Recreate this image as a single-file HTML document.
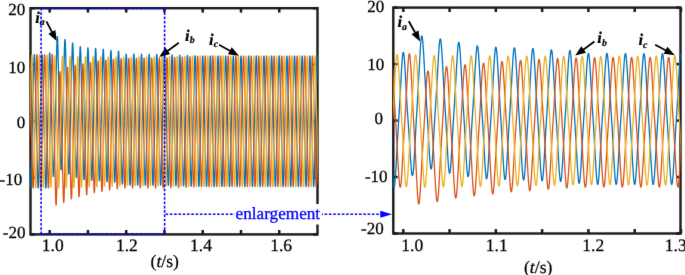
<!DOCTYPE html>
<html><head><meta charset="utf-8"><style>
html,body{margin:0;padding:0;background:#fff;}
svg{display:block;} text{text-rendering:geometricPrecision;}
</style></head><body>
<svg width="685" height="275" viewBox="0 0 685 275">
<defs><filter id="soft" x="0" y="0" width="1" height="1" color-interpolation-filters="sRGB"><feConvolveMatrix order="3" kernelMatrix="0.01 0.05 0.01 0.05 0.76 0.05 0.01 0.05 0.01" divisor="1" edgeMode="duplicate"/></filter></defs>
<g filter="url(#soft)">
<rect width="685" height="275" fill="#fff"/>
<g stroke="#1a1a1a" stroke-width="2.5"><line x1="49.69" y1="234.40" x2="49.69" y2="230.00"/><line x1="49.69" y1="8.20" x2="49.69" y2="12.60"/><line x1="87.95" y1="234.40" x2="87.95" y2="230.00"/><line x1="87.95" y1="8.20" x2="87.95" y2="12.60"/><line x1="126.21" y1="234.40" x2="126.21" y2="230.00"/><line x1="126.21" y1="8.20" x2="126.21" y2="12.60"/><line x1="164.47" y1="234.40" x2="164.47" y2="230.00"/><line x1="164.47" y1="8.20" x2="164.47" y2="12.60"/><line x1="202.73" y1="234.40" x2="202.73" y2="230.00"/><line x1="202.73" y1="8.20" x2="202.73" y2="12.60"/><line x1="240.99" y1="234.40" x2="240.99" y2="230.00"/><line x1="240.99" y1="8.20" x2="240.99" y2="12.60"/><line x1="279.25" y1="234.40" x2="279.25" y2="230.00"/><line x1="279.25" y1="8.20" x2="279.25" y2="12.60"/><line x1="30.50" y1="234.40" x2="34.90" y2="234.40"/><line x1="317.50" y1="234.40" x2="313.10" y2="234.40"/><line x1="30.50" y1="177.85" x2="34.90" y2="177.85"/><line x1="317.50" y1="177.85" x2="313.10" y2="177.85"/><line x1="30.50" y1="121.30" x2="34.90" y2="121.30"/><line x1="317.50" y1="121.30" x2="313.10" y2="121.30"/><line x1="30.50" y1="64.75" x2="34.90" y2="64.75"/><line x1="317.50" y1="64.75" x2="313.10" y2="64.75"/><line x1="30.50" y1="8.20" x2="34.90" y2="8.20"/><line x1="317.50" y1="8.20" x2="313.10" y2="8.20"/><rect x="30.50" y="8.20" width="287.00" height="226.20" fill="none" stroke-width="2.4"/></g>
<g stroke="#1a1a1a" stroke-width="2.5"><line x1="403.30" y1="233.50" x2="403.30" y2="229.10"/><line x1="403.30" y1="7.60" x2="403.30" y2="12.00"/><line x1="449.58" y1="233.50" x2="449.58" y2="229.10"/><line x1="449.58" y1="7.60" x2="449.58" y2="12.00"/><line x1="495.86" y1="233.50" x2="495.86" y2="229.10"/><line x1="495.86" y1="7.60" x2="495.86" y2="12.00"/><line x1="542.14" y1="233.50" x2="542.14" y2="229.10"/><line x1="542.14" y1="7.60" x2="542.14" y2="12.00"/><line x1="588.42" y1="233.50" x2="588.42" y2="229.10"/><line x1="588.42" y1="7.60" x2="588.42" y2="12.00"/><line x1="634.70" y1="233.50" x2="634.70" y2="229.10"/><line x1="634.70" y1="7.60" x2="634.70" y2="12.00"/><line x1="680.98" y1="233.50" x2="680.98" y2="229.10"/><line x1="680.98" y1="7.60" x2="680.98" y2="12.00"/><line x1="393.30" y1="233.50" x2="397.70" y2="233.50"/><line x1="680.50" y1="233.50" x2="676.10" y2="233.50"/><line x1="393.30" y1="177.03" x2="397.70" y2="177.03"/><line x1="680.50" y1="177.03" x2="676.10" y2="177.03"/><line x1="393.30" y1="120.55" x2="397.70" y2="120.55"/><line x1="680.50" y1="120.55" x2="676.10" y2="120.55"/><line x1="393.30" y1="64.08" x2="397.70" y2="64.08"/><line x1="680.50" y1="64.08" x2="676.10" y2="64.08"/><line x1="393.30" y1="7.60" x2="397.70" y2="7.60"/><line x1="680.50" y1="7.60" x2="676.10" y2="7.60"/><rect x="393.30" y="7.60" width="287.20" height="225.90" fill="none" stroke-width="2.4"/></g>
<clipPath id="cl"><rect x="30.30" y="8.90" width="287.40" height="224.80"/></clipPath><g clip-path="url(#cl)">
<polyline fill="none" stroke="#0072BD" stroke-width="1.3" stroke-linejoin="round" points="29.50,156.86 29.61,162.00 29.73,167.01 29.84,171.78 29.96,176.16 30.07,180.03 30.19,183.25 30.30,185.71 30.42,187.31 30.53,188.00 30.65,187.75 30.76,186.57 30.88,184.51 30.99,181.63 31.11,178.06 31.22,173.90 31.34,169.29 31.45,164.38 31.57,159.28 31.68,154.13 31.80,149.00 31.91,143.98 32.03,139.10 32.14,134.37 32.25,129.78 32.37,125.30 32.48,120.87 32.60,116.43 32.71,111.92 32.83,107.31 32.94,102.55 33.06,97.64 33.17,92.60 33.29,87.46 33.40,82.31 33.52,77.24 33.63,72.38 33.75,67.85 33.86,63.79 33.98,60.34 34.09,57.62 34.21,55.72 34.32,54.72 34.44,54.66 34.55,55.53 34.67,57.31 34.78,59.92 34.89,63.28 35.01,67.26 35.12,71.73 35.24,76.56 35.35,81.61 35.47,86.75 35.58,91.90 35.70,96.96 35.81,101.89 35.93,106.67 36.04,111.30 36.16,115.82 36.27,120.26 36.39,124.69 36.50,129.16 36.62,133.74 36.73,138.44 36.85,143.30 36.96,148.31 37.08,153.42 37.19,158.58 37.31,163.69 37.42,168.63 37.53,173.29 37.65,177.52 37.76,181.18 37.88,184.16 37.99,186.34 38.11,187.65 38.22,188.02 38.34,187.46 38.45,185.98 38.57,183.64 38.68,180.51 38.80,176.73 38.91,172.40 39.03,167.68 39.14,162.69 39.26,157.57 39.37,152.41 39.49,147.31 39.60,142.34 39.72,137.51 39.83,132.83 39.94,128.28 40.06,123.82 40.17,119.39 40.29,114.94 40.40,110.40 40.52,105.74 40.63,100.93 40.75,95.97 40.86,90.89 40.98,85.74 41.09,80.60 41.21,75.59 41.32,70.82 41.44,66.44 41.55,62.57 41.67,59.35 41.78,56.89 41.90,55.29 42.01,54.60 42.13,54.85 42.24,56.03 42.36,58.09 42.47,60.97 42.58,64.54 42.70,68.70 42.81,73.31 42.93,78.22 43.04,83.32 43.16,88.47 43.27,93.60 43.39,98.62 43.50,103.50 43.62,108.23 43.73,112.82 43.85,117.30 43.96,121.73 44.08,126.17 44.19,130.68 44.31,135.29 44.42,140.05 44.54,144.96 44.65,150.00 44.77,155.14 44.88,160.29 45.00,165.36 45.11,170.22 45.22,174.75 45.34,178.81 45.45,182.26 45.57,184.98 45.68,186.88 45.80,187.88 45.91,187.94 46.03,187.07 46.14,185.29 46.26,182.68 46.37,179.32 46.49,175.34 46.60,170.87 46.72,166.04 46.83,160.99 46.95,155.85 47.06,150.70 47.18,145.64 47.29,140.71 47.41,135.93 47.52,131.30 47.64,126.78 47.75,122.34 47.86,117.91 47.98,113.41 48.09,108.81 48.21,104.06 48.32,99.14 48.44,94.05 48.55,88.85 48.67,83.58 48.78,78.35 48.90,73.26 49.01,68.46 49.13,64.07 49.24,60.25 49.36,57.12 49.47,54.79 49.59,53.36 49.70,52.88 49.82,53.51 49.93,55.08 50.05,57.53 50.16,60.77 50.28,64.68 50.39,69.14 50.50,73.99 50.62,79.11 50.73,84.36 50.85,89.64 50.96,94.84 51.08,99.92 51.19,104.84 51.31,109.15 51.42,113.18 51.54,117.11 51.65,121.00 51.77,124.91 51.88,128.89 52.00,133.00 52.11,137.25 52.23,141.64 52.34,146.15 52.46,150.72 52.57,155.27 52.69,159.68 52.80,163.84 52.92,167.62 53.03,170.86 53.14,173.45 53.26,175.27 53.37,176.23 53.49,176.28 53.60,175.73 53.72,174.37 53.83,172.11 53.95,169.05 54.06,165.28 54.18,160.94 54.29,156.14 54.41,151.04 54.52,145.76 54.64,140.42 54.75,135.11 54.87,129.90 54.98,124.84 55.10,119.92 55.21,115.15 55.33,110.48 55.44,105.86 55.56,101.24 55.67,96.55 55.78,91.75 55.90,86.81 56.01,81.72 56.13,76.49 56.24,71.17 56.36,65.84 56.47,60.59 56.59,55.54 56.70,50.83 56.82,46.59 56.93,42.96 57.05,40.06 57.16,37.98 57.28,36.79 57.39,36.62 57.51,37.50 57.62,39.27 57.74,41.89 57.85,45.24 57.97,49.22 58.08,53.69 58.19,58.51 58.31,63.56 58.42,68.70 58.54,73.84 58.65,78.89 58.77,83.82 58.88,88.59 59.00,93.22 59.11,97.73 59.23,102.16 59.34,106.59 59.46,111.06 59.57,115.62 59.69,120.32 59.80,125.18 59.92,130.17 60.03,135.28 60.15,140.42 60.26,145.52 60.38,150.46 60.49,155.11 60.61,159.33 60.72,162.99 60.83,165.96 60.95,168.13 61.06,169.43 61.18,169.82 61.29,169.34 61.41,167.94 61.52,165.69 61.64,162.65 61.75,158.96 61.87,154.73 61.98,150.09 62.10,145.20 62.21,140.17 62.33,135.11 62.44,130.11 62.56,125.22 62.67,120.49 62.79,115.90 62.90,111.45 63.02,107.08 63.13,102.75 63.25,98.39 63.36,93.95 63.47,89.39 63.59,84.67 63.70,79.81 63.82,74.83 63.93,69.77 64.05,64.74 64.16,59.82 64.28,55.15 64.39,50.86 64.51,47.09 64.62,43.97 64.74,41.60 64.85,40.09 64.97,39.49 65.08,39.80 65.20,41.03 65.31,43.14 65.43,46.06 65.54,49.68 65.66,53.88 65.77,58.52 65.89,63.48 66.00,68.61 66.11,73.80 66.23,78.96 66.34,84.02 66.46,88.94 66.57,93.70 66.69,98.33 66.80,102.85 66.92,107.32 67.03,111.79 67.15,116.33 67.26,120.98 67.38,125.77 67.49,130.72 67.61,135.80 67.72,140.97 67.84,146.15 67.95,151.25 68.07,156.15 68.18,160.71 68.30,164.81 68.41,168.29 68.53,171.05 68.64,172.99 68.75,174.04 68.87,174.15 68.98,173.33 69.10,171.61 69.21,169.05 69.33,165.76 69.44,161.84 69.56,157.44 69.67,152.68 69.79,147.70 69.90,142.62 70.02,137.55 70.13,132.56 70.25,127.69 70.36,122.99 70.48,118.42 70.59,113.98 70.71,109.60 70.82,105.24 70.94,100.83 71.05,96.33 71.17,91.69 71.28,86.91 71.39,81.97 71.51,76.93 71.62,71.85 71.74,66.82 71.85,61.94 71.97,57.36 72.08,53.20 72.20,49.60 72.31,46.69 72.43,44.57 72.54,43.33 72.66,43.00 72.77,43.62 72.89,45.14 73.00,47.53 73.12,50.69 73.23,54.51 73.35,58.87 73.46,63.62 73.58,68.64 73.69,73.79 73.81,78.97 73.92,84.10 74.03,89.10 74.15,93.96 74.26,98.67 74.38,103.25 74.49,107.74 74.61,112.20 74.72,116.68 74.84,121.24 74.95,125.93 75.07,130.76 75.18,135.75 75.30,140.85 75.41,146.03 75.53,151.19 75.64,156.23 75.76,161.02 75.87,165.43 75.99,169.33 76.10,172.58 76.22,175.08 76.33,176.72 76.45,177.46 76.56,177.26 76.67,176.13 76.79,174.13 76.90,171.32 77.02,167.81 77.13,163.72 77.25,159.19 77.36,154.35 77.48,149.34 77.59,144.26 77.71,139.22 77.82,134.27 77.94,129.47 78.05,124.82 78.17,120.31 78.28,115.90 78.40,111.54 78.51,107.18 78.63,102.76 78.74,98.22 78.86,93.54 78.97,88.71 79.08,83.75 79.20,78.69 79.31,73.62 79.43,68.64 79.54,63.86 79.66,59.41 79.77,55.43 79.89,52.05 80.00,49.40 80.12,47.57 80.23,46.63 80.35,46.60 80.46,47.49 80.58,49.27 80.69,51.89 80.81,55.24 80.92,59.22 81.04,63.68 81.15,68.49 81.27,73.53 81.38,78.66 81.50,83.78 81.61,88.83 81.72,93.75 81.84,98.51 81.95,103.13 82.07,107.63 82.18,112.06 82.30,116.48 82.41,120.94 82.53,125.50 82.64,130.19 82.76,135.04 82.87,140.02 82.99,145.12 83.10,150.25 83.22,155.34 83.33,160.27 83.45,164.91 83.56,169.12 83.68,172.78 83.79,175.75 83.91,177.93 84.02,179.24 84.14,179.63 84.25,179.09 84.36,177.63 84.48,175.32 84.59,172.24 84.71,168.49 84.82,164.22 84.94,159.54 85.05,154.61 85.17,149.53 85.28,144.43 85.40,139.39 85.51,134.47 85.63,129.69 85.74,125.06 85.86,120.57 85.97,116.15 86.09,111.78 86.20,107.37 86.32,102.89 86.43,98.29 86.55,93.53 86.66,88.63 86.78,83.60 86.89,78.51 87.00,73.43 87.12,68.47 87.23,63.76 87.35,59.43 87.46,55.61 87.58,52.43 87.69,50.02 87.81,48.44 87.92,47.78 88.04,48.04 88.15,49.22 88.27,51.28 88.38,54.14 88.50,57.70 88.61,61.83 88.73,66.41 88.84,71.29 88.96,76.35 89.07,81.48 89.19,86.57 89.30,91.56 89.42,96.41 89.53,101.10 89.64,105.66 89.76,110.12 89.87,114.52 89.99,118.93 90.10,123.40 90.22,127.99 90.33,132.71 90.45,137.59 90.56,142.60 90.68,147.70 90.79,152.81 90.91,157.84 91.02,162.67 91.14,167.17 91.25,171.20 91.37,174.62 91.48,177.33 91.60,179.21 91.71,180.21 91.83,180.28 91.94,179.42 92.06,177.67 92.17,175.08 92.28,171.76 92.40,167.83 92.51,163.40 92.63,158.63 92.74,153.63 92.86,148.54 92.97,143.45 93.09,138.44 93.20,133.57 93.32,128.84 93.43,124.26 93.55,119.80 93.66,115.40 93.78,111.02 93.89,106.60 94.01,102.08 94.12,97.42 94.24,92.62 94.35,87.67 94.47,82.62 94.58,77.52 94.70,72.47 94.81,67.58 94.92,62.98 95.04,58.80 95.15,55.18 95.27,52.24 95.38,50.09 95.50,48.81 95.61,48.45 95.73,49.01 95.84,50.49 95.96,52.82 96.07,55.92 96.19,59.68 96.30,63.97 96.42,68.66 96.53,73.61 96.65,78.69 96.76,83.80 96.88,88.86 96.99,93.79 97.11,98.58 97.22,103.22 97.33,107.73 97.45,112.16 97.56,116.55 97.68,120.97 97.79,125.46 97.91,130.08 98.02,134.85 98.14,139.76 98.25,144.80 98.37,149.91 98.48,155.00 98.60,159.96 98.71,164.69 98.83,169.04 98.94,172.87 99.06,176.06 99.17,178.50 99.29,180.09 99.40,180.78 99.52,180.54 99.63,179.38 99.75,177.35 99.86,174.51 99.97,170.98 100.09,166.87 100.20,162.32 100.32,157.47 100.43,152.44 100.55,147.35 100.66,142.29 100.78,137.33 100.89,132.51 101.01,127.84 101.12,123.31 101.24,118.88 101.35,114.51 101.47,110.13 101.58,105.69 101.70,101.13 101.81,96.44 101.93,91.59 102.04,86.61 102.16,81.54 102.27,76.46 102.39,71.46 102.50,66.66 102.61,62.19 102.73,58.19 102.84,54.79 102.96,52.11 103.07,50.25 103.19,49.27 103.30,49.22 103.42,50.10 103.53,51.88 103.65,54.48 103.76,57.82 103.88,61.77 103.99,66.21 104.11,70.99 104.22,76.00 104.34,81.10 104.45,86.20 104.57,91.22 104.68,96.11 104.80,100.85 104.91,105.44 105.03,109.92 105.14,114.33 105.25,118.72 105.37,123.16 105.48,127.70 105.60,132.36 105.71,137.18 105.83,142.14 105.94,147.21 106.06,152.32 106.17,157.38 106.29,162.28 106.40,166.89 106.52,171.08 106.63,174.72 106.75,177.68 106.86,179.85 106.98,181.15 107.09,181.54 107.21,181.00 107.32,179.55 107.44,177.25 107.55,174.18 107.67,170.46 107.78,166.21 107.89,161.56 108.01,156.65 108.12,151.60 108.24,146.53 108.35,141.52 108.47,136.62 108.58,131.87 108.70,127.26 108.81,122.79 108.93,118.40 109.04,114.05 109.16,109.67 109.27,105.21 109.39,100.63 109.50,95.90 109.62,91.03 109.73,86.03 109.85,80.96 109.96,75.91 110.08,70.98 110.19,66.29 110.31,61.98 110.42,58.19 110.53,55.03 110.65,52.62 110.76,51.06 110.88,50.40 110.99,50.65 111.11,51.83 111.22,53.88 111.34,56.72 111.45,60.26 111.57,64.38 111.68,68.93 111.80,73.79 111.91,78.82 112.03,83.91 112.14,88.98 112.26,93.94 112.37,98.76 112.49,103.43 112.60,107.97 112.72,112.40 112.83,116.78 112.95,121.17 113.06,125.62 113.17,130.17 113.29,134.87 113.40,139.72 113.52,144.71 113.63,149.78 113.75,154.86 113.86,159.87 113.98,164.67 114.09,169.14 114.21,173.15 114.32,176.56 114.44,179.25 114.55,181.12 114.67,182.12 114.78,182.19 114.90,181.33 115.01,179.59 115.13,177.02 115.24,173.72 115.36,169.80 115.47,165.40 115.58,160.65 115.70,155.68 115.81,150.62 115.93,145.56 116.04,140.58 116.16,135.72 116.27,131.02 116.39,126.47 116.50,122.03 116.62,117.66 116.73,113.30 116.85,108.90 116.96,104.41 117.08,99.78 117.19,95.00 117.31,90.08 117.42,85.05 117.54,79.98 117.65,74.96 117.77,70.09 117.88,65.52 118.00,61.36 118.11,57.76 118.22,54.84 118.34,52.70 118.45,51.43 118.57,51.07 118.68,51.68 118.80,53.19 118.91,55.55 119.03,58.68 119.14,62.46 119.26,66.77 119.37,71.47 119.49,76.43 119.60,81.53 119.72,86.66 119.83,91.73 119.95,96.68 120.06,101.49 120.18,106.14 120.29,110.67 120.41,115.12 120.52,119.53 120.64,123.96 120.75,128.48 120.86,133.11 120.98,137.90 121.09,142.83 121.21,147.88 121.32,153.00 121.44,158.10 121.55,163.09 121.67,167.83 121.78,172.20 121.90,176.05 122.01,179.27 122.13,181.74 122.24,183.36 122.36,184.09 122.47,183.88 122.59,182.75 122.70,180.75 122.82,177.96 122.93,174.47 123.05,170.41 123.16,165.91 123.28,161.11 123.39,156.13 123.50,151.09 123.62,146.09 123.73,141.18 123.85,136.41 123.96,131.80 124.08,127.32 124.19,122.94 124.31,118.61 124.42,114.28 124.54,109.89 124.65,105.39 124.77,100.74 124.88,95.95 125.00,91.02 125.11,86.00 125.23,80.97 125.34,76.03 125.46,71.28 125.57,66.86 125.69,62.91 125.80,59.55 125.92,56.91 126.03,55.08 126.14,54.13 126.26,54.09 126.37,54.95 126.49,56.70 126.60,59.27 126.72,62.57 126.83,66.49 126.95,70.88 127.06,75.63 127.18,80.59 127.29,85.65 127.41,90.71 127.52,95.69 127.64,100.53 127.75,105.23 127.87,109.79 127.98,114.23 128.10,118.59 128.21,122.95 128.33,127.35 128.44,131.84 128.56,136.47 128.67,141.25 128.78,146.17 128.90,151.20 129.01,156.26 129.13,161.29 129.24,166.15 129.36,170.73 129.47,174.88 129.59,178.49 129.70,181.41 129.82,183.56 129.93,184.84 130.05,185.21 130.16,184.66 130.28,183.20 130.39,180.90 130.51,177.83 130.62,174.11 130.74,169.86 130.85,165.22 130.97,160.32 131.08,155.28 131.20,150.22 131.31,145.21 131.42,140.32 131.54,135.57 131.65,130.97 131.77,126.50 131.88,122.12 132.00,117.77 132.11,113.39 132.23,108.94 132.34,104.36 132.46,99.63 132.57,94.76 132.69,89.77 132.80,84.71 132.92,79.66 133.03,74.74 133.15,70.05 133.26,65.74 133.38,61.94 133.49,58.78 133.61,56.37 133.72,54.79 133.84,54.12 133.95,54.36 134.06,55.52 134.18,57.55 134.29,60.38 134.41,63.90 134.52,67.98 134.64,72.51 134.75,77.34 134.87,82.35 134.98,87.41 135.10,92.45 135.21,97.39 135.33,102.18 135.44,106.83 135.56,111.34 135.67,115.75 135.79,120.10 135.90,124.46 136.02,128.89 136.13,133.42 136.25,138.10 136.36,142.92 136.47,147.88 136.59,152.93 136.70,157.99 136.82,162.97 136.93,167.75 137.05,172.20 137.16,176.18 137.28,179.57 137.39,182.25 137.51,184.11 137.62,185.09 137.74,185.16 137.85,184.30 137.97,182.55 138.08,179.99 138.20,176.69 138.31,172.78 138.43,168.39 138.54,163.65 138.66,158.69 138.77,153.63 138.89,148.58 139.00,143.61 139.11,138.77 139.23,134.07 139.34,129.52 139.46,125.09 139.57,120.72 139.69,116.37 139.80,111.98 139.92,107.49 140.03,102.87 140.15,98.09 140.26,93.18 140.38,88.16 140.49,83.09 140.61,78.08 140.72,73.22 140.84,68.65 140.95,64.49 141.07,60.89 141.18,57.97 141.30,55.83 141.41,54.55 141.53,54.18 141.64,54.73 141.75,56.19 141.87,58.49 141.98,61.56 142.10,65.28 142.21,69.53 142.33,74.17 142.44,79.07 142.56,84.11 142.67,89.17 142.79,94.18 142.90,99.07 143.02,103.81 143.13,108.41 143.25,112.88 143.36,117.26 143.48,121.61 143.59,125.98 143.71,130.44 143.82,135.01 143.94,139.74 144.05,144.61 144.17,149.60 144.28,154.66 144.39,159.70 144.51,164.63 144.62,169.31 144.74,173.62 144.85,177.42 144.97,180.58 145.08,182.99 145.20,184.57 145.31,185.25 145.43,185.00 145.54,183.84 145.66,181.82 145.77,178.99 145.89,175.48 146.00,171.40 146.12,166.87 146.23,162.05 146.35,157.05 146.46,151.99 146.58,146.96 146.69,142.03 146.81,137.23 146.92,132.59 147.03,128.09 147.15,123.68 147.26,119.33 147.38,114.97 147.49,110.56 147.61,106.03 147.72,101.36 147.84,96.54 147.95,91.58 148.07,86.54 148.18,81.48 148.30,76.51 148.41,71.73 148.53,67.29 148.64,63.31 148.76,59.92 148.87,57.25 148.99,55.39 149.10,54.41 149.22,54.35 149.33,55.21 149.45,56.95 149.56,59.52 149.67,62.82 149.79,66.73 149.90,71.12 150.02,75.86 150.13,80.81 150.25,85.87 150.36,90.92 150.48,95.89 150.59,100.73 150.71,105.42 150.82,109.97 150.94,114.40 151.05,118.77 151.17,123.12 151.28,127.51 151.40,132.00 151.51,136.62 151.63,141.39 151.74,146.30 151.86,151.32 151.97,156.39 152.09,161.40 152.20,166.26 152.31,170.83 152.43,174.98 152.54,178.58 152.66,181.50 152.77,183.64 152.89,184.92 153.00,185.30 153.12,184.74 153.23,183.29 153.35,180.99 153.46,177.93 153.58,174.21 153.69,169.97 153.81,165.33 153.92,160.43 154.04,155.40 154.15,150.35 154.27,145.34 154.38,140.46 154.50,135.72 154.61,131.13 154.72,126.66 154.84,122.29 154.95,117.94 155.07,113.57 155.18,109.12 155.30,104.55 155.41,99.83 155.53,94.96 155.64,89.98 155.76,84.92 155.87,79.88 155.99,74.96 156.10,70.29 156.22,65.98 156.33,62.19 156.45,59.03 156.56,56.62 156.68,55.05 156.79,54.37 156.91,54.62 157.02,55.78 157.14,57.80 157.25,60.63 157.36,64.14 157.48,68.22 157.59,72.74 157.71,77.57 157.82,82.57 157.94,87.63 158.05,92.65 158.17,97.58 158.28,102.37 158.40,107.01 158.51,111.52 158.63,115.92 158.74,120.27 158.86,124.63 158.97,129.05 159.09,133.57 159.20,138.24 159.32,143.06 159.43,148.01 159.55,153.05 159.66,158.11 159.78,163.08 159.89,167.86 160.00,172.30 160.12,176.28 160.23,179.66 160.35,182.34 160.46,184.20 160.58,185.18 160.69,185.24 160.81,184.39 160.92,182.64 161.04,180.08 161.15,176.79 161.27,172.88 161.38,168.49 161.50,163.76 161.61,158.81 161.73,153.76 161.84,148.71 161.96,143.75 162.07,138.91 162.19,134.22 162.30,129.68 162.42,125.25 162.53,120.89 162.64,116.55 162.76,112.16 162.87,107.67 162.99,103.06 163.10,98.29 163.22,93.38 163.33,88.37 163.45,83.31 163.56,78.30 163.68,73.45 163.79,68.88 163.91,64.73 164.02,61.14 164.14,58.22 164.25,56.08 164.37,54.80 164.48,54.43 164.60,54.99 164.71,56.45 164.83,58.75 164.94,61.82 165.06,65.54 165.17,69.79 165.28,74.42 165.40,79.32 165.51,84.35 165.63,89.41 165.74,94.42 165.86,99.30 165.97,104.05 166.09,108.64 166.20,113.10 166.32,117.49 166.43,121.83 166.55,126.21 166.66,130.66 166.78,135.23 166.89,139.95 167.01,144.82 167.12,149.81 167.24,154.86 167.35,159.91 167.47,164.83 167.58,169.51 167.70,173.81 167.81,177.61 167.92,180.77 168.04,183.19 168.15,184.76 168.27,185.44 168.38,185.20 168.50,184.05 168.61,182.03 168.73,179.21 168.84,175.71 168.96,171.63 169.07,167.12 169.19,162.30 169.30,157.31 169.42,152.26 169.53,147.24 169.65,142.32 169.76,137.54 169.88,132.90 169.99,128.41 170.11,124.02 170.22,119.67 170.34,115.32 170.45,110.91 170.56,106.39 170.68,101.73 170.79,96.92 170.91,91.98 171.02,86.95 171.14,81.90 171.25,76.93 171.37,72.17 171.48,67.73 171.60,63.76 171.71,60.38 171.83,57.72 171.94,55.86 172.06,54.89 172.17,54.83 172.29,55.69 172.40,57.44 172.52,60.01 172.63,63.30 172.75,67.21 172.86,71.60 172.97,76.34 173.09,81.29 173.20,86.34 173.32,91.39 173.43,96.35 173.55,101.19 173.66,105.88 173.78,110.43 173.89,114.86 174.01,119.22 174.12,123.57 174.24,127.96 174.35,132.44 174.47,137.06 174.58,141.83 174.70,146.74 174.81,151.76 174.93,156.82 175.04,161.83 175.16,166.68 175.27,171.25 175.39,175.40 175.50,179.00 175.61,181.92 175.73,184.06 175.84,185.35 175.96,185.72 176.07,185.17 176.19,183.72 176.30,181.43 176.42,178.37 176.53,174.67 176.65,170.43 176.76,165.80 176.88,160.92 176.99,155.90 177.11,150.85 177.22,145.86 177.34,140.98 177.45,136.25 177.57,131.67 177.68,127.22 177.80,122.85 177.91,118.51 178.03,114.15 178.14,109.71 178.25,105.15 178.37,100.44 178.48,95.58 178.60,90.60 178.71,85.56 178.83,80.53 178.94,75.62 179.06,70.95 179.17,66.66 179.29,62.87 179.40,59.72 179.52,57.32 179.63,55.75 179.75,55.08 179.86,55.33 179.98,56.49 180.09,58.52 180.21,61.34 180.32,64.85 180.44,68.93 180.55,73.45 180.67,78.27 180.78,83.27 180.89,88.32 181.01,93.35 181.12,98.27 181.24,103.06 181.35,107.70 181.47,112.20 181.58,116.60 181.70,120.95 181.81,125.30 181.93,129.72 182.04,134.24 182.16,138.91 182.27,143.73 182.39,148.68 182.50,153.71 182.62,158.77 182.73,163.74 182.85,168.51 182.96,172.95 183.08,176.93 183.19,180.31 183.31,182.98 183.42,184.84 183.53,185.83 183.65,185.89 183.76,185.04 183.88,183.31 183.99,180.75 184.11,177.46 184.22,173.57 184.34,169.19 184.45,164.46 184.57,159.52 184.68,154.48 184.80,149.45 184.91,144.49 185.03,139.66 185.14,134.99 185.26,130.45 185.37,126.03 185.49,121.68 185.60,117.35 185.72,112.97 185.83,108.49 185.95,103.88 186.06,99.13 186.17,94.23 186.29,89.22 186.40,84.17 186.52,79.17 186.63,74.33 186.75,69.78 186.86,65.64 186.98,62.05 187.09,59.14 187.21,57.01 187.32,55.73 187.44,55.37 187.55,55.92 187.67,57.38 187.78,59.68 187.90,62.74 188.01,66.46 188.13,70.70 188.24,75.33 188.36,80.22 188.47,85.25 188.59,90.30 188.70,95.30 188.81,100.18 188.93,104.91 189.04,109.50 189.16,113.96 189.27,118.34 189.39,122.68 189.50,127.05 189.62,131.49 189.73,136.06 189.85,140.77 189.96,145.64 190.08,150.62 190.19,155.67 190.31,160.70 190.42,165.62 190.54,170.29 190.65,174.59 190.77,178.38 190.88,181.54 191.00,183.95 191.11,185.53 191.23,186.21 191.34,185.97 191.45,184.81 191.57,182.80 191.68,179.98 191.80,176.48 191.91,172.41 192.03,167.91 192.14,163.10 192.26,158.11 192.37,153.07 192.49,148.05 192.60,143.14 192.72,138.36 192.83,133.74 192.95,129.25 193.06,124.86 193.18,120.52 193.29,116.18 193.41,111.77 193.52,107.26 193.64,102.60 193.75,97.80 193.86,92.86 193.98,87.84 194.09,82.80 194.21,77.84 194.32,73.08 194.44,68.65 194.55,64.68 194.67,61.31 194.78,58.65 194.90,56.79 195.01,55.82 195.13,55.76 195.24,56.62 195.36,58.37 195.47,60.93 195.59,64.22 195.70,68.13 195.82,72.51 195.93,77.24 196.05,82.19 196.16,87.23 196.28,92.27 196.39,97.23 196.50,102.06 196.62,106.75 196.73,111.29 196.85,115.71 196.96,120.07 197.08,124.41 197.19,128.80 197.31,133.28 197.42,137.89 197.54,142.65 197.65,147.56 197.77,152.57 197.88,157.62 198.00,162.62 198.11,167.47 198.23,172.03 198.34,176.18 198.46,179.77 198.57,182.69 198.69,184.83 198.80,186.11 198.92,186.48 199.03,185.94 199.14,184.49 199.26,182.20 199.37,179.15 199.49,175.44 199.60,171.21 199.72,166.59 199.83,161.71 199.95,156.70 200.06,151.66 200.18,146.67 200.29,141.80 200.41,137.08 200.52,132.50 200.64,128.05 200.75,123.69 200.87,119.36 200.98,115.00 201.10,110.57 201.21,106.01 201.33,101.31 201.44,96.46 201.56,91.49 201.67,86.45 201.78,81.43 201.90,76.53 202.01,71.86 202.13,67.57 202.24,63.79 202.36,60.65 202.47,58.25 202.59,56.68 202.70,56.01 202.82,56.25 202.93,57.41 203.05,59.43 203.16,62.24 203.28,65.75 203.39,69.82 203.51,74.33 203.62,79.14 203.74,84.12 203.85,89.17 203.97,94.18 204.08,99.10 204.20,103.88 204.31,108.50 204.42,113.00 204.54,117.39 204.65,121.73 204.77,126.07 204.88,130.48 205.00,134.99 205.11,139.65 205.23,144.46 205.34,149.40 205.46,154.42 205.57,159.47 205.69,164.43 205.80,169.19 205.92,173.62 206.03,177.59 206.15,180.97 206.26,183.63 206.38,185.49 206.49,186.47 206.61,186.53 206.72,185.67 206.84,183.93 206.95,181.38 207.06,178.09 207.18,174.19 207.29,169.82 207.41,165.09 207.52,160.15 207.64,155.11 207.75,150.08 207.87,145.12 207.98,140.30 208.10,135.62 208.21,131.09 208.33,126.67 208.44,122.32 208.56,117.98 208.67,113.60 208.79,109.13 208.90,104.52 209.02,99.76 209.13,94.86 209.25,89.86 209.36,84.81 209.48,79.81 209.59,74.97 209.70,70.41 209.82,66.27 209.93,62.69 210.05,59.77 210.16,57.64 210.28,56.36 210.39,55.99 210.51,56.54 210.62,57.99 210.74,60.29 210.85,63.34 210.97,67.05 211.08,71.28 211.20,75.90 211.31,80.79 211.43,85.80 211.54,90.85 211.66,95.84 211.77,100.71 211.89,105.44 212.00,110.02 212.11,114.47 212.23,118.84 212.34,123.17 212.46,127.53 212.57,131.97 212.69,136.53 212.80,141.24 212.92,146.09 213.03,151.06 213.15,156.11 213.26,161.13 213.38,166.04 213.49,170.71 213.61,175.00 213.72,178.79 213.84,181.94 213.95,184.34 214.07,185.91 214.18,186.59 214.30,186.35 214.41,185.19 214.53,183.17 214.64,180.36 214.75,176.85 214.87,172.78 214.98,168.27 215.10,163.46 215.21,158.48 215.33,153.43 215.44,148.42 215.56,143.50 215.67,138.72 215.79,134.10 215.90,129.60 216.02,125.21 216.13,120.87 216.25,116.53 216.36,112.12 216.48,107.61 216.59,102.95 216.71,98.14 216.82,93.20 216.94,88.18 217.05,83.13 217.17,78.17 217.28,73.41 217.39,68.98 217.51,65.01 217.62,61.63 217.74,58.97 217.85,57.11 217.97,56.13 218.08,56.07 218.20,56.93 218.31,58.67 218.43,61.22 218.54,64.51 218.66,68.41 218.77,72.78 218.89,77.51 219.00,82.45 219.12,87.49 219.23,92.52 219.35,97.48 219.46,102.30 219.58,106.98 219.69,111.51 219.81,115.93 219.92,120.28 220.03,124.62 220.15,129.00 220.26,133.47 220.38,138.08 220.49,142.84 220.61,147.74 220.72,152.74 220.84,157.79 220.95,162.79 221.07,167.63 221.18,172.19 221.30,176.33 221.41,179.91 221.53,182.83 221.64,184.96 221.76,186.24 221.87,186.61 221.99,186.06 222.10,184.61 222.22,182.31 222.33,179.26 222.45,175.55 222.56,171.32 222.67,166.70 222.79,161.81 222.90,156.80 223.02,151.75 223.13,146.76 223.25,141.89 223.36,137.16 223.48,132.58 223.59,128.13 223.71,123.76 223.82,119.43 223.94,115.07 224.05,110.63 224.17,106.07 224.28,101.36 224.40,96.51 224.51,91.54 224.63,86.49 224.74,81.47 224.86,76.56 224.97,71.89 225.09,67.60 225.20,63.81 225.31,60.66 225.43,58.26 225.54,56.69 225.66,56.01 225.77,56.25 225.89,57.41 226.00,59.43 226.12,62.24 226.23,65.75 226.35,69.82 226.46,74.33 226.58,79.14 226.69,84.12 226.81,89.17 226.92,94.18 227.04,99.10 227.15,103.88 227.27,108.50 227.38,113.00 227.50,117.39 227.61,121.73 227.73,126.07 227.84,130.48 227.95,134.99 228.07,139.65 228.18,144.46 228.30,149.40 228.41,154.42 228.53,159.47 228.64,164.43 228.76,169.19 228.87,173.62 228.99,177.59 229.10,180.97 229.22,183.63 229.33,185.49 229.45,186.47 229.56,186.53 229.68,185.67 229.79,183.93 229.91,181.38 230.02,178.09 230.14,174.19 230.25,169.82 230.36,165.09 230.48,160.15 230.59,155.11 230.71,150.08 230.82,145.12 230.94,140.30 231.05,135.62 231.17,131.09 231.28,126.67 231.40,122.32 231.51,117.98 231.63,113.60 231.74,109.13 231.86,104.52 231.97,99.76 232.09,94.86 232.20,89.86 232.32,84.81 232.43,79.81 232.55,74.97 232.66,70.41 232.78,66.27 232.89,62.69 233.00,59.77 233.12,57.64 233.23,56.36 233.35,55.99 233.46,56.54 233.58,57.99 233.69,60.29 233.81,63.34 233.92,67.05 234.04,71.28 234.15,75.90 234.27,80.79 234.38,85.80 234.50,90.85 234.61,95.84 234.73,100.71 234.84,105.44 234.96,110.02 235.07,114.47 235.19,118.84 235.30,123.17 235.42,127.53 235.53,131.97 235.64,136.53 235.76,141.24 235.87,146.09 235.99,151.06 236.10,156.11 236.22,161.13 236.33,166.04 236.45,170.71 236.56,175.00 236.68,178.79 236.79,181.94 236.91,184.34 237.02,185.91 237.14,186.59 237.25,186.35 237.37,185.19 237.48,183.17 237.60,180.36 237.71,176.85 237.83,172.78 237.94,168.27 238.06,163.46 238.17,158.48 238.28,153.43 238.40,148.42 238.51,143.50 238.63,138.72 238.74,134.10 238.86,129.60 238.97,125.21 239.09,120.87 239.20,116.53 239.32,112.12 239.43,107.61 239.55,102.95 239.66,98.14 239.78,93.20 239.89,88.18 240.01,83.13 240.12,78.17 240.24,73.41 240.35,68.98 240.47,65.01 240.58,61.63 240.70,58.97 240.81,57.11 240.92,56.13 241.04,56.07 241.15,56.93 241.27,58.67 241.38,61.22 241.50,64.51 241.61,68.41 241.73,72.78 241.84,77.51 241.96,82.45 242.07,87.49 242.19,92.52 242.30,97.48 242.42,102.30 242.53,106.98 242.65,111.51 242.76,115.93 242.88,120.28 242.99,124.62 243.11,129.00 243.22,133.47 243.34,138.08 243.45,142.84 243.56,147.74 243.68,152.74 243.79,157.79 243.91,162.79 244.02,167.63 244.14,172.19 244.25,176.33 244.37,179.91 244.48,182.83 244.60,184.96 244.71,186.24 244.83,186.61 244.94,186.06 245.06,184.61 245.17,182.31 245.29,179.26 245.40,175.55 245.52,171.32 245.63,166.70 245.75,161.81 245.86,156.80 245.98,151.75 246.09,146.76 246.20,141.89 246.32,137.16 246.43,132.58 246.55,128.13 246.66,123.76 246.78,119.43 246.89,115.07 247.01,110.63 247.12,106.07 247.24,101.36 247.35,96.51 247.47,91.54 247.58,86.49 247.70,81.47 247.81,76.56 247.93,71.89 248.04,67.60 248.16,63.81 248.27,60.66 248.39,58.26 248.50,56.69 248.62,56.01 248.73,56.25 248.84,57.41 248.96,59.43 249.07,62.24 249.19,65.75 249.30,69.82 249.42,74.33 249.53,79.14 249.65,84.12 249.76,89.17 249.88,94.18 249.99,99.10 250.11,103.88 250.22,108.50 250.34,113.00 250.45,117.39 250.57,121.73 250.68,126.07 250.80,130.48 250.91,134.99 251.03,139.65 251.14,144.46 251.25,149.40 251.37,154.42 251.48,159.47 251.60,164.43 251.71,169.19 251.83,173.62 251.94,177.59 252.06,180.97 252.17,183.63 252.29,185.49 252.40,186.47 252.52,186.53 252.63,185.67 252.75,183.93 252.86,181.38 252.98,178.09 253.09,174.19 253.21,169.82 253.32,165.09 253.44,160.15 253.55,155.11 253.67,150.08 253.78,145.12 253.89,140.30 254.01,135.62 254.12,131.09 254.24,126.67 254.35,122.32 254.47,117.98 254.58,113.60 254.70,109.13 254.81,104.52 254.93,99.76 255.04,94.86 255.16,89.86 255.27,84.81 255.39,79.81 255.50,74.97 255.62,70.41 255.73,66.27 255.85,62.69 255.96,59.77 256.08,57.64 256.19,56.36 256.31,55.99 256.42,56.54 256.53,57.99 256.65,60.29 256.76,63.34 256.88,67.05 256.99,71.28 257.11,75.90 257.22,80.79 257.34,85.80 257.45,90.85 257.57,95.84 257.68,100.71 257.80,105.44 257.91,110.02 258.03,114.47 258.14,118.84 258.26,123.17 258.37,127.53 258.49,131.97 258.60,136.53 258.72,141.24 258.83,146.09 258.95,151.06 259.06,156.11 259.17,161.13 259.29,166.04 259.40,170.71 259.52,175.00 259.63,178.79 259.75,181.94 259.86,184.34 259.98,185.91 260.09,186.59 260.21,186.35 260.32,185.19 260.44,183.17 260.55,180.36 260.67,176.85 260.78,172.78 260.90,168.27 261.01,163.46 261.13,158.48 261.24,153.43 261.36,148.42 261.47,143.50 261.59,138.72 261.70,134.10 261.81,129.60 261.93,125.21 262.04,120.87 262.16,116.53 262.27,112.12 262.39,107.61 262.50,102.95 262.62,98.14 262.73,93.20 262.85,88.18 262.96,83.13 263.08,78.17 263.19,73.41 263.31,68.98 263.42,65.01 263.54,61.63 263.65,58.97 263.77,57.11 263.88,56.13 264.00,56.07 264.11,56.93 264.23,58.67 264.34,61.22 264.45,64.51 264.57,68.41 264.68,72.78 264.80,77.51 264.91,82.45 265.03,87.49 265.14,92.52 265.26,97.48 265.37,102.30 265.49,106.98 265.60,111.51 265.72,115.93 265.83,120.28 265.95,124.62 266.06,129.00 266.18,133.47 266.29,138.08 266.41,142.84 266.52,147.74 266.64,152.74 266.75,157.79 266.87,162.79 266.98,167.63 267.09,172.19 267.21,176.33 267.32,179.91 267.44,182.83 267.55,184.96 267.67,186.24 267.78,186.61 267.90,186.06 268.01,184.61 268.13,182.31 268.24,179.26 268.36,175.55 268.47,171.32 268.59,166.70 268.70,161.81 268.82,156.80 268.93,151.75 269.05,146.76 269.16,141.89 269.28,137.16 269.39,132.58 269.50,128.13 269.62,123.76 269.73,119.43 269.85,115.07 269.96,110.63 270.08,106.07 270.19,101.36 270.31,96.51 270.42,91.54 270.54,86.49 270.65,81.47 270.77,76.56 270.88,71.89 271.00,67.60 271.11,63.81 271.23,60.66 271.34,58.26 271.46,56.69 271.57,56.01 271.69,56.25 271.80,57.41 271.92,59.43 272.03,62.24 272.14,65.75 272.26,69.82 272.37,74.33 272.49,79.14 272.60,84.12 272.72,89.17 272.83,94.18 272.95,99.10 273.06,103.88 273.18,108.50 273.29,113.00 273.41,117.39 273.52,121.73 273.64,126.07 273.75,130.48 273.87,134.99 273.98,139.65 274.10,144.46 274.21,149.40 274.33,154.42 274.44,159.47 274.56,164.43 274.67,169.19 274.78,173.62 274.90,177.59 275.01,180.97 275.13,183.63 275.24,185.49 275.36,186.47 275.47,186.53 275.59,185.67 275.70,183.93 275.82,181.38 275.93,178.09 276.05,174.19 276.16,169.82 276.28,165.09 276.39,160.15 276.51,155.11 276.62,150.08 276.74,145.12 276.85,140.30 276.97,135.62 277.08,131.09 277.20,126.67 277.31,122.32 277.42,117.98 277.54,113.60 277.65,109.13 277.77,104.52 277.88,99.76 278.00,94.86 278.11,89.86 278.23,84.81 278.34,79.81 278.46,74.97 278.57,70.41 278.69,66.27 278.80,62.69 278.92,59.77 279.03,57.64 279.15,56.36 279.26,55.99 279.38,56.54 279.49,57.99 279.61,60.29 279.72,63.34 279.84,67.05 279.95,71.28 280.06,75.90 280.18,80.79 280.29,85.80 280.41,90.85 280.52,95.84 280.64,100.71 280.75,105.44 280.87,110.02 280.98,114.47 281.10,118.84 281.21,123.17 281.33,127.53 281.44,131.97 281.56,136.53 281.67,141.24 281.79,146.09 281.90,151.06 282.02,156.11 282.13,161.13 282.25,166.04 282.36,170.71 282.48,175.00 282.59,178.79 282.70,181.94 282.82,184.34 282.93,185.91 283.05,186.59 283.16,186.35 283.28,185.19 283.39,183.17 283.51,180.36 283.62,176.85 283.74,172.78 283.85,168.27 283.97,163.46 284.08,158.48 284.20,153.43 284.31,148.42 284.43,143.50 284.54,138.72 284.66,134.10 284.77,129.60 284.89,125.21 285.00,120.87 285.12,116.53 285.23,112.12 285.34,107.61 285.46,102.95 285.57,98.14 285.69,93.20 285.80,88.18 285.92,83.13 286.03,78.17 286.15,73.41 286.26,68.98 286.38,65.01 286.49,61.63 286.61,58.97 286.72,57.11 286.84,56.13 286.95,56.07 287.07,56.93 287.18,58.67 287.30,61.22 287.41,64.51 287.53,68.41 287.64,72.78 287.75,77.51 287.87,82.45 287.98,87.49 288.10,92.52 288.21,97.48 288.33,102.30 288.44,106.98 288.56,111.51 288.67,115.93 288.79,120.28 288.90,124.62 289.02,129.00 289.13,133.47 289.25,138.08 289.36,142.84 289.48,147.74 289.59,152.74 289.71,157.79 289.82,162.79 289.94,167.63 290.05,172.19 290.17,176.33 290.28,179.91 290.39,182.83 290.51,184.96 290.62,186.24 290.74,186.61 290.85,186.06 290.97,184.61 291.08,182.31 291.20,179.26 291.31,175.55 291.43,171.32 291.54,166.70 291.66,161.81 291.77,156.80 291.89,151.75 292.00,146.76 292.12,141.89 292.23,137.16 292.35,132.58 292.46,128.13 292.58,123.76 292.69,119.43 292.81,115.07 292.92,110.63 293.03,106.07 293.15,101.36 293.26,96.51 293.38,91.54 293.49,86.49 293.61,81.47 293.72,76.56 293.84,71.89 293.95,67.60 294.07,63.81 294.18,60.66 294.30,58.26 294.41,56.69 294.53,56.01 294.64,56.25 294.76,57.41 294.87,59.43 294.99,62.24 295.10,65.75 295.22,69.82 295.33,74.33 295.45,79.14 295.56,84.12 295.67,89.17 295.79,94.18 295.90,99.10 296.02,103.88 296.13,108.50 296.25,113.00 296.36,117.39 296.48,121.73 296.59,126.07 296.71,130.48 296.82,134.99 296.94,139.65 297.05,144.46 297.17,149.40 297.28,154.42 297.40,159.47 297.51,164.43 297.63,169.19 297.74,173.62 297.86,177.59 297.97,180.97 298.09,183.63 298.20,185.49 298.31,186.47 298.43,186.53 298.54,185.67 298.66,183.93 298.77,181.38 298.89,178.09 299.00,174.19 299.12,169.82 299.23,165.09 299.35,160.15 299.46,155.11 299.58,150.08 299.69,145.12 299.81,140.30 299.92,135.62 300.04,131.09 300.15,126.67 300.27,122.32 300.38,117.98 300.50,113.60 300.61,109.13 300.73,104.52 300.84,99.76 300.95,94.86 301.07,89.86 301.18,84.81 301.30,79.81 301.41,74.97 301.53,70.41 301.64,66.27 301.76,62.69 301.87,59.77 301.99,57.64 302.10,56.36 302.22,55.99 302.33,56.54 302.45,57.99 302.56,60.29 302.68,63.34 302.79,67.05 302.91,71.28 303.02,75.90 303.14,80.79 303.25,85.80 303.37,90.85 303.48,95.84 303.59,100.71 303.71,105.44 303.82,110.02 303.94,114.47 304.05,118.84 304.17,123.17 304.28,127.53 304.40,131.97 304.51,136.53 304.63,141.24 304.74,146.09 304.86,151.06 304.97,156.11 305.09,161.13 305.20,166.04 305.32,170.71 305.43,175.00 305.55,178.79 305.66,181.94 305.78,184.34 305.89,185.91 306.01,186.59 306.12,186.35 306.23,185.19 306.35,183.17 306.46,180.36 306.58,176.85 306.69,172.78 306.81,168.27 306.92,163.46 307.04,158.48 307.15,153.43 307.27,148.42 307.38,143.50 307.50,138.72 307.61,134.10 307.73,129.60 307.84,125.21 307.96,120.87 308.07,116.53 308.19,112.12 308.30,107.61 308.42,102.95 308.53,98.14 308.64,93.20 308.76,88.18 308.87,83.13 308.99,78.17 309.10,73.41 309.22,68.98 309.33,65.01 309.45,61.63 309.56,58.97 309.68,57.11 309.79,56.13 309.91,56.07 310.02,56.93 310.14,58.67 310.25,61.22 310.37,64.51 310.48,68.41 310.60,72.78 310.71,77.51 310.83,82.45 310.94,87.49 311.06,92.52 311.17,97.48 311.28,102.30 311.40,106.98 311.51,111.51 311.63,115.93 311.74,120.28 311.86,124.62 311.97,129.00 312.09,133.47 312.20,138.08 312.32,142.84 312.43,147.74 312.55,152.74 312.66,157.79 312.78,162.79 312.89,167.63 313.01,172.19 313.12,176.33 313.24,179.91 313.35,182.83 313.47,184.96 313.58,186.24 313.70,186.61 313.81,186.06 313.92,184.61 314.04,182.31 314.15,179.26 314.27,175.55 314.38,171.32 314.50,166.70 314.61,161.81 314.73,156.80 314.84,151.75 314.96,146.76 315.07,141.89 315.19,137.16 315.30,132.58 315.42,128.13 315.53,123.76 315.65,119.43 315.76,115.07 315.88,110.63 315.99,106.07 316.11,101.36 316.22,96.51 316.34,91.54 316.45,86.49 316.56,81.47 316.68,76.56 316.79,71.89 316.91,67.60 317.02,63.81 317.14,60.66 317.25,58.26 317.37,56.69 317.48,56.01 317.60,56.25 317.71,57.41 317.83,59.43 317.94,62.24 318.06,65.75 318.17,69.82 318.29,74.33 318.40,79.14 318.52,84.12"/>
<polyline fill="none" stroke="#D95319" stroke-width="1.3" stroke-linejoin="round" points="29.50,56.21 29.61,58.37 29.73,61.33 29.84,64.98 29.96,69.20 30.07,73.84 30.19,78.78 30.30,83.89 30.42,89.05 30.53,94.16 30.65,99.17 30.76,104.03 30.88,108.74 30.99,113.32 31.11,117.80 31.22,122.23 31.34,126.67 31.45,131.18 31.57,135.81 31.68,140.59 31.80,145.51 31.91,150.57 32.03,155.71 32.14,160.86 32.25,165.91 32.37,170.75 32.48,175.23 32.60,179.22 32.71,182.60 32.83,185.23 32.94,187.03 33.06,187.93 33.17,187.89 33.29,186.91 33.40,185.04 33.52,182.34 33.63,178.91 33.75,174.86 33.86,170.35 33.98,165.49 34.09,160.42 34.21,155.27 34.32,150.13 34.44,145.09 34.55,140.17 34.67,135.41 34.78,130.79 34.89,126.29 35.01,121.85 35.12,117.42 35.24,112.93 35.35,108.35 35.47,103.62 35.58,98.75 35.70,93.73 35.81,88.61 35.93,83.45 36.04,78.35 36.16,73.43 36.27,68.82 36.39,64.64 36.50,61.05 36.62,58.16 36.73,56.07 36.85,54.87 36.96,54.59 37.08,55.26 37.19,56.84 37.31,59.28 37.42,62.48 37.53,66.33 37.65,70.70 37.76,75.46 37.88,80.47 37.99,85.61 38.11,90.76 38.22,95.84 38.34,100.81 38.45,105.62 38.57,110.28 38.68,114.82 38.80,119.28 38.91,123.70 39.03,128.16 39.14,132.71 39.26,137.39 39.37,142.21 39.49,147.19 39.60,152.28 39.72,157.43 39.83,162.56 39.94,167.55 40.06,172.29 40.17,176.62 40.29,180.42 40.40,183.56 40.52,185.93 40.63,187.44 40.75,188.02 40.86,187.67 40.98,186.39 41.09,184.23 41.21,181.27 41.32,177.62 41.44,173.40 41.55,168.76 41.67,163.82 41.78,158.71 41.90,153.55 42.01,148.44 42.13,143.43 42.24,138.57 42.36,133.86 42.47,129.28 42.58,124.80 42.70,120.37 42.81,115.93 42.93,111.42 43.04,106.79 43.16,102.01 43.27,97.09 43.39,92.03 43.50,86.89 43.62,81.74 43.73,76.69 43.85,71.85 43.96,67.37 44.08,63.38 44.19,60.00 44.31,57.37 44.42,55.57 44.54,54.67 44.65,54.71 44.77,55.69 44.88,57.56 45.00,60.26 45.11,63.69 45.22,67.74 45.34,72.25 45.45,77.11 45.57,82.18 45.68,87.33 45.80,92.47 45.91,97.51 46.03,102.43 46.14,107.19 46.26,111.81 46.37,116.31 46.49,120.75 46.60,125.18 46.72,129.67 46.83,134.25 46.95,138.98 47.06,143.85 47.18,148.87 47.29,153.99 47.41,159.15 47.52,164.25 47.64,169.17 47.75,173.78 47.86,177.96 47.98,181.55 48.09,184.44 48.21,186.53 48.32,187.73 48.44,188.01 48.55,187.34 48.67,185.76 48.78,183.32 48.90,180.12 49.01,176.27 49.13,171.90 49.24,167.14 49.36,162.13 49.47,156.99 49.59,151.84 49.70,146.76 49.82,141.81 49.93,137.01 50.05,132.34 50.16,127.80 50.28,123.33 50.39,118.88 50.50,114.40 50.62,109.82 50.73,105.10 50.85,100.22 50.96,95.19 51.08,90.02 51.19,84.79 51.31,79.58 51.42,74.49 51.54,69.66 51.65,65.23 51.77,61.33 51.88,58.09 52.00,55.68 52.11,54.58 52.23,54.48 52.34,55.35 52.46,57.17 52.57,59.87 52.69,63.38 52.80,67.59 52.92,72.37 53.03,77.58 53.14,83.09 53.26,88.75 53.37,94.46 53.49,100.12 53.60,105.67 53.72,111.06 53.83,116.30 53.95,121.39 54.06,126.38 54.18,131.32 54.29,136.26 54.41,141.27 54.52,146.39 54.64,151.65 54.75,157.06 54.87,162.59 54.98,168.21 55.10,173.82 55.21,179.33 55.33,184.61 55.44,189.55 55.56,194.01 55.67,197.86 55.78,200.97 55.90,203.24 56.01,204.61 56.13,204.84 56.24,203.86 56.36,201.98 56.47,199.28 56.59,195.84 56.70,191.80 56.82,187.28 56.93,182.42 57.05,177.36 57.16,172.21 57.28,167.08 57.39,162.03 57.51,157.12 57.62,152.36 57.74,147.75 57.85,143.25 57.97,138.81 58.08,134.39 58.19,129.91 58.31,125.33 58.42,120.61 58.54,115.74 58.65,110.73 58.77,105.62 58.88,100.47 59.00,95.38 59.11,90.47 59.23,85.87 59.34,81.70 59.46,78.12 59.57,75.23 59.69,73.15 59.80,71.95 59.92,71.68 60.03,72.28 60.15,73.79 60.26,76.16 60.38,79.29 60.49,83.07 60.61,87.37 60.72,92.05 60.83,96.98 60.95,102.04 61.06,107.11 61.18,112.12 61.29,117.00 61.41,121.74 61.52,126.32 61.64,130.78 61.75,135.15 61.87,139.50 61.98,143.88 62.10,148.35 62.21,152.94 62.33,157.68 62.44,162.57 62.56,167.58 62.67,172.65 62.79,177.70 62.90,182.60 63.02,187.25 63.13,191.50 63.25,195.22 63.36,198.28 63.47,200.57 63.59,202.00 63.70,202.51 63.82,202.09 63.93,200.74 64.05,198.51 64.16,195.50 64.28,191.79 64.39,187.52 64.51,182.82 64.62,177.83 64.74,172.67 64.85,167.47 64.97,162.30 65.08,157.25 65.20,152.33 65.31,147.57 65.43,142.95 65.54,138.42 65.66,133.94 65.77,129.45 65.89,124.89 66.00,120.22 66.11,115.40 66.23,110.42 66.34,105.32 66.46,100.14 66.57,94.95 66.69,89.85 66.80,84.98 66.92,80.45 67.03,76.41 67.15,72.99 67.26,70.30 67.38,68.44 67.49,67.49 67.61,67.48 67.72,68.42 67.84,70.25 67.95,72.91 68.07,76.29 68.18,80.28 68.30,84.74 68.41,89.54 68.53,94.55 68.64,99.64 68.75,104.71 68.87,109.70 68.98,114.56 69.10,119.26 69.21,123.81 69.33,128.26 69.44,132.64 69.56,137.01 69.67,141.43 69.79,145.96 69.90,150.62 70.02,155.43 70.13,160.38 70.25,165.44 70.36,170.53 70.48,175.55 70.59,180.41 70.71,184.96 70.82,189.07 70.94,192.60 71.05,195.44 71.17,197.48 71.28,198.63 71.39,198.87 71.51,198.17 71.62,196.57 71.74,194.12 71.85,190.91 71.97,187.05 72.08,182.67 72.20,177.91 72.31,172.91 72.43,167.78 72.54,162.63 72.66,157.55 72.77,152.59 72.89,147.79 73.00,143.13 73.12,138.59 73.23,134.14 73.35,129.72 73.46,125.26 73.58,120.72 73.69,116.05 73.81,111.23 73.92,106.27 74.03,101.19 74.15,96.05 74.26,90.93 74.38,85.95 74.49,81.23 74.61,76.90 74.72,73.10 74.84,69.96 74.95,67.59 75.07,66.07 75.18,65.46 75.30,65.78 75.41,67.03 75.53,69.14 75.64,72.05 75.76,75.64 75.87,79.79 75.99,84.37 76.10,89.24 76.22,94.28 76.33,99.36 76.45,104.40 76.56,109.34 76.67,114.13 76.79,118.77 76.90,123.27 77.02,127.68 77.13,132.04 77.25,136.41 77.36,140.85 77.48,145.41 77.59,150.11 77.71,154.96 77.82,159.94 77.94,165.00 78.05,170.07 78.17,175.04 78.28,179.80 78.40,184.21 78.51,188.13 78.63,191.44 78.74,194.02 78.86,195.77 78.97,196.62 79.08,196.55 79.20,195.55 79.31,193.67 79.43,190.97 79.54,187.54 79.66,183.51 79.77,179.01 79.89,174.18 80.00,169.14 80.12,164.01 80.23,158.90 80.35,153.88 80.46,148.99 80.58,144.25 80.69,139.66 80.81,135.17 80.92,130.76 81.04,126.35 81.15,121.88 81.27,117.32 81.38,112.63 81.50,107.78 81.61,102.79 81.72,97.70 81.84,92.58 81.95,87.51 82.07,82.63 82.18,78.04 82.30,73.89 82.41,70.31 82.53,67.43 82.64,65.34 82.76,64.13 82.87,63.84 82.99,64.48 83.10,66.02 83.22,68.40 83.33,71.54 83.45,75.33 83.56,79.63 83.68,84.31 83.79,89.24 83.91,94.28 84.02,99.35 84.14,104.35 84.25,109.23 84.36,113.96 84.48,118.54 84.59,123.00 84.71,127.37 84.82,131.72 84.94,136.10 85.05,140.56 85.17,145.16 85.28,149.89 85.40,154.78 85.51,159.78 85.63,164.84 85.74,169.88 85.86,174.78 85.97,179.43 86.09,183.68 86.20,187.40 86.32,190.47 86.43,192.78 86.55,194.24 86.66,194.79 86.78,194.41 86.89,193.11 87.00,190.95 87.12,188.00 87.23,184.36 87.35,180.17 87.46,175.55 87.58,170.65 87.69,165.58 87.81,160.46 87.92,155.38 88.04,150.41 88.15,145.59 88.27,140.91 88.38,136.37 88.50,131.92 88.61,127.52 88.73,123.11 88.84,118.63 88.96,114.04 89.07,109.30 89.19,104.42 89.30,99.40 89.42,94.31 89.53,89.20 89.64,84.20 89.76,79.40 89.87,74.96 89.99,70.99 90.10,67.64 90.22,65.02 90.33,63.22 90.45,62.31 90.56,62.32 90.68,63.26 90.79,65.08 90.91,67.71 91.02,71.07 91.14,75.02 91.25,79.44 91.37,84.20 91.48,89.16 91.60,94.21 91.71,99.24 91.83,104.18 91.94,108.99 92.06,113.65 92.17,118.17 92.28,122.58 92.40,126.92 92.51,131.25 92.63,135.63 92.74,140.12 92.86,144.74 92.97,149.51 93.09,154.42 93.20,159.43 93.32,164.47 93.43,169.45 93.55,174.26 93.66,178.77 93.78,182.85 93.89,186.35 94.01,189.16 94.12,191.18 94.24,192.34 94.35,192.57 94.47,191.90 94.58,190.33 94.70,187.92 94.81,184.76 94.92,180.95 95.04,176.63 95.15,171.94 95.27,167.00 95.38,161.93 95.50,156.85 95.61,151.84 95.73,146.95 95.84,142.20 95.96,137.61 96.07,133.13 96.19,128.74 96.30,124.38 96.42,119.98 96.53,115.50 96.65,110.89 96.76,106.14 96.88,101.24 96.99,96.22 97.11,91.15 97.22,86.10 97.33,81.18 97.45,76.52 97.56,72.25 97.68,68.51 97.79,65.41 97.91,63.08 98.02,61.59 98.14,61.01 98.25,61.34 98.37,62.59 98.48,64.70 98.60,67.60 98.71,71.17 98.83,75.30 98.94,79.85 99.06,84.69 99.17,89.69 99.29,94.75 99.40,99.76 99.52,104.66 99.63,109.42 99.75,114.03 99.86,118.51 99.97,122.89 100.09,127.23 100.20,131.57 100.32,135.99 100.43,140.52 100.55,145.19 100.66,150.01 100.78,154.96 100.89,159.99 101.01,165.02 101.12,169.96 101.24,174.69 101.35,179.07 101.47,182.97 101.58,186.27 101.70,188.83 101.81,190.58 101.93,191.45 102.04,191.39 102.16,190.41 102.27,188.54 102.39,185.87 102.50,182.48 102.61,178.50 102.73,174.04 102.84,169.26 102.96,164.27 103.07,159.20 103.19,154.14 103.30,149.17 103.42,144.33 103.53,139.65 103.65,135.10 103.76,130.67 103.88,126.30 103.99,121.93 104.11,117.52 104.22,113.01 104.34,108.36 104.45,103.56 104.57,98.63 104.68,93.59 104.80,88.52 104.91,83.51 105.03,78.67 105.14,74.14 105.25,70.03 105.37,66.49 105.48,63.64 105.60,61.58 105.71,60.38 105.83,60.10 105.94,60.73 106.06,62.26 106.17,64.63 106.29,67.74 106.40,71.50 106.52,75.76 106.63,80.40 106.75,85.28 106.86,90.28 106.98,95.31 107.09,100.26 107.21,105.10 107.32,109.78 107.44,114.32 107.55,118.74 107.67,123.08 107.78,127.39 107.89,131.73 108.01,136.15 108.12,140.70 108.24,145.40 108.35,150.24 108.47,155.20 108.58,160.22 108.70,165.21 108.81,170.07 108.93,174.67 109.04,178.88 109.16,182.58 109.27,185.62 109.39,187.91 109.50,189.36 109.62,189.90 109.73,189.54 109.85,188.27 109.96,186.15 110.08,183.24 110.19,179.66 110.31,175.53 110.42,170.97 110.53,166.13 110.65,161.13 110.76,156.07 110.88,151.06 110.99,146.16 111.11,141.39 111.22,136.78 111.34,132.30 111.45,127.91 111.57,123.57 111.68,119.22 111.80,114.81 111.91,110.27 112.03,105.60 112.14,100.78 112.26,95.83 112.37,90.80 112.49,85.76 112.60,80.82 112.72,76.09 112.83,71.71 112.95,67.80 113.06,64.50 113.17,61.92 113.29,60.15 113.40,59.26 113.52,59.29 113.63,60.24 113.75,62.06 113.86,64.68 113.98,68.02 114.09,71.95 114.21,76.35 114.32,81.08 114.44,86.01 114.55,91.02 114.67,96.02 114.78,100.93 114.90,105.71 115.01,110.34 115.13,114.83 115.24,119.21 115.36,123.53 115.47,127.83 115.58,132.19 115.70,136.65 115.81,141.24 115.93,145.98 116.04,150.86 116.16,155.83 116.27,160.84 116.39,165.79 116.50,170.57 116.62,175.06 116.73,179.11 116.85,182.59 116.96,185.40 117.08,187.41 117.19,188.57 117.31,188.82 117.42,188.16 117.54,186.61 117.65,184.23 117.77,181.10 117.88,177.33 118.00,173.06 118.11,168.42 118.22,163.53 118.34,158.52 118.45,153.49 118.57,148.53 118.68,143.69 118.80,139.00 118.91,134.45 119.03,130.02 119.14,125.68 119.26,121.36 119.37,117.01 119.49,112.58 119.60,108.02 119.72,103.32 119.83,98.47 119.95,93.51 120.06,88.49 120.18,83.49 120.29,78.63 120.41,74.02 120.52,69.79 120.64,66.09 120.75,63.03 120.86,60.72 120.98,59.25 121.09,58.68 121.21,59.02 121.32,60.26 121.44,62.35 121.55,65.22 121.67,68.77 121.78,72.86 121.90,77.37 122.01,82.17 122.13,87.12 122.24,92.13 122.36,97.09 122.47,101.95 122.59,106.67 122.70,111.24 122.82,115.68 122.93,120.02 123.05,124.32 123.16,128.63 123.28,133.00 123.39,137.49 123.50,142.12 123.62,146.90 123.73,151.80 123.85,156.79 123.96,161.78 124.08,166.67 124.19,171.36 124.31,175.70 124.42,179.57 124.54,182.83 124.65,185.38 124.77,187.12 124.88,187.98 125.00,187.93 125.11,186.97 125.23,185.15 125.34,182.52 125.46,179.18 125.57,175.25 125.69,170.86 125.80,166.14 125.92,161.22 126.03,156.21 126.14,151.22 126.26,146.32 126.37,141.55 126.49,136.92 126.60,132.44 126.72,128.06 126.83,123.75 126.95,119.45 127.06,115.09 127.18,110.64 127.29,106.05 127.41,101.31 127.52,96.44 127.64,91.46 127.75,86.46 127.87,81.51 127.98,76.73 128.10,72.24 128.21,68.19 128.33,64.69 128.44,61.88 128.56,59.85 128.67,58.68 128.78,58.41 128.90,59.05 129.01,60.58 129.13,62.94 129.24,66.04 129.36,69.78 129.47,74.02 129.59,78.64 129.70,83.50 129.82,88.48 129.93,93.47 130.05,98.41 130.16,103.22 130.28,107.89 130.39,112.41 130.51,116.81 130.62,121.13 130.74,125.43 130.85,129.76 130.97,134.17 131.08,138.70 131.20,143.38 131.31,148.21 131.42,153.15 131.54,158.15 131.65,163.13 131.77,167.97 131.88,172.57 132.00,176.77 132.11,180.46 132.23,183.51 132.34,185.80 132.46,187.26 132.57,187.83 132.69,187.48 132.80,186.23 132.92,184.13 133.03,181.26 133.15,177.71 133.26,173.61 133.38,169.10 133.49,164.30 133.61,159.34 133.72,154.32 133.84,149.35 133.95,144.49 134.06,139.77 134.18,135.19 134.29,130.75 134.41,126.40 134.52,122.10 134.64,117.78 134.75,113.40 134.87,108.90 134.98,104.26 135.10,99.48 135.21,94.56 135.33,89.57 135.44,84.57 135.56,79.66 135.67,74.97 135.79,70.61 135.90,66.73 136.02,63.45 136.13,60.89 136.25,59.14 136.36,58.27 136.47,58.31 136.59,59.25 136.70,61.07 136.82,63.70 136.93,67.03 137.05,70.96 137.16,75.35 137.28,80.07 137.39,84.99 137.51,89.99 137.62,94.98 137.74,99.89 137.85,104.66 137.97,109.29 138.08,113.77 138.20,118.15 138.31,122.46 138.43,126.77 138.54,131.13 138.66,135.58 138.77,140.17 138.89,144.91 139.00,149.79 139.11,154.77 139.23,159.78 139.34,164.73 139.46,169.51 139.57,174.00 139.69,178.06 139.80,181.55 139.92,184.36 140.03,186.39 140.15,187.56 140.26,187.83 140.38,187.18 140.49,185.65 140.61,183.28 140.72,180.17 140.84,176.43 140.95,172.17 141.07,167.55 141.18,162.68 141.30,157.69 141.41,152.68 141.53,147.74 141.64,142.92 141.75,138.24 141.87,133.71 141.98,129.30 142.10,124.96 142.21,120.66 142.33,116.32 142.44,111.90 142.56,107.36 142.67,102.67 142.79,97.83 142.90,92.88 143.02,87.87 143.13,82.88 143.25,78.03 143.36,73.43 143.48,69.21 143.59,65.51 143.71,62.46 143.82,60.16 143.94,58.69 144.05,58.12 144.17,58.47 144.28,59.71 144.39,61.81 144.51,64.68 144.62,68.23 144.74,72.33 144.85,76.85 144.97,81.65 145.08,86.62 145.20,91.63 145.31,96.61 145.43,101.48 145.54,106.20 145.66,110.79 145.77,115.24 145.89,119.59 146.00,123.90 146.12,128.22 146.23,132.61 146.35,137.11 146.46,141.75 146.58,146.54 146.69,151.47 146.81,156.47 146.92,161.47 147.03,166.39 147.15,171.09 147.26,175.45 147.38,179.34 147.49,182.62 147.61,185.19 147.72,186.94 147.84,187.81 147.95,187.77 148.07,186.82 148.18,185.00 148.30,182.37 148.41,179.03 148.53,175.10 148.64,170.71 148.76,165.98 148.87,161.06 148.99,156.05 149.10,151.05 149.22,146.14 149.33,141.36 149.45,136.72 149.56,132.23 149.67,127.85 149.79,123.53 149.90,119.22 150.02,114.86 150.13,110.39 150.25,105.80 150.36,101.05 150.48,96.17 150.59,91.18 150.71,86.17 150.82,81.21 150.94,76.42 151.05,71.93 151.17,67.86 151.28,64.37 151.40,61.55 151.51,59.52 151.63,58.35 151.74,58.08 151.86,58.73 151.97,60.26 152.09,62.63 152.20,65.75 152.31,69.50 152.43,73.75 152.54,78.39 152.66,83.26 152.77,88.26 152.89,93.27 153.00,98.22 153.12,103.05 153.23,107.73 153.35,112.27 153.46,116.69 153.58,121.03 153.69,125.34 153.81,129.68 153.92,134.10 154.04,138.65 154.15,143.35 154.27,148.19 154.38,153.15 154.50,158.17 154.61,163.16 154.72,168.02 154.84,172.63 154.95,176.85 155.07,180.56 155.18,183.61 155.30,185.92 155.41,187.38 155.53,187.96 155.64,187.61 155.76,186.37 155.87,184.26 155.99,181.38 156.10,177.83 156.22,173.73 156.33,169.20 156.45,164.39 156.56,159.42 156.68,154.40 156.79,149.42 156.91,144.55 157.02,139.81 157.14,135.22 157.25,130.77 157.36,126.41 157.48,122.09 157.59,117.77 157.71,113.37 157.82,108.87 157.94,104.22 158.05,99.42 158.17,94.49 158.28,89.48 158.40,84.47 158.51,79.55 158.63,74.84 158.74,70.47 158.86,66.58 158.97,63.29 159.09,60.73 159.20,58.97 159.32,58.10 159.43,58.14 159.55,59.09 159.66,60.91 159.78,63.54 159.89,66.88 160.00,70.82 160.12,75.22 160.23,79.95 160.35,84.89 160.46,89.90 160.58,94.91 160.69,99.83 160.81,104.61 160.92,109.25 161.04,113.75 161.15,118.14 161.27,122.46 161.38,126.78 161.50,131.15 161.61,135.62 161.73,140.22 161.84,144.97 161.96,149.86 162.07,154.85 162.19,159.87 162.30,164.84 162.42,169.64 162.53,174.13 162.64,178.20 162.76,181.70 162.87,184.52 162.99,186.56 163.10,187.73 163.22,188.00 163.33,187.35 163.45,185.81 163.56,183.44 163.68,180.32 163.79,176.57 163.91,172.30 164.02,167.66 164.14,162.78 164.25,157.78 164.37,152.76 164.48,147.80 164.60,142.96 164.71,138.27 164.83,133.72 164.94,129.29 165.06,124.94 165.17,120.62 165.28,116.27 165.40,111.83 165.51,107.27 165.63,102.56 165.74,97.71 165.86,92.74 165.97,87.71 166.09,82.71 166.20,77.83 166.32,73.21 166.43,68.98 166.55,65.27 166.66,62.20 166.78,59.89 166.89,58.42 167.01,57.84 167.12,58.18 167.24,59.42 167.35,61.52 167.47,64.40 167.58,67.95 167.70,72.06 167.81,76.58 167.92,81.39 168.04,86.36 168.15,91.39 168.27,96.37 168.38,101.25 168.50,105.98 168.61,110.57 168.73,115.03 168.84,119.39 168.96,123.70 169.07,128.03 169.19,132.42 169.30,136.93 169.42,141.58 169.53,146.38 169.65,151.31 169.76,156.32 169.88,161.34 169.99,166.26 170.11,170.97 170.22,175.33 170.34,179.23 170.45,182.51 170.56,185.08 170.68,186.83 170.79,187.70 170.91,187.66 171.02,186.70 171.14,184.87 171.25,182.23 171.37,178.88 171.48,174.93 171.60,170.52 171.71,165.77 171.83,160.83 171.94,155.80 172.06,150.79 172.17,145.86 172.29,141.06 172.40,136.41 172.52,131.90 172.63,127.50 172.75,123.16 172.86,118.84 172.97,114.46 173.09,109.98 173.20,105.37 173.32,100.60 173.43,95.70 173.55,90.70 173.66,85.66 173.78,80.69 173.89,75.88 174.01,71.37 174.12,67.29 174.24,63.78 174.35,60.95 174.47,58.91 174.58,57.73 174.70,57.46 174.81,58.10 174.93,59.64 175.04,62.01 175.16,65.13 175.27,68.88 175.39,73.14 175.50,77.78 175.61,82.66 175.73,87.67 175.84,92.69 175.96,97.65 176.07,102.48 176.19,107.18 176.30,111.72 176.42,116.14 176.53,120.49 176.65,124.80 176.76,129.15 176.88,133.58 176.99,138.14 177.11,142.84 177.22,147.69 177.34,152.66 177.45,157.69 177.57,162.69 177.68,167.56 177.80,172.17 177.91,176.40 178.03,180.11 178.14,183.17 178.25,185.47 178.37,186.94 178.48,187.50 178.60,187.15 178.71,185.90 178.83,183.79 178.94,180.90 179.06,177.33 179.17,173.21 179.29,168.67 179.40,163.84 179.52,158.85 179.63,153.81 179.75,148.81 179.86,143.92 179.98,139.17 180.09,134.56 180.21,130.09 180.32,125.71 180.44,121.38 180.55,117.04 180.67,112.63 180.78,108.11 180.89,103.44 181.01,98.62 181.12,93.68 181.24,88.65 181.35,83.62 181.47,78.68 181.58,73.95 181.70,69.57 181.81,65.66 181.93,62.36 182.04,59.78 182.16,58.02 182.27,57.14 182.39,57.17 182.50,58.12 182.62,59.94 182.73,62.58 182.85,65.92 182.96,69.87 183.08,74.27 183.19,79.01 183.31,83.95 183.42,88.98 183.53,93.99 183.65,98.91 183.76,103.71 183.88,108.35 183.99,112.86 184.11,117.25 184.22,121.58 184.34,125.91 184.45,130.28 184.57,134.76 184.68,139.37 184.80,144.13 184.91,149.02 185.03,154.02 185.14,159.05 185.26,164.03 185.37,168.83 185.49,173.34 185.60,177.41 185.72,180.91 185.83,183.74 185.95,185.77 186.06,186.94 186.17,187.21 186.29,186.55 186.40,185.00 186.52,182.62 186.63,179.49 186.75,175.72 186.86,171.44 186.98,166.78 187.09,161.88 187.21,156.86 187.32,151.82 187.44,146.85 187.55,142.00 187.67,137.29 187.78,132.73 187.90,128.29 188.01,123.93 188.13,119.60 188.24,115.24 188.36,110.79 188.47,106.21 188.59,101.49 188.70,96.63 188.81,91.64 188.93,86.60 189.04,81.58 189.16,76.70 189.27,72.07 189.39,67.82 189.50,64.10 189.62,61.03 189.73,58.71 189.85,57.23 189.96,56.65 190.08,56.99 190.19,58.24 190.31,60.34 190.42,63.23 190.54,66.79 190.65,70.91 190.77,75.44 190.88,80.27 191.00,85.25 191.11,90.29 191.23,95.28 191.34,100.17 191.45,104.92 191.57,109.52 191.68,113.99 191.80,118.36 191.91,122.69 192.03,127.02 192.14,131.43 192.26,135.95 192.37,140.61 192.49,145.43 192.60,150.37 192.72,155.39 192.83,160.42 192.95,165.35 193.06,170.07 193.18,174.45 193.29,178.36 193.41,181.65 193.52,184.22 193.64,185.98 193.75,186.85 193.86,186.81 193.98,185.85 194.09,184.01 194.21,181.36 194.32,178.00 194.44,174.05 194.55,169.62 194.67,164.87 194.78,159.91 194.90,154.87 195.01,149.84 195.13,144.90 195.24,140.09 195.36,135.43 195.47,130.91 195.59,126.50 195.70,122.15 195.82,117.81 195.93,113.42 196.05,108.93 196.16,104.30 196.28,99.53 196.39,94.61 196.50,89.60 196.62,84.55 196.73,79.56 196.85,74.74 196.96,70.22 197.08,66.13 197.19,62.61 197.31,59.77 197.42,57.72 197.54,56.54 197.65,56.27 197.77,56.91 197.88,58.45 198.00,60.83 198.11,63.96 198.23,67.72 198.34,72.00 198.46,76.65 198.57,81.54 198.69,86.56 198.80,91.59 198.92,96.56 199.03,101.41 199.14,106.12 199.26,110.67 199.37,115.11 199.49,119.46 199.60,123.79 199.72,128.15 199.83,132.59 199.95,137.16 200.06,141.88 200.18,146.74 200.29,151.72 200.41,156.76 200.52,161.77 200.64,166.66 200.75,171.28 200.87,175.52 200.98,179.24 201.10,182.31 201.21,184.62 201.33,186.09 201.44,186.66 201.56,186.31 201.67,185.05 201.78,182.93 201.90,180.03 202.01,176.45 202.13,172.32 202.24,167.77 202.36,162.93 202.47,157.93 202.59,152.88 202.70,147.86 202.82,142.96 202.93,138.20 203.05,133.59 203.16,129.11 203.28,124.73 203.39,120.39 203.51,116.04 203.62,111.63 203.74,107.10 203.85,102.42 203.97,97.60 204.08,92.65 204.20,87.62 204.31,82.58 204.42,77.63 204.54,72.90 204.65,68.51 204.77,64.60 204.88,61.30 205.00,58.72 205.11,56.96 205.23,56.08 205.34,56.12 205.46,57.08 205.57,58.91 205.69,61.56 205.80,64.91 205.92,68.87 206.03,73.29 206.15,78.05 206.26,83.01 206.38,88.05 206.49,93.08 206.61,98.02 206.72,102.83 206.84,107.49 206.95,112.01 207.06,116.42 207.18,120.76 207.29,125.10 207.41,129.49 207.52,133.98 207.64,138.60 207.75,143.38 207.87,148.29 207.98,153.30 208.10,158.35 208.21,163.34 208.33,168.15 208.44,172.67 208.56,176.76 208.67,180.27 208.79,183.11 208.90,185.15 209.02,186.33 209.13,186.59 209.25,185.94 209.36,184.40 209.48,182.01 209.59,178.88 209.70,175.11 209.82,170.82 209.93,166.16 210.05,161.26 210.16,156.24 210.28,151.19 210.39,146.22 210.51,141.36 210.62,136.65 210.74,132.08 210.85,127.64 210.97,123.28 211.08,118.95 211.20,114.58 211.31,110.13 211.43,105.56 211.54,100.83 211.66,95.96 211.77,90.98 211.89,85.93 212.00,80.91 212.11,76.03 212.23,71.39 212.34,67.15 212.46,63.43 212.57,60.35 212.69,58.04 212.80,56.57 212.92,55.99 213.03,56.34 213.15,57.59 213.26,59.71 213.38,62.60 213.49,66.17 213.61,70.30 213.72,74.85 213.84,79.68 213.95,84.68 214.07,89.73 214.18,94.74 214.30,99.64 214.41,104.40 214.53,109.01 214.64,113.49 214.75,117.87 214.87,122.21 214.98,126.56 215.10,130.97 215.21,135.50 215.33,140.18 215.44,145.00 215.56,149.95 215.67,154.98 215.79,160.02 215.90,164.97 216.02,169.70 216.13,174.09 216.25,178.00 216.36,181.30 216.48,183.88 216.59,185.64 216.71,186.52 216.82,186.48 216.94,185.52 217.05,183.69 217.17,181.04 217.28,177.69 217.39,173.73 217.51,169.31 217.62,164.55 217.74,159.59 217.85,154.55 217.97,149.52 218.08,144.58 218.20,139.77 218.31,135.11 218.43,130.59 218.54,126.18 218.66,121.84 218.77,117.50 218.89,113.11 219.00,108.62 219.12,104.00 219.23,99.22 219.35,94.31 219.46,89.30 219.58,84.25 219.69,79.26 219.81,74.45 219.92,69.93 220.03,65.84 220.15,62.33 220.26,59.49 220.38,57.45 220.49,56.27 220.61,56.01 220.72,56.66 220.84,58.20 220.95,60.59 221.07,63.72 221.18,67.49 221.30,71.78 221.41,76.44 221.53,81.34 221.64,86.36 221.76,91.41 221.87,96.38 221.99,101.24 222.10,105.95 222.22,110.52 222.33,114.96 222.45,119.32 222.56,123.65 222.67,128.02 222.79,132.47 222.90,137.04 223.02,141.77 223.13,146.64 223.25,151.62 223.36,156.67 223.48,161.69 223.59,166.57 223.71,171.21 223.82,175.45 223.94,179.17 224.05,182.25 224.17,184.56 224.28,186.03 224.40,186.61 224.51,186.26 224.63,185.01 224.74,182.89 224.86,180.00 224.97,176.43 225.09,172.30 225.20,167.75 225.31,162.92 225.43,157.92 225.54,152.87 225.66,147.86 225.77,142.96 225.89,138.20 226.00,133.59 226.12,129.11 226.23,124.73 226.35,120.39 226.46,116.04 226.58,111.63 226.69,107.10 226.81,102.42 226.92,97.60 227.04,92.65 227.15,87.62 227.27,82.58 227.38,77.63 227.50,72.90 227.61,68.51 227.73,64.60 227.84,61.30 227.95,58.72 228.07,56.96 228.18,56.08 228.30,56.12 228.41,57.08 228.53,58.91 228.64,61.56 228.76,64.91 228.87,68.87 228.99,73.29 229.10,78.05 229.22,83.01 229.33,88.05 229.45,93.08 229.56,98.02 229.68,102.83 229.79,107.49 229.91,112.01 230.02,116.42 230.14,120.76 230.25,125.10 230.36,129.49 230.48,133.98 230.59,138.60 230.71,143.38 230.82,148.29 230.94,153.30 231.05,158.35 231.17,163.34 231.28,168.15 231.40,172.67 231.51,176.76 231.63,180.27 231.74,183.11 231.86,185.15 231.97,186.33 232.09,186.59 232.20,185.94 232.32,184.40 232.43,182.01 232.55,178.88 232.66,175.11 232.78,170.82 232.89,166.16 233.00,161.26 233.12,156.24 233.23,151.19 233.35,146.22 233.46,141.36 233.58,136.65 233.69,132.08 233.81,127.64 233.92,123.28 234.04,118.95 234.15,114.58 234.27,110.13 234.38,105.56 234.50,100.83 234.61,95.96 234.73,90.98 234.84,85.93 234.96,80.91 235.07,76.03 235.19,71.39 235.30,67.15 235.42,63.43 235.53,60.35 235.64,58.04 235.76,56.57 235.87,55.99 235.99,56.34 236.10,57.59 236.22,59.71 236.33,62.60 236.45,66.17 236.56,70.30 236.68,74.85 236.79,79.68 236.91,84.68 237.02,89.73 237.14,94.74 237.25,99.64 237.37,104.40 237.48,109.01 237.60,113.49 237.71,117.87 237.83,122.21 237.94,126.56 238.06,130.97 238.17,135.50 238.28,140.18 238.40,145.00 238.51,149.95 238.63,154.98 238.74,160.02 238.86,164.97 238.97,169.70 239.09,174.09 239.20,178.00 239.32,181.30 239.43,183.88 239.55,185.64 239.66,186.52 239.78,186.48 239.89,185.52 240.01,183.69 240.12,181.04 240.24,177.69 240.35,173.73 240.47,169.31 240.58,164.55 240.70,159.59 240.81,154.55 240.92,149.52 241.04,144.58 241.15,139.77 241.27,135.11 241.38,130.59 241.50,126.18 241.61,121.84 241.73,117.50 241.84,113.11 241.96,108.62 242.07,104.00 242.19,99.22 242.30,94.31 242.42,89.30 242.53,84.25 242.65,79.26 242.76,74.45 242.88,69.93 242.99,65.84 243.11,62.33 243.22,59.49 243.34,57.45 243.45,56.27 243.56,56.01 243.68,56.66 243.79,58.20 243.91,60.59 244.02,63.72 244.14,67.49 244.25,71.78 244.37,76.44 244.48,81.34 244.60,86.36 244.71,91.41 244.83,96.38 244.94,101.24 245.06,105.95 245.17,110.52 245.29,114.96 245.40,119.32 245.52,123.65 245.63,128.02 245.75,132.47 245.86,137.04 245.98,141.77 246.09,146.64 246.20,151.62 246.32,156.67 246.43,161.69 246.55,166.57 246.66,171.21 246.78,175.45 246.89,179.17 247.01,182.25 247.12,184.56 247.24,186.03 247.35,186.61 247.47,186.26 247.58,185.01 247.70,182.89 247.81,180.00 247.93,176.43 248.04,172.30 248.16,167.75 248.27,162.92 248.39,157.92 248.50,152.87 248.62,147.86 248.73,142.96 248.84,138.20 248.96,133.59 249.07,129.11 249.19,124.73 249.30,120.39 249.42,116.04 249.53,111.63 249.65,107.10 249.76,102.42 249.88,97.60 249.99,92.65 250.11,87.62 250.22,82.58 250.34,77.63 250.45,72.90 250.57,68.51 250.68,64.60 250.80,61.30 250.91,58.72 251.03,56.96 251.14,56.08 251.25,56.12 251.37,57.08 251.48,58.91 251.60,61.56 251.71,64.91 251.83,68.87 251.94,73.29 252.06,78.05 252.17,83.01 252.29,88.05 252.40,93.08 252.52,98.02 252.63,102.83 252.75,107.49 252.86,112.01 252.98,116.42 253.09,120.76 253.21,125.10 253.32,129.49 253.44,133.98 253.55,138.60 253.67,143.38 253.78,148.29 253.89,153.30 254.01,158.35 254.12,163.34 254.24,168.15 254.35,172.67 254.47,176.76 254.58,180.27 254.70,183.11 254.81,185.15 254.93,186.33 255.04,186.59 255.16,185.94 255.27,184.40 255.39,182.01 255.50,178.88 255.62,175.11 255.73,170.82 255.85,166.16 255.96,161.26 256.08,156.24 256.19,151.19 256.31,146.22 256.42,141.36 256.53,136.65 256.65,132.08 256.76,127.64 256.88,123.28 256.99,118.95 257.11,114.58 257.22,110.13 257.34,105.56 257.45,100.83 257.57,95.96 257.68,90.98 257.80,85.93 257.91,80.91 258.03,76.03 258.14,71.39 258.26,67.15 258.37,63.43 258.49,60.35 258.60,58.04 258.72,56.57 258.83,55.99 258.95,56.34 259.06,57.59 259.17,59.71 259.29,62.60 259.40,66.17 259.52,70.30 259.63,74.85 259.75,79.68 259.86,84.68 259.98,89.73 260.09,94.74 260.21,99.64 260.32,104.40 260.44,109.01 260.55,113.49 260.67,117.87 260.78,122.21 260.90,126.56 261.01,130.97 261.13,135.50 261.24,140.18 261.36,145.00 261.47,149.95 261.59,154.98 261.70,160.02 261.81,164.97 261.93,169.70 262.04,174.09 262.16,178.00 262.27,181.30 262.39,183.88 262.50,185.64 262.62,186.52 262.73,186.48 262.85,185.52 262.96,183.69 263.08,181.04 263.19,177.69 263.31,173.73 263.42,169.31 263.54,164.55 263.65,159.59 263.77,154.55 263.88,149.52 264.00,144.58 264.11,139.77 264.23,135.11 264.34,130.59 264.45,126.18 264.57,121.84 264.68,117.50 264.80,113.11 264.91,108.62 265.03,104.00 265.14,99.22 265.26,94.31 265.37,89.30 265.49,84.25 265.60,79.26 265.72,74.45 265.83,69.93 265.95,65.84 266.06,62.33 266.18,59.49 266.29,57.45 266.41,56.27 266.52,56.01 266.64,56.66 266.75,58.20 266.87,60.59 266.98,63.72 267.09,67.49 267.21,71.78 267.32,76.44 267.44,81.34 267.55,86.36 267.67,91.41 267.78,96.38 267.90,101.24 268.01,105.95 268.13,110.52 268.24,114.96 268.36,119.32 268.47,123.65 268.59,128.02 268.70,132.47 268.82,137.04 268.93,141.77 269.05,146.64 269.16,151.62 269.28,156.67 269.39,161.69 269.50,166.57 269.62,171.21 269.73,175.45 269.85,179.17 269.96,182.25 270.08,184.56 270.19,186.03 270.31,186.61 270.42,186.26 270.54,185.01 270.65,182.89 270.77,180.00 270.88,176.43 271.00,172.30 271.11,167.75 271.23,162.92 271.34,157.92 271.46,152.87 271.57,147.86 271.69,142.96 271.80,138.20 271.92,133.59 272.03,129.11 272.14,124.73 272.26,120.39 272.37,116.04 272.49,111.63 272.60,107.10 272.72,102.42 272.83,97.60 272.95,92.65 273.06,87.62 273.18,82.58 273.29,77.63 273.41,72.90 273.52,68.51 273.64,64.60 273.75,61.30 273.87,58.72 273.98,56.96 274.10,56.08 274.21,56.12 274.33,57.08 274.44,58.91 274.56,61.56 274.67,64.91 274.78,68.87 274.90,73.29 275.01,78.05 275.13,83.01 275.24,88.05 275.36,93.08 275.47,98.02 275.59,102.83 275.70,107.49 275.82,112.01 275.93,116.42 276.05,120.76 276.16,125.10 276.28,129.49 276.39,133.98 276.51,138.60 276.62,143.38 276.74,148.29 276.85,153.30 276.97,158.35 277.08,163.34 277.20,168.15 277.31,172.67 277.42,176.76 277.54,180.27 277.65,183.11 277.77,185.15 277.88,186.33 278.00,186.59 278.11,185.94 278.23,184.40 278.34,182.01 278.46,178.88 278.57,175.11 278.69,170.82 278.80,166.16 278.92,161.26 279.03,156.24 279.15,151.19 279.26,146.22 279.38,141.36 279.49,136.65 279.61,132.08 279.72,127.64 279.84,123.28 279.95,118.95 280.06,114.58 280.18,110.13 280.29,105.56 280.41,100.83 280.52,95.96 280.64,90.98 280.75,85.93 280.87,80.91 280.98,76.03 281.10,71.39 281.21,67.15 281.33,63.43 281.44,60.35 281.56,58.04 281.67,56.57 281.79,55.99 281.90,56.34 282.02,57.59 282.13,59.71 282.25,62.60 282.36,66.17 282.48,70.30 282.59,74.85 282.70,79.68 282.82,84.68 282.93,89.73 283.05,94.74 283.16,99.64 283.28,104.40 283.39,109.01 283.51,113.49 283.62,117.87 283.74,122.21 283.85,126.56 283.97,130.97 284.08,135.50 284.20,140.18 284.31,145.00 284.43,149.95 284.54,154.98 284.66,160.02 284.77,164.97 284.89,169.70 285.00,174.09 285.12,178.00 285.23,181.30 285.34,183.88 285.46,185.64 285.57,186.52 285.69,186.48 285.80,185.52 285.92,183.69 286.03,181.04 286.15,177.69 286.26,173.73 286.38,169.31 286.49,164.55 286.61,159.59 286.72,154.55 286.84,149.52 286.95,144.58 287.07,139.77 287.18,135.11 287.30,130.59 287.41,126.18 287.53,121.84 287.64,117.50 287.75,113.11 287.87,108.62 287.98,104.00 288.10,99.22 288.21,94.31 288.33,89.30 288.44,84.25 288.56,79.26 288.67,74.45 288.79,69.93 288.90,65.84 289.02,62.33 289.13,59.49 289.25,57.45 289.36,56.27 289.48,56.01 289.59,56.66 289.71,58.20 289.82,60.59 289.94,63.72 290.05,67.49 290.17,71.78 290.28,76.44 290.39,81.34 290.51,86.36 290.62,91.41 290.74,96.38 290.85,101.24 290.97,105.95 291.08,110.52 291.20,114.96 291.31,119.32 291.43,123.65 291.54,128.02 291.66,132.47 291.77,137.04 291.89,141.77 292.00,146.64 292.12,151.62 292.23,156.67 292.35,161.69 292.46,166.57 292.58,171.21 292.69,175.45 292.81,179.17 292.92,182.25 293.03,184.56 293.15,186.03 293.26,186.61 293.38,186.26 293.49,185.01 293.61,182.89 293.72,180.00 293.84,176.43 293.95,172.30 294.07,167.75 294.18,162.92 294.30,157.92 294.41,152.87 294.53,147.86 294.64,142.96 294.76,138.20 294.87,133.59 294.99,129.11 295.10,124.73 295.22,120.39 295.33,116.04 295.45,111.63 295.56,107.10 295.67,102.42 295.79,97.60 295.90,92.65 296.02,87.62 296.13,82.58 296.25,77.63 296.36,72.90 296.48,68.51 296.59,64.60 296.71,61.30 296.82,58.72 296.94,56.96 297.05,56.08 297.17,56.12 297.28,57.08 297.40,58.91 297.51,61.56 297.63,64.91 297.74,68.87 297.86,73.29 297.97,78.05 298.09,83.01 298.20,88.05 298.31,93.08 298.43,98.02 298.54,102.83 298.66,107.49 298.77,112.01 298.89,116.42 299.00,120.76 299.12,125.10 299.23,129.49 299.35,133.98 299.46,138.60 299.58,143.38 299.69,148.29 299.81,153.30 299.92,158.35 300.04,163.34 300.15,168.15 300.27,172.67 300.38,176.76 300.50,180.27 300.61,183.11 300.73,185.15 300.84,186.33 300.95,186.59 301.07,185.94 301.18,184.40 301.30,182.01 301.41,178.88 301.53,175.11 301.64,170.82 301.76,166.16 301.87,161.26 301.99,156.24 302.10,151.19 302.22,146.22 302.33,141.36 302.45,136.65 302.56,132.08 302.68,127.64 302.79,123.28 302.91,118.95 303.02,114.58 303.14,110.13 303.25,105.56 303.37,100.83 303.48,95.96 303.59,90.98 303.71,85.93 303.82,80.91 303.94,76.03 304.05,71.39 304.17,67.15 304.28,63.43 304.40,60.35 304.51,58.04 304.63,56.57 304.74,55.99 304.86,56.34 304.97,57.59 305.09,59.71 305.20,62.60 305.32,66.17 305.43,70.30 305.55,74.85 305.66,79.68 305.78,84.68 305.89,89.73 306.01,94.74 306.12,99.64 306.23,104.40 306.35,109.01 306.46,113.49 306.58,117.87 306.69,122.21 306.81,126.56 306.92,130.97 307.04,135.50 307.15,140.18 307.27,145.00 307.38,149.95 307.50,154.98 307.61,160.02 307.73,164.97 307.84,169.70 307.96,174.09 308.07,178.00 308.19,181.30 308.30,183.88 308.42,185.64 308.53,186.52 308.64,186.48 308.76,185.52 308.87,183.69 308.99,181.04 309.10,177.69 309.22,173.73 309.33,169.31 309.45,164.55 309.56,159.59 309.68,154.55 309.79,149.52 309.91,144.58 310.02,139.77 310.14,135.11 310.25,130.59 310.37,126.18 310.48,121.84 310.60,117.50 310.71,113.11 310.83,108.62 310.94,104.00 311.06,99.22 311.17,94.31 311.28,89.30 311.40,84.25 311.51,79.26 311.63,74.45 311.74,69.93 311.86,65.84 311.97,62.33 312.09,59.49 312.20,57.45 312.32,56.27 312.43,56.01 312.55,56.66 312.66,58.20 312.78,60.59 312.89,63.72 313.01,67.49 313.12,71.78 313.24,76.44 313.35,81.34 313.47,86.36 313.58,91.41 313.70,96.38 313.81,101.24 313.92,105.95 314.04,110.52 314.15,114.96 314.27,119.32 314.38,123.65 314.50,128.02 314.61,132.47 314.73,137.04 314.84,141.77 314.96,146.64 315.07,151.62 315.19,156.67 315.30,161.69 315.42,166.57 315.53,171.21 315.65,175.45 315.76,179.17 315.88,182.25 315.99,184.56 316.11,186.03 316.22,186.61 316.34,186.26 316.45,185.01 316.56,182.89 316.68,180.00 316.79,176.43 316.91,172.30 317.02,167.75 317.14,162.92 317.25,157.92 317.37,152.87 317.48,147.86 317.60,142.96 317.71,138.20 317.83,133.59 317.94,129.11 318.06,124.73 318.17,120.39 318.29,116.04 318.40,111.63 318.52,107.10"/>
<polyline fill="none" stroke="#EDB120" stroke-width="1.3" stroke-linejoin="round" points="29.50,137.97 29.61,133.29 29.73,128.75 29.84,124.30 29.96,119.89 30.07,115.46 30.19,110.95 30.30,106.33 30.42,101.56 30.53,96.64 30.65,91.59 30.76,86.46 30.88,81.34 30.99,76.33 31.11,71.55 31.22,67.14 31.34,63.22 31.45,59.94 31.57,57.41 31.68,55.72 31.80,54.93 31.91,55.07 32.03,56.15 32.14,58.11 32.25,60.89 32.37,64.38 32.48,68.46 32.60,73.01 32.71,77.87 32.83,82.93 32.94,88.06 33.06,93.17 33.17,98.18 33.29,103.05 33.40,107.78 33.52,112.36 33.63,116.83 33.75,121.24 33.86,125.66 33.98,130.13 34.09,134.70 34.21,139.42 34.32,144.29 34.44,149.29 34.55,154.40 34.67,159.52 34.78,164.58 34.89,169.45 35.01,173.99 35.12,178.09 35.24,181.59 35.35,184.38 35.47,186.36 35.58,187.46 35.70,187.62 35.81,186.85 35.93,185.18 36.04,182.67 36.16,179.41 36.27,175.51 36.39,171.11 36.50,166.34 36.62,161.34 36.73,156.22 36.85,151.10 36.96,146.06 37.08,141.14 37.19,136.37 37.31,131.75 37.42,127.25 37.53,122.82 37.65,118.42 37.76,113.98 37.88,109.45 37.99,104.78 38.11,99.97 38.22,95.01 38.34,89.94 38.45,84.81 38.57,79.73 38.68,74.79 38.80,70.12 38.91,65.87 39.03,62.16 39.14,59.12 39.26,56.86 39.37,55.46 39.49,54.99 39.60,55.44 39.72,56.82 39.83,59.06 39.94,62.08 40.06,65.78 40.17,70.02 40.29,74.68 40.40,79.61 40.52,84.70 40.63,89.82 40.75,94.90 40.86,99.86 40.98,104.67 41.09,109.34 41.21,113.87 41.32,118.31 41.44,122.71 41.55,127.13 41.67,131.62 41.78,136.23 41.90,140.99 42.01,145.90 42.13,150.94 42.24,156.05 42.36,161.15 42.47,166.15 42.58,170.92 42.70,175.32 42.81,179.23 42.93,182.50 43.04,185.03 43.16,186.72 43.27,187.50 43.39,187.36 43.50,186.28 43.62,184.33 43.73,181.56 43.85,178.07 43.96,174.00 44.08,169.47 44.19,164.62 44.31,159.57 44.42,154.45 44.54,149.36 44.65,144.36 44.77,139.50 44.88,134.79 45.00,130.22 45.11,125.76 45.22,121.36 45.34,116.95 45.45,112.50 45.57,107.93 45.68,103.23 45.80,98.37 45.91,93.38 46.03,88.29 46.14,83.17 46.26,78.13 46.37,73.28 46.49,68.74 46.60,64.66 46.72,61.17 46.83,58.38 46.95,56.40 47.06,55.31 47.18,55.15 47.29,55.91 47.41,57.58 47.52,60.09 47.64,63.34 47.75,67.23 47.86,71.62 47.98,76.38 48.09,81.37 48.21,86.47 48.32,91.57 48.44,96.61 48.55,101.51 48.67,106.27 48.78,110.88 48.90,115.37 49.01,119.78 49.13,124.17 49.24,128.60 49.36,133.12 49.47,137.77 49.59,142.58 49.70,147.52 49.82,152.58 49.93,157.69 50.05,162.76 50.16,167.69 50.28,172.34 50.39,176.59 50.50,180.28 50.62,183.31 50.73,185.57 50.85,186.96 50.96,187.43 51.08,186.97 51.19,185.60 51.31,183.37 51.42,180.35 51.54,176.66 51.65,172.43 51.77,167.78 51.88,162.86 52.00,157.79 52.11,152.70 52.23,147.66 52.34,142.73 52.46,137.95 52.57,133.32 52.69,128.82 52.80,124.41 52.92,120.04 53.03,115.66 53.14,111.20 53.26,106.62 53.37,101.89 53.49,97.02 53.60,92.02 53.72,86.94 53.83,81.87 53.95,76.91 54.06,72.17 54.18,67.80 54.29,63.93 54.41,60.69 54.52,58.19 54.64,56.53 54.75,55.76 54.87,55.93 54.98,57.01 55.10,58.98 55.21,61.76 55.33,65.25 55.44,69.33 55.56,73.87 55.67,78.72 55.78,83.77 55.90,88.88 56.01,93.98 56.13,98.98 56.24,103.84 56.36,108.55 56.47,113.12 56.59,117.59 56.70,121.99 56.82,126.39 56.93,130.85 57.05,135.42 57.16,140.12 57.28,144.98 57.39,149.96 57.51,155.03 57.62,160.12 57.74,165.14 57.85,169.98 57.97,174.49 58.08,178.56 58.19,182.04 58.31,184.81 58.42,186.77 58.54,187.86 58.65,188.02 58.77,187.26 58.88,185.59 59.00,183.09 59.11,179.85 59.23,175.98 59.34,171.60 59.46,166.86 59.57,161.89 59.69,156.81 59.80,151.72 59.92,146.71 60.03,141.82 60.15,137.09 60.26,132.50 60.38,128.03 60.49,123.63 60.61,119.26 60.72,114.85 60.83,110.35 60.95,105.71 61.06,100.93 61.18,96.01 61.29,90.97 61.41,85.88 61.52,80.83 61.64,75.93 61.75,71.29 61.87,67.07 61.98,63.39 62.10,60.37 62.21,58.13 62.33,56.74 62.44,56.27 62.56,56.72 62.67,58.09 62.79,60.31 62.90,63.31 63.02,66.98 63.13,71.19 63.25,75.82 63.36,80.72 63.47,85.76 63.59,90.85 63.70,95.88 63.82,100.81 63.93,105.59 64.05,110.21 64.16,114.71 64.28,119.12 64.39,123.48 64.51,127.87 64.62,132.32 64.74,136.90 64.85,141.62 64.97,146.49 65.08,151.49 65.20,156.56 65.31,161.62 65.43,166.58 65.54,171.31 65.66,175.67 65.77,179.54 65.89,182.79 66.00,185.30 66.11,186.97 66.23,187.75 66.34,187.60 66.46,186.53 66.57,184.59 66.69,181.84 66.80,178.38 66.92,174.34 67.03,169.84 67.15,165.03 67.26,160.02 67.38,154.94 67.49,149.89 67.61,144.93 67.72,140.10 67.84,135.43 67.95,130.90 68.07,126.47 68.18,122.10 68.30,117.74 68.41,113.31 68.53,108.79 68.64,104.12 68.75,99.30 68.87,94.35 68.98,89.30 69.10,84.23 69.21,79.23 69.33,74.42 69.44,69.92 69.56,65.87 69.67,62.41 69.79,59.65 69.90,57.69 70.02,56.61 70.13,56.44 70.25,57.20 70.36,58.86 70.48,61.34 70.59,64.57 70.71,68.42 70.82,72.78 70.94,77.49 71.05,82.44 71.17,87.49 71.28,92.55 71.39,97.54 71.51,102.41 71.62,107.12 71.74,111.69 71.85,116.13 71.97,120.51 72.08,124.86 72.20,129.25 72.31,133.73 72.43,138.34 72.54,143.09 72.66,147.99 72.77,153.01 72.89,158.07 73.00,163.10 73.12,167.98 73.23,172.59 73.35,176.79 73.46,180.45 73.58,183.46 73.69,185.69 73.81,187.06 73.92,187.53 74.03,187.08 74.15,185.72 74.26,183.50 74.38,180.51 74.49,176.86 74.61,172.66 74.72,168.05 74.84,163.18 74.95,158.15 75.07,153.09 75.18,148.07 75.30,143.17 75.41,138.41 75.53,133.80 75.64,129.32 75.76,124.93 75.87,120.58 75.99,116.22 76.10,111.78 76.22,107.22 76.33,102.52 76.45,97.67 76.56,92.70 76.67,87.65 76.79,82.60 76.90,77.66 77.02,72.95 77.13,68.61 77.25,64.75 77.36,61.52 77.48,59.02 77.59,57.35 77.71,56.58 77.82,56.72 77.94,57.78 78.05,59.71 78.17,62.45 78.28,65.89 78.40,69.91 78.51,74.39 78.63,79.18 78.74,84.16 78.86,89.21 78.97,94.24 79.08,99.18 79.20,103.98 79.31,108.63 79.43,113.14 79.54,117.54 79.66,121.89 79.77,126.23 79.89,130.63 80.00,135.14 80.12,139.78 80.23,144.57 80.35,149.50 80.46,154.52 80.58,159.57 80.69,164.54 80.81,169.34 80.92,173.81 81.04,177.84 81.15,181.28 81.27,184.03 81.38,185.98 81.50,187.05 81.61,187.21 81.72,186.46 81.84,184.81 81.95,182.33 82.07,179.12 82.18,175.28 82.30,170.94 82.41,166.25 82.53,161.32 82.64,156.29 82.76,151.25 82.87,146.28 82.99,141.43 83.10,136.74 83.22,132.19 83.33,127.76 83.45,123.41 83.56,119.07 83.68,114.70 83.79,110.24 83.91,105.65 84.02,100.91 84.14,96.03 84.25,91.04 84.36,86.00 84.48,80.99 84.59,76.13 84.71,71.54 84.82,67.35 84.94,63.70 85.05,60.71 85.17,58.49 85.28,57.12 85.40,56.65 85.51,57.10 85.63,58.45 85.74,60.66 85.86,63.63 85.97,67.27 86.09,71.44 86.20,76.02 86.32,80.88 86.43,85.88 86.55,90.92 86.66,95.91 86.78,100.79 86.89,105.52 87.00,110.11 87.12,114.57 87.23,118.93 87.35,123.26 87.46,127.60 87.58,132.02 87.69,136.55 87.81,141.23 87.92,146.06 88.04,151.01 88.15,156.03 88.27,161.05 88.38,165.96 88.50,170.65 88.61,174.97 88.73,178.81 88.84,182.02 88.96,184.51 89.07,186.16 89.19,186.93 89.30,186.79 89.42,185.73 89.53,183.80 89.64,181.08 89.76,177.65 89.87,173.64 89.99,169.19 90.10,164.41 90.22,159.45 90.33,154.42 90.45,149.41 90.56,144.49 90.68,139.71 90.79,135.08 90.91,130.59 91.02,126.20 91.14,121.87 91.25,117.55 91.37,113.16 91.48,108.68 91.60,104.05 91.71,99.28 91.83,94.37 91.94,89.37 92.06,84.34 92.17,79.38 92.28,74.61 92.40,70.15 92.51,66.14 92.63,62.71 92.74,59.97 92.86,58.03 92.97,56.96 93.09,56.80 93.20,57.55 93.32,59.19 93.43,61.65 93.55,64.85 93.66,68.66 93.78,72.98 93.89,77.65 94.01,82.55 94.12,87.56 94.24,92.57 94.35,97.52 94.47,102.33 94.58,107.00 94.70,111.53 94.81,115.94 94.92,120.27 95.04,124.58 95.15,128.93 95.27,133.37 95.38,137.93 95.50,142.65 95.61,147.50 95.73,152.47 95.84,157.49 95.96,162.47 96.07,167.30 96.19,171.87 96.30,176.04 96.42,179.67 96.53,182.64 96.65,184.85 96.76,186.21 96.88,186.68 96.99,186.23 97.11,184.88 97.22,182.68 97.33,179.72 97.45,176.09 97.56,171.93 97.68,167.37 97.79,162.54 97.91,157.56 98.02,152.54 98.14,147.57 98.25,142.71 98.37,137.99 98.48,133.42 98.60,128.98 98.71,124.63 98.83,120.33 98.94,116.00 99.06,111.60 99.17,107.08 99.29,102.42 99.40,97.62 99.52,92.68 99.63,87.68 99.75,82.68 99.86,77.79 99.97,73.12 100.09,68.81 100.20,64.99 100.32,61.78 100.43,59.31 100.55,57.66 100.66,56.89 100.78,57.03 100.89,58.08 101.01,59.99 101.12,62.70 101.24,66.11 101.35,70.10 101.47,74.53 101.58,79.28 101.70,84.21 101.81,89.22 101.93,94.20 102.04,99.09 102.16,103.85 102.27,108.46 102.39,112.92 102.50,117.29 102.61,121.59 102.73,125.90 102.84,130.26 102.96,134.72 103.07,139.32 103.19,144.07 103.30,148.95 103.42,153.93 103.53,158.93 103.65,163.86 103.76,168.60 103.88,173.04 103.99,177.03 104.11,180.44 104.22,183.16 104.34,185.09 104.45,186.16 104.57,186.32 104.68,185.57 104.80,183.93 104.91,181.48 105.03,178.29 105.14,174.49 105.25,170.19 105.37,165.54 105.48,160.65 105.60,155.66 105.71,150.67 105.83,145.75 105.94,140.95 106.06,136.29 106.17,131.78 106.29,127.39 106.40,123.08 106.52,118.78 106.63,114.45 106.75,110.03 106.86,105.48 106.98,100.79 107.09,95.95 107.21,91.00 107.32,86.00 107.44,81.04 107.55,76.23 107.67,71.68 107.78,67.53 107.89,63.91 108.01,60.95 108.12,58.74 108.24,57.38 108.35,56.92 108.47,57.36 108.58,58.70 108.70,60.89 108.81,63.83 108.93,67.44 109.04,71.57 109.16,76.11 109.27,80.92 109.39,85.88 109.50,90.87 109.62,95.81 109.73,100.65 109.85,105.34 109.96,109.88 110.08,114.30 110.19,118.62 110.31,122.91 110.42,127.21 110.53,131.59 110.65,136.08 110.76,140.72 110.88,145.50 110.99,150.40 111.11,155.38 111.22,160.35 111.34,165.22 111.45,169.86 111.57,174.15 111.68,177.95 111.80,181.14 111.91,183.60 112.03,185.24 112.14,186.00 112.26,185.86 112.37,184.81 112.49,182.90 112.60,180.20 112.72,176.80 112.83,172.83 112.95,168.41 113.06,163.69 113.17,158.77 113.29,153.78 113.40,148.82 113.52,143.95 113.63,139.21 113.75,134.62 113.86,130.17 113.98,125.82 114.09,121.53 114.21,117.25 114.32,112.90 114.44,108.46 114.55,103.87 114.67,99.14 114.78,94.28 114.90,89.32 115.01,84.34 115.13,79.43 115.24,74.70 115.36,70.29 115.47,66.31 115.58,62.91 115.70,60.20 115.81,58.27 115.93,57.21 116.04,57.05 116.16,57.79 116.27,59.42 116.39,61.86 116.50,65.03 116.62,68.81 116.73,73.08 116.85,77.71 116.96,82.57 117.08,87.53 117.19,92.50 117.31,97.40 117.42,102.17 117.54,106.80 117.65,111.28 117.77,115.65 117.88,119.94 118.00,124.22 118.11,128.53 118.22,132.92 118.34,137.45 118.45,142.12 118.57,146.93 118.68,151.85 118.80,156.82 118.91,161.76 119.03,166.55 119.14,171.07 119.26,175.20 119.37,178.80 119.49,181.74 119.60,183.93 119.72,185.28 119.83,185.74 119.95,185.30 120.06,183.96 120.18,181.78 120.29,178.85 120.41,175.26 120.52,171.14 120.64,166.61 120.75,161.82 120.86,156.89 120.98,151.92 121.09,146.99 121.21,142.18 121.32,137.50 121.44,132.97 121.55,128.58 121.67,124.27 121.78,120.00 121.90,115.71 122.01,111.35 122.13,106.88 122.24,102.26 122.36,97.50 122.47,92.61 122.59,87.65 122.70,82.70 122.82,77.85 122.93,73.23 123.05,68.95 123.16,65.17 123.28,61.99 123.39,59.54 123.50,57.90 123.62,57.14 123.73,57.28 123.85,58.32 123.96,60.22 124.08,62.91 124.19,66.28 124.31,70.23 124.42,74.62 124.54,79.33 124.65,84.22 124.77,89.18 124.88,94.11 125.00,98.96 125.11,103.67 125.23,108.24 125.34,112.67 125.46,116.99 125.57,121.25 125.69,125.52 125.80,129.84 125.92,134.26 126.03,138.82 126.14,143.52 126.26,148.36 126.37,153.30 126.49,158.26 126.60,163.15 126.72,167.86 126.83,172.26 126.95,176.22 127.06,179.61 127.18,182.31 127.29,184.23 127.41,185.29 127.52,185.46 127.64,184.72 127.75,183.10 127.87,180.67 127.98,177.52 128.10,173.75 128.21,169.50 128.33,164.88 128.44,160.04 128.56,155.10 128.67,150.14 128.78,145.26 128.90,140.50 129.01,135.89 129.13,131.41 129.24,127.06 129.36,122.78 129.47,118.51 129.59,114.21 129.70,109.82 129.82,105.31 129.93,100.64 130.05,95.84 130.16,90.93 130.28,85.96 130.39,81.03 130.51,76.24 130.62,71.72 130.74,67.60 130.85,64.00 130.97,61.05 131.08,58.86 131.20,57.51 131.31,57.04 131.42,57.48 131.54,58.81 131.65,60.98 131.77,63.90 131.88,67.48 132.00,71.60 132.11,76.11 132.23,80.89 132.34,85.82 132.46,90.78 132.57,95.70 132.69,100.51 132.80,105.18 132.92,109.70 133.03,114.09 133.15,118.40 133.26,122.67 133.38,126.95 133.49,131.31 133.61,135.78 133.72,140.40 133.84,145.17 133.95,150.05 134.06,155.01 134.18,159.97 134.29,164.82 134.41,169.45 134.52,173.73 134.64,177.52 134.75,180.70 134.87,183.15 134.98,184.79 135.10,185.56 135.21,185.42 135.33,184.39 135.44,182.49 135.56,179.80 135.67,176.42 135.79,172.47 135.90,168.07 136.02,163.36 136.13,158.47 136.25,153.50 136.36,148.55 136.47,143.70 136.59,138.98 136.70,134.40 136.82,129.97 136.93,125.63 137.05,121.35 137.16,117.08 137.28,112.75 137.39,108.31 137.51,103.74 137.62,99.02 137.74,94.16 137.85,89.22 137.97,84.24 138.08,79.34 138.20,74.62 138.31,70.21 138.43,66.24 138.54,62.84 138.66,60.13 138.77,58.20 138.89,57.14 139.00,56.97 139.11,57.71 139.23,59.33 139.34,61.77 139.46,64.93 139.57,68.71 139.69,72.98 139.80,77.60 139.92,82.45 140.03,87.41 140.15,92.38 140.26,97.28 140.38,102.05 140.49,106.68 140.61,111.16 140.72,115.53 140.84,119.82 140.95,124.10 141.07,128.41 141.18,132.81 141.30,137.34 141.41,142.01 141.53,146.83 141.64,151.75 141.75,156.73 141.87,161.67 141.98,166.47 142.10,171.01 142.21,175.14 142.33,178.75 142.44,181.71 142.56,183.90 142.67,185.26 142.79,185.73 142.90,185.29 143.02,183.96 143.13,181.78 143.25,178.85 143.36,175.26 143.48,171.14 143.59,166.61 143.71,161.82 143.82,156.88 143.94,151.90 144.05,146.97 144.17,142.15 144.28,137.46 144.39,132.93 144.51,128.52 144.62,124.21 144.74,119.93 144.85,115.63 144.97,111.26 145.08,106.78 145.20,102.15 145.31,97.37 145.43,92.47 145.54,87.50 145.66,82.53 145.77,77.66 145.89,73.02 146.00,68.74 146.12,64.94 146.23,61.75 146.35,59.28 146.46,57.64 146.58,56.87 146.69,57.01 146.81,58.05 146.92,59.95 147.03,62.64 147.15,66.03 147.26,69.99 147.38,74.40 147.49,79.13 147.61,84.03 147.72,89.02 147.84,93.97 147.95,98.84 148.07,103.58 148.18,108.16 148.30,112.61 148.41,116.96 148.53,121.25 148.64,125.53 148.76,129.88 148.87,134.32 148.99,138.91 149.10,143.64 149.22,148.51 149.33,153.47 149.45,158.45 149.56,163.37 149.67,168.10 149.79,172.53 149.90,176.51 150.02,179.92 150.13,182.63 150.25,184.56 150.36,185.63 150.48,185.80 150.59,185.05 150.71,183.43 150.82,180.99 150.94,177.82 151.05,174.03 151.17,169.75 151.28,165.11 151.40,160.25 151.51,155.28 151.63,150.30 151.74,145.39 151.86,140.60 151.97,135.96 152.09,131.47 152.20,127.09 152.31,122.78 152.43,118.50 152.54,114.17 152.66,109.76 152.77,105.22 152.89,100.53 153.00,95.71 153.12,90.77 153.23,85.77 153.35,80.82 153.46,76.01 153.58,71.46 153.69,67.31 153.81,63.70 153.92,60.73 154.04,58.53 154.15,57.17 154.27,56.70 154.38,57.14 154.50,58.48 154.61,60.66 154.72,63.60 154.84,67.20 154.95,71.33 155.07,75.87 155.18,80.68 155.30,85.63 155.41,90.62 155.53,95.56 155.64,100.40 155.76,105.09 155.87,109.64 155.99,114.06 156.10,118.38 156.22,122.67 156.33,126.98 156.45,131.36 156.56,135.86 156.68,140.50 156.79,145.29 156.91,150.20 157.02,155.19 157.14,160.17 157.25,165.05 157.36,169.70 157.48,174.00 157.59,177.81 157.71,181.01 157.82,183.48 157.94,185.13 158.05,185.90 158.17,185.76 158.28,184.72 158.40,182.81 158.51,180.11 158.63,176.71 158.74,172.74 158.86,168.32 158.97,163.59 159.09,158.66 159.20,153.67 159.32,148.70 159.43,143.82 159.55,139.07 159.66,134.47 159.78,130.01 159.89,125.65 160.00,121.36 160.12,117.06 160.23,112.70 160.35,108.24 160.46,103.65 160.58,98.90 160.69,94.02 160.81,89.05 160.92,84.05 161.04,79.12 161.15,74.37 161.27,69.94 161.38,65.95 161.50,62.53 161.61,59.80 161.73,57.87 161.84,56.80 161.96,56.63 162.07,57.38 162.19,59.01 162.30,61.45 162.42,64.63 162.53,68.43 162.64,72.72 162.76,77.37 162.87,82.25 162.99,87.23 163.10,92.23 163.22,97.15 163.33,101.95 163.45,106.60 163.56,111.11 163.68,115.50 163.79,119.81 163.91,124.11 164.02,128.44 164.14,132.87 164.25,137.42 164.37,142.12 164.48,146.96 164.60,151.92 164.71,156.92 164.83,161.89 164.94,166.71 165.06,171.27 165.17,175.43 165.28,179.05 165.40,182.02 165.51,184.23 165.63,185.60 165.74,186.07 165.86,185.63 165.97,184.29 166.09,182.10 166.20,179.15 166.32,175.54 166.43,171.40 166.55,166.85 166.66,162.03 166.78,157.06 166.89,152.06 167.01,147.10 167.12,142.26 167.24,137.55 167.35,132.99 167.47,128.56 167.58,124.22 167.70,119.92 167.81,115.60 167.92,111.21 168.04,106.70 168.15,102.05 168.27,97.25 168.38,92.32 168.50,87.32 168.61,82.32 168.73,77.43 168.84,72.77 168.96,68.46 169.07,64.64 169.19,61.43 169.30,58.96 169.42,57.30 169.53,56.53 169.65,56.67 169.76,57.72 169.88,59.63 169.99,62.34 170.11,65.74 170.22,69.72 170.34,74.16 170.45,78.90 170.56,83.84 170.68,88.85 170.79,93.83 170.91,98.72 171.02,103.48 171.14,108.09 171.25,112.57 171.37,116.93 171.48,121.24 171.60,125.56 171.71,129.92 171.83,134.39 171.94,139.00 172.06,143.76 172.17,148.65 172.29,153.64 172.40,158.65 172.52,163.59 172.63,168.35 172.75,172.80 172.86,176.80 172.97,180.23 173.09,182.96 173.20,184.90 173.32,185.97 173.43,186.14 173.55,185.39 173.66,183.76 173.78,181.30 173.89,178.11 174.01,174.31 174.12,170.00 174.24,165.34 174.35,160.45 174.47,155.45 174.58,150.45 174.70,145.51 174.81,140.70 174.93,136.04 175.04,131.52 175.16,127.12 175.27,122.79 175.39,118.48 175.50,114.14 175.61,109.70 175.73,105.14 175.84,100.43 175.96,95.57 176.07,90.60 176.19,85.59 176.30,80.61 176.42,75.77 176.53,71.20 176.65,67.03 176.76,63.39 176.88,60.42 176.99,58.20 177.11,56.83 177.22,56.36 177.34,56.81 177.45,58.15 177.57,60.34 177.68,63.30 177.80,66.92 177.91,71.07 178.03,75.63 178.14,80.46 178.25,85.44 178.37,90.46 178.48,95.43 178.60,100.29 178.71,105.01 178.83,109.58 178.94,114.02 179.06,118.37 179.17,122.68 179.29,127.01 179.40,131.42 179.52,135.94 179.63,140.60 179.75,145.42 179.86,150.36 179.98,155.37 180.09,160.38 180.21,165.28 180.32,169.96 180.44,174.28 180.55,178.11 180.67,181.32 180.78,183.80 180.89,185.46 181.01,186.24 181.12,186.10 181.24,185.05 181.35,183.13 181.47,180.42 181.58,177.00 181.70,173.01 181.81,168.57 181.93,163.81 182.04,158.86 182.16,153.84 182.27,148.84 182.39,143.94 182.50,139.16 182.62,134.54 182.73,130.06 182.85,125.68 182.96,121.36 183.08,117.03 183.19,112.66 183.31,108.17 183.42,103.55 183.53,98.78 183.65,93.88 183.76,88.88 183.88,83.85 183.99,78.90 184.11,74.13 184.22,69.67 184.34,65.66 184.45,62.22 184.57,59.48 184.68,57.54 184.80,56.46 184.91,56.30 185.03,57.04 185.14,58.68 185.26,61.14 185.37,64.34 185.49,68.16 185.60,72.47 185.72,77.14 185.83,82.04 185.95,87.06 186.06,92.07 186.17,97.02 186.29,101.85 186.40,106.52 186.52,111.05 186.63,115.47 186.75,119.81 186.86,124.12 186.98,128.48 187.09,132.93 187.21,137.50 187.32,142.23 187.44,147.10 187.55,152.08 187.67,157.11 187.78,162.10 187.90,166.95 188.01,171.53 188.13,175.71 188.24,179.36 188.36,182.34 188.47,184.56 188.59,185.94 188.70,186.41 188.81,185.96 188.93,184.62 189.04,182.42 189.16,179.45 189.27,175.83 189.39,171.66 189.50,167.09 189.62,162.24 189.73,157.25 189.85,152.22 189.96,147.24 190.08,142.37 190.19,137.63 190.31,133.05 190.42,128.60 190.54,124.24 190.65,119.92 190.77,115.57 190.88,111.16 191.00,106.62 191.11,101.95 191.23,97.12 191.34,92.17 191.45,87.14 191.57,82.12 191.68,77.20 191.80,72.52 191.91,68.18 192.03,64.34 192.14,61.12 192.26,58.63 192.37,56.97 192.49,56.19 192.60,56.33 192.72,57.38 192.83,59.31 192.95,62.03 193.06,65.45 193.18,69.45 193.29,73.91 193.41,78.68 193.52,83.64 193.64,88.68 193.75,93.69 193.86,98.61 193.98,103.39 194.09,108.02 194.21,112.52 194.32,116.91 194.44,121.24 194.55,125.58 194.67,129.97 194.78,134.46 194.90,139.09 195.01,143.88 195.13,148.79 195.24,153.81 195.36,158.84 195.47,163.81 195.59,168.60 195.70,173.07 195.82,177.09 195.93,180.53 196.05,183.28 196.16,185.23 196.28,186.31 196.39,186.47 196.50,185.72 196.62,184.08 196.73,181.62 196.85,178.41 196.96,174.58 197.08,170.26 197.19,165.57 197.31,160.66 197.42,155.63 197.54,150.60 197.65,145.64 197.77,140.81 197.88,136.12 198.00,131.57 198.11,127.15 198.23,122.80 198.34,118.47 198.46,114.10 198.57,109.64 198.69,105.05 198.80,100.32 198.92,95.44 199.03,90.44 199.14,85.40 199.26,80.39 199.37,75.53 199.49,70.94 199.60,66.75 199.72,63.09 199.83,60.10 199.95,57.87 200.06,56.50 200.18,56.02 200.29,56.47 200.41,57.82 200.52,60.02 200.64,62.99 200.75,66.63 200.87,70.81 200.98,75.39 201.10,80.25 201.21,85.25 201.33,90.30 201.44,95.29 201.56,100.18 201.67,104.92 201.78,109.52 201.90,113.98 202.01,118.35 202.13,122.69 202.24,127.04 202.36,131.47 202.47,136.01 202.59,140.70 202.70,145.54 202.82,150.51 202.93,155.54 203.05,160.58 203.16,165.51 203.28,170.21 203.39,174.55 203.51,178.40 203.62,181.62 203.74,184.12 203.85,185.78 203.97,186.56 204.08,186.42 204.20,185.36 204.31,183.43 204.42,180.70 204.54,177.27 204.65,173.26 204.77,168.79 204.88,164.01 205.00,159.04 205.11,153.99 205.23,148.97 205.34,144.04 205.46,139.25 205.57,134.60 205.69,130.10 205.80,125.70 205.92,121.36 206.03,117.01 206.15,112.62 206.26,108.12 206.38,103.48 206.49,98.69 206.61,93.76 206.72,88.74 206.84,83.69 206.95,78.72 207.06,73.93 207.18,69.45 207.29,65.42 207.41,61.98 207.52,59.23 207.64,57.28 207.75,56.20 207.87,56.03 207.98,56.79 208.10,58.43 208.21,60.90 208.33,64.11 208.44,67.95 208.56,72.28 208.67,76.97 208.79,81.89 208.90,86.93 209.02,91.96 209.13,96.93 209.25,101.77 209.36,106.47 209.48,111.02 209.59,115.44 209.70,119.80 209.82,124.14 209.93,128.51 210.05,132.97 210.16,137.56 210.28,142.30 210.39,147.19 210.51,152.18 210.62,157.23 210.74,162.24 210.85,167.10 210.97,171.70 211.08,175.89 211.20,179.55 211.31,182.54 211.43,184.77 211.54,186.14 211.66,186.62 211.77,186.17 211.89,184.81 212.00,182.61 212.11,179.63 212.23,175.99 212.34,171.81 212.46,167.23 212.57,162.37 212.69,157.36 212.80,152.31 212.92,147.31 213.03,142.43 213.15,137.68 213.26,133.09 213.38,128.62 213.49,124.25 213.61,119.91 213.72,115.56 213.84,111.13 213.95,106.58 214.07,101.89 214.18,97.06 214.30,92.09 214.41,87.06 214.53,82.02 214.64,77.09 214.75,72.39 214.87,68.05 214.98,64.20 215.10,60.98 215.21,58.48 215.33,56.82 215.44,56.04 215.56,56.18 215.67,57.24 215.79,59.17 215.90,61.90 216.02,65.33 216.13,69.34 216.25,73.81 216.36,78.59 216.48,83.56 216.59,88.61 216.71,93.63 216.82,98.56 216.94,103.35 217.05,108.00 217.17,112.50 217.28,116.90 217.39,121.24 217.51,125.59 217.62,129.98 217.74,134.48 217.85,139.12 217.97,143.91 218.08,148.84 218.20,153.86 218.31,158.91 218.43,163.88 218.54,168.67 218.66,173.15 218.77,177.18 218.89,180.62 219.00,183.37 219.12,185.32 219.23,186.40 219.35,186.57 219.46,185.81 219.58,184.17 219.69,181.70 219.81,178.49 219.92,174.65 220.03,170.32 220.15,165.63 220.26,160.71 220.38,155.67 220.49,150.64 220.61,145.67 220.72,140.83 220.84,136.13 220.95,131.58 221.07,127.16 221.18,122.80 221.30,118.46 221.41,114.09 221.53,109.63 221.64,105.04 221.76,100.30 221.87,95.41 221.99,90.42 222.10,85.37 222.22,80.36 222.33,75.50 222.45,70.90 222.56,66.71 222.67,63.05 222.79,60.06 222.90,57.83 223.02,56.46 223.13,55.98 223.25,56.43 223.36,57.79 223.48,59.99 223.59,62.97 223.71,66.61 223.82,70.79 223.94,75.37 224.05,80.23 224.17,85.24 224.28,90.29 224.40,95.29 224.51,100.17 224.63,104.92 224.74,109.51 224.86,113.98 224.97,118.35 225.09,122.69 225.20,127.04 225.31,131.47 225.43,136.02 225.54,140.71 225.66,145.54 225.77,150.51 225.89,155.54 226.00,160.58 226.12,165.51 226.23,170.21 226.35,174.55 226.46,178.40 226.58,181.62 226.69,184.12 226.81,185.78 226.92,186.56 227.04,186.42 227.15,185.36 227.27,183.43 227.38,180.70 227.50,177.27 227.61,173.26 227.73,168.79 227.84,164.01 227.95,159.04 228.07,153.99 228.18,148.97 228.30,144.04 228.41,139.25 228.53,134.60 228.64,130.10 228.76,125.70 228.87,121.36 228.99,117.01 229.10,112.62 229.22,108.12 229.33,103.48 229.45,98.69 229.56,93.76 229.68,88.74 229.79,83.69 229.91,78.72 230.02,73.93 230.14,69.45 230.25,65.42 230.36,61.98 230.48,59.23 230.59,57.28 230.71,56.20 230.82,56.03 230.94,56.79 231.05,58.43 231.17,60.90 231.28,64.11 231.40,67.95 231.51,72.28 231.63,76.97 231.74,81.89 231.86,86.93 231.97,91.96 232.09,96.93 232.20,101.77 232.32,106.47 232.43,111.02 232.55,115.44 232.66,119.80 232.78,124.14 232.89,128.51 233.00,132.97 233.12,137.56 233.23,142.30 233.35,147.19 233.46,152.18 233.58,157.23 233.69,162.24 233.81,167.10 233.92,171.70 234.04,175.89 234.15,179.55 234.27,182.54 234.38,184.77 234.50,186.14 234.61,186.62 234.73,186.17 234.84,184.81 234.96,182.61 235.07,179.63 235.19,175.99 235.30,171.81 235.42,167.23 235.53,162.37 235.64,157.36 235.76,152.31 235.87,147.31 235.99,142.43 236.10,137.68 236.22,133.09 236.33,128.62 236.45,124.25 236.56,119.91 236.68,115.56 236.79,111.13 236.91,106.58 237.02,101.89 237.14,97.06 237.25,92.09 237.37,87.06 237.48,82.02 237.60,77.09 237.71,72.39 237.83,68.05 237.94,64.20 238.06,60.98 238.17,58.48 238.28,56.82 238.40,56.04 238.51,56.18 238.63,57.24 238.74,59.17 238.86,61.90 238.97,65.33 239.09,69.34 239.20,73.81 239.32,78.59 239.43,83.56 239.55,88.61 239.66,93.63 239.78,98.56 239.89,103.35 240.01,108.00 240.12,112.50 240.24,116.90 240.35,121.24 240.47,125.59 240.58,129.98 240.70,134.48 240.81,139.12 240.92,143.91 241.04,148.84 241.15,153.86 241.27,158.91 241.38,163.88 241.50,168.67 241.61,173.15 241.73,177.18 241.84,180.62 241.96,183.37 242.07,185.32 242.19,186.40 242.30,186.57 242.42,185.81 242.53,184.17 242.65,181.70 242.76,178.49 242.88,174.65 242.99,170.32 243.11,165.63 243.22,160.71 243.34,155.67 243.45,150.64 243.56,145.67 243.68,140.83 243.79,136.13 243.91,131.58 244.02,127.16 244.14,122.80 244.25,118.46 244.37,114.09 244.48,109.63 244.60,105.04 244.71,100.30 244.83,95.41 244.94,90.42 245.06,85.37 245.17,80.36 245.29,75.50 245.40,70.90 245.52,66.71 245.63,63.05 245.75,60.06 245.86,57.83 245.98,56.46 246.09,55.98 246.20,56.43 246.32,57.79 246.43,59.99 246.55,62.97 246.66,66.61 246.78,70.79 246.89,75.37 247.01,80.23 247.12,85.24 247.24,90.29 247.35,95.29 247.47,100.17 247.58,104.92 247.70,109.51 247.81,113.98 247.93,118.35 248.04,122.69 248.16,127.04 248.27,131.47 248.39,136.02 248.50,140.71 248.62,145.54 248.73,150.51 248.84,155.54 248.96,160.58 249.07,165.51 249.19,170.21 249.30,174.55 249.42,178.40 249.53,181.62 249.65,184.12 249.76,185.78 249.88,186.56 249.99,186.42 250.11,185.36 250.22,183.43 250.34,180.70 250.45,177.27 250.57,173.26 250.68,168.79 250.80,164.01 250.91,159.04 251.03,153.99 251.14,148.97 251.25,144.04 251.37,139.25 251.48,134.60 251.60,130.10 251.71,125.70 251.83,121.36 251.94,117.01 252.06,112.62 252.17,108.12 252.29,103.48 252.40,98.69 252.52,93.76 252.63,88.74 252.75,83.69 252.86,78.72 252.98,73.93 253.09,69.45 253.21,65.42 253.32,61.98 253.44,59.23 253.55,57.28 253.67,56.20 253.78,56.03 253.89,56.79 254.01,58.43 254.12,60.90 254.24,64.11 254.35,67.95 254.47,72.28 254.58,76.97 254.70,81.89 254.81,86.93 254.93,91.96 255.04,96.93 255.16,101.77 255.27,106.47 255.39,111.02 255.50,115.44 255.62,119.80 255.73,124.14 255.85,128.51 255.96,132.97 256.08,137.56 256.19,142.30 256.31,147.19 256.42,152.18 256.53,157.23 256.65,162.24 256.76,167.10 256.88,171.70 256.99,175.89 257.11,179.55 257.22,182.54 257.34,184.77 257.45,186.14 257.57,186.62 257.68,186.17 257.80,184.81 257.91,182.61 258.03,179.63 258.14,175.99 258.26,171.81 258.37,167.23 258.49,162.37 258.60,157.36 258.72,152.31 258.83,147.31 258.95,142.43 259.06,137.68 259.17,133.09 259.29,128.62 259.40,124.25 259.52,119.91 259.63,115.56 259.75,111.13 259.86,106.58 259.98,101.89 260.09,97.06 260.21,92.09 260.32,87.06 260.44,82.02 260.55,77.09 260.67,72.39 260.78,68.05 260.90,64.20 261.01,60.98 261.13,58.48 261.24,56.82 261.36,56.04 261.47,56.18 261.59,57.24 261.70,59.17 261.81,61.90 261.93,65.33 262.04,69.34 262.16,73.81 262.27,78.59 262.39,83.56 262.50,88.61 262.62,93.63 262.73,98.56 262.85,103.35 262.96,108.00 263.08,112.50 263.19,116.90 263.31,121.24 263.42,125.59 263.54,129.98 263.65,134.48 263.77,139.12 263.88,143.91 264.00,148.84 264.11,153.86 264.23,158.91 264.34,163.88 264.45,168.67 264.57,173.15 264.68,177.18 264.80,180.62 264.91,183.37 265.03,185.32 265.14,186.40 265.26,186.57 265.37,185.81 265.49,184.17 265.60,181.70 265.72,178.49 265.83,174.65 265.95,170.32 266.06,165.63 266.18,160.71 266.29,155.67 266.41,150.64 266.52,145.67 266.64,140.83 266.75,136.13 266.87,131.58 266.98,127.16 267.09,122.80 267.21,118.46 267.32,114.09 267.44,109.63 267.55,105.04 267.67,100.30 267.78,95.41 267.90,90.42 268.01,85.37 268.13,80.36 268.24,75.50 268.36,70.90 268.47,66.71 268.59,63.05 268.70,60.06 268.82,57.83 268.93,56.46 269.05,55.98 269.16,56.43 269.28,57.79 269.39,59.99 269.50,62.97 269.62,66.61 269.73,70.79 269.85,75.37 269.96,80.23 270.08,85.24 270.19,90.29 270.31,95.29 270.42,100.17 270.54,104.92 270.65,109.51 270.77,113.98 270.88,118.35 271.00,122.69 271.11,127.04 271.23,131.47 271.34,136.02 271.46,140.71 271.57,145.54 271.69,150.51 271.80,155.54 271.92,160.58 272.03,165.51 272.14,170.21 272.26,174.55 272.37,178.40 272.49,181.62 272.60,184.12 272.72,185.78 272.83,186.56 272.95,186.42 273.06,185.36 273.18,183.43 273.29,180.70 273.41,177.27 273.52,173.26 273.64,168.79 273.75,164.01 273.87,159.04 273.98,153.99 274.10,148.97 274.21,144.04 274.33,139.25 274.44,134.60 274.56,130.10 274.67,125.70 274.78,121.36 274.90,117.01 275.01,112.62 275.13,108.12 275.24,103.48 275.36,98.69 275.47,93.76 275.59,88.74 275.70,83.69 275.82,78.72 275.93,73.93 276.05,69.45 276.16,65.42 276.28,61.98 276.39,59.23 276.51,57.28 276.62,56.20 276.74,56.03 276.85,56.79 276.97,58.43 277.08,60.90 277.20,64.11 277.31,67.95 277.42,72.28 277.54,76.97 277.65,81.89 277.77,86.93 277.88,91.96 278.00,96.93 278.11,101.77 278.23,106.47 278.34,111.02 278.46,115.44 278.57,119.80 278.69,124.14 278.80,128.51 278.92,132.97 279.03,137.56 279.15,142.30 279.26,147.19 279.38,152.18 279.49,157.23 279.61,162.24 279.72,167.10 279.84,171.70 279.95,175.89 280.06,179.55 280.18,182.54 280.29,184.77 280.41,186.14 280.52,186.62 280.64,186.17 280.75,184.81 280.87,182.61 280.98,179.63 281.10,175.99 281.21,171.81 281.33,167.23 281.44,162.37 281.56,157.36 281.67,152.31 281.79,147.31 281.90,142.43 282.02,137.68 282.13,133.09 282.25,128.62 282.36,124.25 282.48,119.91 282.59,115.56 282.70,111.13 282.82,106.58 282.93,101.89 283.05,97.06 283.16,92.09 283.28,87.06 283.39,82.02 283.51,77.09 283.62,72.39 283.74,68.05 283.85,64.20 283.97,60.98 284.08,58.48 284.20,56.82 284.31,56.04 284.43,56.18 284.54,57.24 284.66,59.17 284.77,61.90 284.89,65.33 285.00,69.34 285.12,73.81 285.23,78.59 285.34,83.56 285.46,88.61 285.57,93.63 285.69,98.56 285.80,103.35 285.92,108.00 286.03,112.50 286.15,116.90 286.26,121.24 286.38,125.59 286.49,129.98 286.61,134.48 286.72,139.12 286.84,143.91 286.95,148.84 287.07,153.86 287.18,158.91 287.30,163.88 287.41,168.67 287.53,173.15 287.64,177.18 287.75,180.62 287.87,183.37 287.98,185.32 288.10,186.40 288.21,186.57 288.33,185.81 288.44,184.17 288.56,181.70 288.67,178.49 288.79,174.65 288.90,170.32 289.02,165.63 289.13,160.71 289.25,155.67 289.36,150.64 289.48,145.67 289.59,140.83 289.71,136.13 289.82,131.58 289.94,127.16 290.05,122.80 290.17,118.46 290.28,114.09 290.39,109.63 290.51,105.04 290.62,100.30 290.74,95.41 290.85,90.42 290.97,85.37 291.08,80.36 291.20,75.50 291.31,70.90 291.43,66.71 291.54,63.05 291.66,60.06 291.77,57.83 291.89,56.46 292.00,55.98 292.12,56.43 292.23,57.79 292.35,59.99 292.46,62.97 292.58,66.61 292.69,70.79 292.81,75.37 292.92,80.23 293.03,85.24 293.15,90.29 293.26,95.29 293.38,100.17 293.49,104.92 293.61,109.51 293.72,113.98 293.84,118.35 293.95,122.69 294.07,127.04 294.18,131.47 294.30,136.02 294.41,140.71 294.53,145.54 294.64,150.51 294.76,155.54 294.87,160.58 294.99,165.51 295.10,170.21 295.22,174.55 295.33,178.40 295.45,181.62 295.56,184.12 295.67,185.78 295.79,186.56 295.90,186.42 296.02,185.36 296.13,183.43 296.25,180.70 296.36,177.27 296.48,173.26 296.59,168.79 296.71,164.01 296.82,159.04 296.94,153.99 297.05,148.97 297.17,144.04 297.28,139.25 297.40,134.60 297.51,130.10 297.63,125.70 297.74,121.36 297.86,117.01 297.97,112.62 298.09,108.12 298.20,103.48 298.31,98.69 298.43,93.76 298.54,88.74 298.66,83.69 298.77,78.72 298.89,73.93 299.00,69.45 299.12,65.42 299.23,61.98 299.35,59.23 299.46,57.28 299.58,56.20 299.69,56.03 299.81,56.79 299.92,58.43 300.04,60.90 300.15,64.11 300.27,67.95 300.38,72.28 300.50,76.97 300.61,81.89 300.73,86.93 300.84,91.96 300.95,96.93 301.07,101.77 301.18,106.47 301.30,111.02 301.41,115.44 301.53,119.80 301.64,124.14 301.76,128.51 301.87,132.97 301.99,137.56 302.10,142.30 302.22,147.19 302.33,152.18 302.45,157.23 302.56,162.24 302.68,167.10 302.79,171.70 302.91,175.89 303.02,179.55 303.14,182.54 303.25,184.77 303.37,186.14 303.48,186.62 303.59,186.17 303.71,184.81 303.82,182.61 303.94,179.63 304.05,175.99 304.17,171.81 304.28,167.23 304.40,162.37 304.51,157.36 304.63,152.31 304.74,147.31 304.86,142.43 304.97,137.68 305.09,133.09 305.20,128.62 305.32,124.25 305.43,119.91 305.55,115.56 305.66,111.13 305.78,106.58 305.89,101.89 306.01,97.06 306.12,92.09 306.23,87.06 306.35,82.02 306.46,77.09 306.58,72.39 306.69,68.05 306.81,64.20 306.92,60.98 307.04,58.48 307.15,56.82 307.27,56.04 307.38,56.18 307.50,57.24 307.61,59.17 307.73,61.90 307.84,65.33 307.96,69.34 308.07,73.81 308.19,78.59 308.30,83.56 308.42,88.61 308.53,93.63 308.64,98.56 308.76,103.35 308.87,108.00 308.99,112.50 309.10,116.90 309.22,121.24 309.33,125.59 309.45,129.98 309.56,134.48 309.68,139.12 309.79,143.91 309.91,148.84 310.02,153.86 310.14,158.91 310.25,163.88 310.37,168.67 310.48,173.15 310.60,177.18 310.71,180.62 310.83,183.37 310.94,185.32 311.06,186.40 311.17,186.57 311.28,185.81 311.40,184.17 311.51,181.70 311.63,178.49 311.74,174.65 311.86,170.32 311.97,165.63 312.09,160.71 312.20,155.67 312.32,150.64 312.43,145.67 312.55,140.83 312.66,136.13 312.78,131.58 312.89,127.16 313.01,122.80 313.12,118.46 313.24,114.09 313.35,109.63 313.47,105.04 313.58,100.30 313.70,95.41 313.81,90.42 313.92,85.37 314.04,80.36 314.15,75.50 314.27,70.90 314.38,66.71 314.50,63.05 314.61,60.06 314.73,57.83 314.84,56.46 314.96,55.98 315.07,56.43 315.19,57.79 315.30,59.99 315.42,62.97 315.53,66.61 315.65,70.79 315.76,75.37 315.88,80.23 315.99,85.24 316.11,90.29 316.22,95.29 316.34,100.17 316.45,104.92 316.56,109.51 316.68,113.98 316.79,118.35 316.91,122.69 317.02,127.04 317.14,131.47 317.25,136.02 317.37,140.71 317.48,145.54 317.60,150.51 317.71,155.54 317.83,160.58 317.94,165.51 318.06,170.21 318.17,174.55 318.29,178.40 318.40,181.62 318.52,184.12"/>
</g>
<clipPath id="cr"><rect x="393.10" y="8.30" width="287.60" height="224.50"/></clipPath><g clip-path="url(#cr)">
<polyline fill="none" stroke="#0072BD" stroke-width="1.3" stroke-linejoin="round" points="392.30,170.75 392.49,173.74 392.67,176.51 392.86,179.04 393.04,181.29 393.23,183.21 393.41,184.78 393.60,185.97 393.78,186.77 393.97,187.15 394.15,187.12 394.34,186.67 394.52,185.81 394.71,184.56 394.89,182.93 395.08,180.95 395.26,178.66 395.45,176.09 395.63,173.28 395.82,170.26 396.00,167.09 396.19,163.80 396.37,160.42 396.56,157.00 396.74,153.57 396.93,150.15 397.11,146.76 397.30,143.43 397.48,140.15 397.67,136.95 397.85,133.82 398.04,130.74 398.22,127.72 398.41,124.75 398.59,121.79 398.78,118.84 398.96,115.88 399.15,112.88 399.33,109.84 399.52,106.73 399.70,103.55 399.89,100.30 400.08,96.97 400.26,93.57 400.45,90.12 400.63,86.63 400.82,83.12 401.00,79.62 401.19,76.17 401.37,72.80 401.56,69.55 401.74,66.47 401.93,63.59 402.11,60.95 402.30,58.61 402.48,56.58 402.67,54.91 402.85,53.62 403.04,52.74 403.22,52.28 403.41,52.31 403.59,52.80 403.78,53.72 403.96,55.03 404.15,56.73 404.33,58.78 404.52,61.16 404.70,63.81 404.89,66.71 405.07,69.82 405.26,73.08 405.44,76.46 405.63,79.92 405.81,83.42 406.00,86.94 406.18,90.44 406.37,93.89 406.55,97.30 406.74,100.63 406.92,103.89 407.11,106.86 407.29,109.58 407.48,112.26 407.66,114.88 407.85,117.48 408.04,120.07 408.22,122.67 408.41,125.29 408.59,127.95 408.78,130.66 408.96,133.44 409.15,136.28 409.33,139.18 409.52,142.15 409.70,145.16 409.89,148.20 410.07,151.24 410.26,154.27 410.44,157.23 410.63,160.11 410.81,162.86 411.00,165.43 411.18,167.80 411.37,169.91 411.55,171.74 411.74,173.24 411.92,174.38 412.11,175.15 412.29,175.52 412.48,175.47 412.66,175.19 412.85,174.61 413.03,173.63 413.22,172.25 413.40,170.49 413.59,168.39 413.77,165.98 413.96,163.28 414.14,160.34 414.33,157.20 414.51,153.91 414.70,150.49 414.88,146.99 415.07,143.45 415.25,139.89 415.44,136.34 415.63,132.83 415.81,129.38 416.00,125.98 416.18,122.65 416.37,119.40 416.55,116.20 416.74,113.06 416.92,109.95 417.11,106.88 417.29,103.81 417.48,100.73 417.66,97.62 417.85,94.47 418.03,91.26 418.22,88.00 418.40,84.66 418.59,81.26 418.77,77.79 418.96,74.28 419.14,70.73 419.33,67.18 419.51,63.64 419.70,60.15 419.88,56.76 420.07,53.48 420.25,50.38 420.44,47.48 420.62,44.83 420.81,42.46 420.99,40.42 421.18,38.73 421.36,37.41 421.55,36.49 421.73,35.99 421.92,35.97 422.10,36.42 422.29,37.28 422.47,38.53 422.66,40.16 422.84,42.14 423.03,44.43 423.22,47.00 423.40,49.81 423.59,52.82 423.77,55.99 423.96,59.28 424.14,62.65 424.33,66.07 424.51,69.50 424.70,72.92 424.88,76.30 425.07,79.63 425.25,82.90 425.44,86.10 425.62,89.23 425.81,92.30 425.99,95.31 426.18,98.29 426.36,101.24 426.55,104.18 426.73,107.14 426.92,110.12 427.10,113.14 427.29,116.22 427.47,119.36 427.66,122.57 427.84,125.84 428.03,129.18 428.21,132.57 428.40,135.99 428.58,139.42 428.77,142.82 428.95,146.18 429.14,149.45 429.32,152.60 429.51,155.58 429.69,158.35 429.88,160.87 430.06,163.11 430.25,165.03 430.43,166.60 430.62,167.79 430.80,168.58 430.99,168.96 431.18,168.96 431.36,168.57 431.55,167.76 431.73,166.57 431.92,165.00 432.10,163.08 432.29,160.85 432.47,158.34 432.66,155.59 432.84,152.63 433.03,149.52 433.21,146.29 433.40,142.98 433.58,139.62 433.77,136.25 433.95,132.89 434.14,129.57 434.32,126.30 434.51,123.09 434.69,119.95 434.88,116.88 435.06,113.87 435.25,110.91 435.43,108.00 435.62,105.10 435.80,102.22 435.99,99.33 436.17,96.40 436.36,93.44 436.54,90.42 436.73,87.34 436.91,84.19 437.10,80.97 437.28,77.70 437.47,74.37 437.65,71.01 437.84,67.64 438.02,64.29 438.21,60.99 438.39,57.78 438.58,54.69 438.77,51.78 438.95,49.06 439.14,46.60 439.32,44.42 439.51,42.56 439.69,41.05 439.88,39.91 440.06,39.18 440.25,38.85 440.43,38.93 440.62,39.41 440.80,40.31 440.99,41.59 441.17,43.25 441.36,45.26 441.54,47.58 441.73,50.18 441.91,53.02 442.10,56.06 442.28,59.25 442.47,62.57 442.65,65.97 442.84,69.42 443.02,72.88 443.21,76.32 443.39,79.73 443.58,83.09 443.76,86.39 443.95,89.61 444.13,92.77 444.32,95.87 444.50,98.91 444.69,101.92 444.87,104.90 445.06,107.87 445.24,110.85 445.43,113.86 445.61,116.91 445.80,120.02 445.98,123.19 446.17,126.42 446.36,129.73 446.54,133.09 446.73,136.51 446.91,139.96 447.10,143.41 447.28,146.85 447.47,150.24 447.65,153.53 447.84,156.71 448.02,159.71 448.21,162.51 448.39,165.07 448.58,167.34 448.76,169.29 448.95,170.88 449.13,172.11 449.32,172.93 449.50,173.35 449.69,173.35 449.87,172.93 450.06,172.11 450.24,170.89 450.43,169.30 450.61,167.36 450.80,165.11 450.98,162.59 451.17,159.82 451.35,156.85 451.54,153.72 451.72,150.47 451.91,147.14 452.09,143.77 452.28,140.38 452.46,137.01 452.65,133.67 452.83,130.38 453.02,127.15 453.20,124.00 453.39,120.91 453.57,117.88 453.76,114.91 453.94,111.97 454.13,109.06 454.32,106.16 454.50,103.25 454.69,100.31 454.87,97.33 455.06,94.30 455.24,91.20 455.43,88.03 455.61,84.80 455.80,81.50 455.98,78.16 456.17,74.78 456.35,71.40 456.54,68.03 456.72,64.72 456.91,61.49 457.09,58.39 457.28,55.45 457.46,52.72 457.65,50.24 457.83,48.04 458.02,46.16 458.20,44.63 458.39,43.47 458.57,42.72 458.76,42.37 458.94,42.44 459.13,42.92 459.31,43.81 459.50,45.10 459.68,46.75 459.87,48.75 460.05,51.07 460.24,53.66 460.42,56.50 460.61,59.53 460.79,62.73 460.98,66.04 461.16,69.43 461.35,72.87 461.53,76.32 461.72,79.76 461.91,83.17 462.09,86.52 462.28,89.81 462.46,93.03 462.65,96.19 462.83,99.28 463.02,102.32 463.20,105.31 463.39,108.29 463.57,111.26 463.76,114.23 463.94,117.24 464.13,120.28 464.31,123.38 464.50,126.55 464.68,129.78 464.87,133.08 465.05,136.44 465.24,139.84 465.42,143.28 465.61,146.73 465.79,150.17 465.98,153.55 466.16,156.84 466.35,160.01 466.53,163.01 466.72,165.80 466.90,168.35 467.09,170.62 467.27,172.56 467.46,174.16 467.64,175.38 467.83,176.20 468.01,176.62 468.20,176.62 468.38,176.20 468.57,175.38 468.75,174.16 468.94,172.58 469.12,170.65 469.31,168.40 469.50,165.87 469.68,163.11 469.87,160.15 470.05,157.02 470.24,153.78 470.42,150.46 470.61,147.09 470.79,143.71 470.98,140.34 471.16,137.01 471.35,133.73 471.53,130.51 471.72,127.36 471.90,124.27 472.09,121.25 472.27,118.28 472.46,115.35 472.64,112.45 472.83,109.55 473.01,106.65 473.20,103.71 473.38,100.74 473.57,97.71 473.75,94.62 473.94,91.46 474.12,88.23 474.31,84.94 474.49,81.60 474.68,78.23 474.86,74.85 475.05,71.49 475.23,68.18 475.42,64.96 475.60,61.86 475.79,58.93 475.97,56.21 476.16,53.73 476.34,51.53 476.53,49.66 476.71,48.13 476.90,46.98 477.08,46.22 477.27,45.88 477.46,45.93 477.64,46.39 477.83,47.26 478.01,48.52 478.20,50.15 478.38,52.12 478.57,54.41 478.75,56.98 478.94,59.79 479.12,62.79 479.31,65.96 479.49,69.24 479.68,72.61 479.86,76.02 480.05,79.44 480.23,82.85 480.42,86.23 480.60,89.55 480.79,92.81 480.97,96.01 481.16,99.13 481.34,102.20 481.53,105.21 481.71,108.18 481.90,111.12 482.08,114.06 482.27,117.01 482.45,119.99 482.64,123.01 482.82,126.08 483.01,129.21 483.19,132.42 483.38,135.69 483.56,139.02 483.75,142.40 483.93,145.81 484.12,149.23 484.30,152.63 484.49,155.98 484.67,159.25 484.86,162.39 485.05,165.36 485.23,168.13 485.42,170.65 485.60,172.89 485.79,174.81 485.97,176.38 486.16,177.58 486.34,178.38 486.53,178.77 486.71,178.74 486.90,178.31 487.08,177.46 487.27,176.23 487.45,174.62 487.64,172.67 487.82,170.41 488.01,167.86 488.19,165.08 488.38,162.10 488.56,158.96 488.75,155.70 488.93,152.36 489.12,148.98 489.30,145.58 489.49,142.20 489.67,138.85 489.86,135.55 490.04,132.31 490.23,129.14 490.41,126.04 490.60,123.00 490.78,120.02 490.97,117.07 491.15,114.15 491.34,111.24 491.52,108.31 491.71,105.36 491.89,102.37 492.08,99.32 492.26,96.21 492.45,93.04 492.64,89.79 492.82,86.49 493.01,83.13 493.19,79.75 493.38,76.35 493.56,72.97 493.75,69.65 493.93,66.41 494.12,63.30 494.30,60.35 494.49,57.60 494.67,55.11 494.86,52.89 495.04,51.00 495.23,49.45 495.41,48.28 495.60,47.50 495.78,47.13 495.97,47.18 496.15,47.63 496.34,48.49 496.52,49.74 496.71,51.36 496.89,53.33 497.08,55.61 497.26,58.17 497.45,60.96 497.63,63.96 497.82,67.11 498.00,70.38 498.19,73.74 498.37,77.13 498.56,80.55 498.74,83.95 498.93,87.31 499.11,90.62 499.30,93.87 499.48,97.05 499.67,100.17 499.85,103.22 500.04,106.22 500.22,109.18 500.41,112.12 500.60,115.05 500.78,117.98 500.97,120.95 501.15,123.95 501.34,127.02 501.52,130.14 501.71,133.33 501.89,136.59 502.08,139.91 502.26,143.28 502.45,146.68 502.63,150.09 502.82,153.48 503.00,156.82 503.19,160.07 503.37,163.20 503.56,166.16 503.74,168.92 503.93,171.43 504.11,173.66 504.30,175.57 504.48,177.13 504.67,178.32 504.85,179.11 505.04,179.50 505.22,179.47 505.41,179.03 505.59,178.18 505.78,176.94 505.96,175.33 506.15,173.38 506.33,171.11 506.52,168.57 506.70,165.79 506.89,162.81 507.07,159.67 507.26,156.41 507.44,153.07 507.63,149.68 507.81,146.29 508.00,142.90 508.19,139.55 508.37,136.25 508.56,133.02 508.74,129.85 508.93,126.75 509.11,123.71 509.30,120.73 509.48,117.78 509.67,114.86 509.85,111.94 510.04,109.02 510.22,106.07 510.41,103.08 510.59,100.03 510.78,96.92 510.96,93.74 511.15,90.50 511.33,87.19 511.52,83.84 511.70,80.45 511.89,77.06 512.07,73.68 512.26,70.36 512.44,67.12 512.63,64.00 512.81,61.05 513.00,58.31 513.18,55.81 513.37,53.60 513.55,51.70 513.74,50.15 513.92,48.98 514.11,48.19 514.29,47.82 514.48,47.86 514.66,48.31 514.85,49.17 515.03,50.42 515.22,52.04 515.40,54.00 515.59,56.28 515.78,58.83 515.96,61.62 516.15,64.61 516.33,67.76 516.52,71.03 516.70,74.37 516.89,77.76 517.07,81.17 517.26,84.56 517.44,87.92 517.63,91.23 517.81,94.47 518.00,97.65 518.18,100.76 518.37,103.80 518.55,106.80 518.74,109.75 518.92,112.68 519.11,115.61 519.29,118.54 519.48,121.50 519.66,124.50 519.85,127.56 520.03,130.67 520.22,133.86 520.40,137.11 520.59,140.43 520.77,143.79 520.96,147.18 521.14,150.59 521.33,153.97 521.51,157.30 521.70,160.55 521.88,163.67 522.07,166.63 522.25,169.38 522.44,171.89 522.62,174.12 522.81,176.02 522.99,177.58 523.18,178.77 523.36,179.56 523.55,179.94 523.74,179.92 523.92,179.47 524.11,178.63 524.29,177.39 524.48,175.79 524.66,173.84 524.85,171.57 525.03,169.03 525.22,166.26 525.40,163.28 525.59,160.15 525.77,156.90 525.96,153.56 526.14,150.18 526.33,146.79 526.51,143.41 526.70,140.07 526.88,136.78 527.07,133.55 527.25,130.39 527.44,127.29 527.62,124.26 527.81,121.28 527.99,118.34 528.18,115.42 528.36,112.51 528.55,109.59 528.73,106.65 528.92,103.66 529.10,100.62 529.29,97.51 529.47,94.34 529.66,91.10 529.84,87.80 530.03,84.46 530.21,81.08 530.40,77.69 530.58,74.32 530.77,71.00 530.95,67.77 531.14,64.66 531.33,61.71 531.51,58.98 531.70,56.48 531.88,54.27 532.07,52.38 532.25,50.83 532.44,49.66 532.62,48.88 532.81,48.50 532.99,48.55 533.18,49.00 533.36,49.87 533.55,51.12 533.73,52.74 533.92,54.71 534.10,56.98 534.29,59.54 534.47,62.33 534.66,65.32 534.84,68.47 535.03,71.73 535.21,75.08 535.40,78.47 535.58,81.88 535.77,85.27 535.95,88.63 536.14,91.93 536.32,95.18 536.51,98.35 536.69,101.46 536.88,104.51 537.06,107.50 537.25,110.46 537.43,113.39 537.62,116.31 537.80,119.25 537.99,122.21 538.17,125.21 538.36,128.26 538.54,131.38 538.73,134.57 538.92,137.82 539.10,141.13 539.29,144.50 539.47,147.89 539.66,151.29 539.84,154.68 540.03,158.01 540.21,161.26 540.40,164.38 540.58,167.34 540.77,170.09 540.95,172.60 541.14,174.82 541.32,176.73 541.51,178.30 541.69,179.48 541.88,180.28 542.06,180.67 542.25,180.65 542.43,180.21 542.62,179.37 542.80,178.14 542.99,176.55 543.17,174.61 543.36,172.35 543.54,169.83 543.73,167.06 543.91,164.09 544.10,160.97 544.28,157.73 544.47,154.41 544.65,151.04 544.84,147.66 545.02,144.30 545.21,140.96 545.39,137.68 545.58,134.47 545.76,131.31 545.95,128.23 546.13,125.21 546.32,122.24 546.50,119.31 546.69,116.40 546.88,113.51 547.06,110.60 547.25,107.66 547.43,104.69 547.62,101.66 547.80,98.56 547.99,95.40 548.17,92.18 548.36,88.89 548.54,85.55 548.73,82.18 548.91,78.81 549.10,75.45 549.28,72.14 549.47,68.92 549.65,65.82 549.84,62.89 550.02,60.16 550.21,57.68 550.39,55.48 550.58,53.59 550.76,52.05 550.95,50.89 551.13,50.12 551.32,49.75 551.50,49.79 551.69,50.24 551.87,51.10 552.06,52.34 552.24,53.96 552.43,55.91 552.61,58.18 552.80,60.72 552.98,63.50 553.17,66.48 553.35,69.62 553.54,72.87 553.72,76.21 553.91,79.59 554.09,82.98 554.28,86.36 554.47,89.71 554.65,93.00 554.84,96.24 555.02,99.40 555.21,102.50 555.39,105.54 555.58,108.52 555.76,111.46 555.95,114.38 556.13,117.29 556.32,120.22 556.50,123.17 556.69,126.16 556.87,129.20 557.06,132.31 557.24,135.48 557.43,138.72 557.61,142.03 557.80,145.38 557.98,148.76 558.17,152.15 558.35,155.52 558.54,158.84 558.72,162.08 558.91,165.19 559.09,168.14 559.28,170.88 559.46,173.38 559.65,175.59 559.83,177.49 560.02,179.05 560.20,180.23 560.39,181.02 560.57,181.40 560.76,181.37 560.94,180.93 561.13,180.09 561.31,178.86 561.50,177.26 561.68,175.31 561.87,173.06 562.06,170.53 562.24,167.76 562.43,164.80 562.61,161.68 562.80,158.44 562.98,155.11 563.17,151.75 563.35,148.37 563.54,145.00 563.72,141.67 563.91,138.39 564.09,135.17 564.28,132.02 564.46,128.94 564.65,125.92 564.83,122.95 565.02,120.02 565.20,117.11 565.39,114.21 565.57,111.30 565.76,108.37 565.94,105.39 566.13,102.36 566.31,99.27 566.50,96.11 566.68,92.88 566.87,89.59 567.05,86.26 567.24,82.89 567.42,79.51 567.61,76.16 567.79,72.85 567.98,69.63 568.16,66.53 568.35,63.60 568.53,60.87 568.72,58.38 568.90,56.18 569.09,54.29 569.27,52.75 569.46,51.58 569.64,50.81 569.83,50.44 570.02,50.49 570.20,50.97 570.39,51.85 570.57,53.12 570.76,54.76 570.94,56.74 571.13,59.03 571.31,61.60 571.50,64.40 571.68,67.41 571.87,70.57 572.05,73.84 572.24,77.20 572.42,80.60 572.61,84.02 572.79,87.42 572.98,90.79 573.16,94.11 573.35,97.36 573.53,100.55 573.72,103.67 573.90,106.73 574.09,109.73 574.27,112.70 574.46,115.64 574.64,118.58 574.83,121.52 575.01,124.50 575.20,127.51 575.38,130.58 575.57,133.71 575.75,136.90 575.94,140.17 576.12,143.49 576.31,146.86 576.49,150.27 576.68,153.68 576.86,157.08 577.05,160.42 577.23,163.68 577.42,166.81 577.61,169.78 577.79,172.55 577.98,175.07 578.16,177.31 578.35,179.23 578.53,180.81 578.72,182.02 578.90,182.84 579.09,183.25 579.27,183.24 579.46,182.82 579.64,181.99 579.83,180.78 580.01,179.20 580.20,177.28 580.38,175.04 580.57,172.54 580.75,169.79 580.94,166.85 581.12,163.75 581.31,160.53 581.49,157.23 581.68,153.89 581.86,150.53 582.05,147.19 582.23,143.88 582.42,140.62 582.60,137.43 582.79,134.30 582.97,131.24 583.16,128.24 583.34,125.29 583.53,122.38 583.71,119.50 583.90,116.63 584.08,113.74 584.27,110.83 584.45,107.87 584.64,104.86 584.82,101.79 585.01,98.66 585.20,95.45 585.38,92.19 585.57,88.87 585.75,85.53 585.94,82.18 586.12,78.84 586.31,75.56 586.49,72.36 586.68,69.28 586.86,66.37 587.05,63.67 587.23,61.20 587.42,59.02 587.60,57.15 587.79,55.63 587.97,54.48 588.16,53.73 588.34,53.37 588.53,53.41 588.71,53.86 588.90,54.70 589.08,55.94 589.27,57.54 589.45,59.48 589.64,61.74 589.82,64.26 590.01,67.03 590.19,69.99 590.38,73.11 590.56,76.35 590.75,79.67 590.93,83.03 591.12,86.41 591.30,89.77 591.49,93.10 591.67,96.38 591.86,99.60 592.04,102.74 592.23,105.83 592.41,108.85 592.60,111.82 592.78,114.75 592.97,117.65 593.16,120.55 593.34,123.46 593.53,126.39 593.71,129.37 593.90,132.40 594.08,135.49 594.27,138.65 594.45,141.87 594.64,145.16 594.82,148.50 595.01,151.86 595.19,155.24 595.38,158.60 595.56,161.90 595.75,165.12 595.93,168.22 596.12,171.15 596.30,173.88 596.49,176.37 596.67,178.58 596.86,180.47 597.04,182.01 597.23,183.18 597.41,183.97 597.60,184.34 597.78,184.31 597.97,183.87 598.15,183.02 598.34,181.79 598.52,180.19 598.71,178.25 598.89,176.00 599.08,173.47 599.26,170.71 599.45,167.75 599.63,164.63 599.82,161.39 600.00,158.08 600.19,154.72 600.37,151.34 600.56,147.98 600.75,144.65 600.93,141.38 601.12,138.16 601.30,135.01 601.49,131.93 601.67,128.91 601.86,125.95 602.04,123.02 602.23,120.12 602.41,117.22 602.60,114.32 602.78,111.38 602.97,108.41 603.15,105.38 603.34,102.29 603.52,99.13 603.71,95.91 603.89,92.62 604.08,89.29 604.26,85.92 604.45,82.55 604.63,79.20 604.82,75.89 605.00,72.67 605.19,69.58 605.37,66.64 605.56,63.92 605.74,61.43 605.93,59.23 606.11,57.34 606.30,55.80 606.48,54.62 606.67,53.84 606.85,53.47 607.04,53.50 607.22,53.94 607.41,54.79 607.59,56.02 607.78,57.62 607.96,59.57 608.15,61.82 608.34,64.34 608.52,67.11 608.71,70.07 608.89,73.19 609.08,76.43 609.26,79.74 609.45,83.10 609.63,86.48 609.82,89.84 610.00,93.17 610.19,96.45 610.37,99.66 610.56,102.81 610.74,105.89 610.93,108.91 611.11,111.88 611.30,114.80 611.48,117.71 611.67,120.60 611.85,123.51 612.04,126.44 612.22,129.42 612.41,132.45 612.59,135.54 612.78,138.70 612.96,141.92 613.15,145.21 613.33,148.54 613.52,151.90 613.70,155.28 613.89,158.63 614.07,161.94 614.26,165.16 614.44,168.26 614.63,171.19 614.81,173.92 615.00,176.40 615.18,178.61 615.37,180.50 615.55,182.04 615.74,183.21 615.92,183.99 616.11,184.37 616.30,184.34 616.48,183.90 616.67,183.05 616.85,181.82 617.04,180.22 617.22,178.28 617.41,176.03 617.59,173.50 617.78,170.74 617.96,167.78 618.15,164.67 618.33,161.43 618.52,158.12 618.70,154.76 618.89,151.38 619.07,148.02 619.26,144.70 619.44,141.42 619.63,138.21 619.81,135.06 620.00,131.98 620.18,128.97 620.37,126.00 620.55,123.07 620.74,120.17 620.92,117.28 621.11,114.37 621.29,111.44 621.48,108.47 621.66,105.44 621.85,102.35 622.03,99.20 622.22,95.97 622.40,92.69 622.59,89.36 622.77,86.00 622.96,82.62 623.14,79.27 623.33,75.97 623.51,72.75 623.70,69.65 623.89,66.72 624.07,64.00 624.26,61.51 624.44,59.31 624.63,57.42 624.81,55.88 625.00,54.71 625.18,53.93 625.37,53.55 625.55,53.58 625.74,54.03 625.92,54.87 626.11,56.11 626.29,57.71 626.48,59.65 626.66,61.90 626.85,64.42 627.03,67.19 627.22,70.15 627.40,73.27 627.59,76.50 627.77,79.82 627.96,83.18 628.14,86.55 628.33,89.91 628.51,93.24 628.70,96.51 628.88,99.72 629.07,102.87 629.25,105.95 629.44,108.97 629.62,111.94 629.81,114.86 629.99,117.76 630.18,120.66 630.36,123.56 630.55,126.50 630.73,129.47 630.92,132.50 631.10,135.59 631.29,138.74 631.48,141.97 631.66,145.25 631.85,148.58 632.03,151.95 632.22,155.32 632.40,158.67 632.59,161.98 632.77,165.20 632.96,168.29 633.14,171.22 633.33,173.95 633.51,176.43 633.70,178.64 633.88,180.53 634.07,182.07 634.25,183.24 634.44,184.02 634.62,184.40 634.81,184.37 634.99,183.93 635.18,183.08 635.36,181.85 635.55,180.25 635.73,178.31 635.92,176.06 636.10,173.54 636.29,170.78 636.47,167.82 636.66,164.70 636.84,161.47 637.03,158.16 637.21,154.80 637.40,151.43 637.58,148.07 637.77,144.74 637.95,141.47 638.14,138.26 638.32,135.11 638.51,132.04 638.69,129.02 638.88,126.05 639.06,123.13 639.25,120.23 639.44,117.34 639.62,114.43 639.81,111.50 639.99,108.53 640.18,105.51 640.36,102.42 640.55,99.26 640.73,96.04 640.92,92.76 641.10,89.43 641.29,86.07 641.47,82.70 641.66,79.34 641.84,76.04 642.03,72.82 642.21,69.73 642.40,66.80 642.58,64.08 642.77,61.59 642.95,59.39 643.14,57.50 643.32,55.96 643.51,54.79 643.69,54.01 643.88,53.63 644.06,53.67 644.25,54.11 644.43,54.96 644.62,56.19 644.80,57.79 644.99,59.73 645.17,61.98 645.36,64.50 645.54,67.27 645.73,70.23 645.91,73.34 646.10,76.58 646.28,79.89 646.47,83.25 646.65,86.62 646.84,89.98 647.03,93.30 647.21,96.58 647.40,99.79 647.58,102.93 647.77,106.01 647.95,109.03 648.14,111.99 648.32,114.92 648.51,117.82 648.69,120.72 648.88,123.62 649.06,126.55 649.25,129.52 649.43,132.55 649.62,135.64 649.80,138.79 649.99,142.01 650.17,145.30 650.36,148.63 650.54,151.99 650.73,155.36 650.91,158.71 651.10,162.02 651.28,165.23 651.47,168.33 651.65,171.26 651.84,173.98 652.02,176.46 652.21,178.67 652.39,180.56 652.58,182.10 652.76,183.27 652.95,184.05 653.13,184.43 653.32,184.40 653.50,183.96 653.69,183.11 653.87,181.88 654.06,180.28 654.24,178.34 654.43,176.09 654.62,173.57 654.80,170.81 654.99,167.85 655.17,164.74 655.36,161.51 655.54,158.20 655.73,154.84 655.91,151.47 656.10,148.11 656.28,144.79 656.47,141.52 656.65,138.31 656.84,135.16 657.02,132.09 657.21,129.07 657.39,126.11 657.58,123.18 657.76,120.28 657.95,117.39 658.13,114.49 658.32,111.56 658.50,108.59 658.69,105.57 658.87,102.48 659.06,99.33 659.24,96.11 659.43,92.83 659.61,89.50 659.80,86.14 659.98,82.77 660.17,79.42 660.35,76.12 660.54,72.90 660.72,69.81 660.91,66.88 661.09,64.16 661.28,61.68 661.46,59.47 661.65,57.59 661.83,56.05 662.02,54.88 662.20,54.10 662.39,53.72 662.58,53.75 662.76,54.20 662.95,55.04 663.13,56.27 663.32,57.87 663.50,59.81 663.69,62.06 663.87,64.58 664.06,67.35 664.24,70.30 664.43,73.42 664.61,76.65 664.80,79.96 664.98,83.32 665.17,86.69 665.35,90.05 665.54,93.37 665.72,96.64 665.91,99.85 666.09,103.00 666.28,106.08 666.46,109.09 666.65,112.05 666.83,114.98 667.02,117.88 667.20,120.77 667.39,123.67 667.57,126.60 667.76,129.57 667.94,132.60 668.13,135.69 668.31,138.84 668.50,142.06 668.68,145.34 668.87,148.67 669.05,152.03 669.24,155.40 669.42,158.75 669.61,162.05 669.79,165.27 669.98,168.36 670.17,171.29 670.35,174.01 670.54,176.50 670.72,178.70 670.91,180.59 671.09,182.13 671.28,183.30 671.46,184.08 671.65,184.46 671.83,184.43 672.02,183.98 672.20,183.14 672.39,181.91 672.57,180.31 672.76,178.37 672.94,176.13 673.13,173.60 673.31,170.84 673.50,167.89 673.68,164.78 673.87,161.55 674.05,158.23 674.24,154.88 674.42,151.51 674.61,148.15 674.79,144.83 674.98,141.56 675.16,138.35 675.35,135.21 675.53,132.14 675.72,129.12 675.90,126.16 676.09,123.24 676.27,120.34 676.46,117.45 676.64,114.55 676.83,111.62 677.01,108.65 677.20,105.63 677.38,102.54 677.57,99.39 677.76,96.17 677.94,92.89 678.13,89.57 678.31,86.21 678.50,82.84 678.68,79.49 678.87,76.19 679.05,72.98 679.24,69.89 679.42,66.96 679.61,64.24 679.79,61.76 679.98,59.56 680.16,57.67 680.35,56.13 680.53,54.96 680.72,54.18 680.90,53.80 681.09,53.84 681.27,54.28 681.46,55.13"/>
<polyline fill="none" stroke="#D95319" stroke-width="1.3" stroke-linejoin="round" points="392.30,64.13 392.49,66.86 392.67,69.81 392.86,72.94 393.04,76.19 393.23,79.55 393.41,82.96 393.60,86.39 393.78,89.82 393.97,93.22 394.15,96.57 394.34,99.86 394.52,103.09 394.71,106.25 394.89,109.34 395.08,112.37 395.26,115.37 395.45,118.33 395.63,121.27 395.82,124.23 396.00,127.20 396.19,130.21 396.37,133.27 396.56,136.40 396.74,139.59 396.93,142.85 397.11,146.17 397.30,149.55 397.48,152.97 397.67,156.40 397.85,159.83 398.04,163.21 398.22,166.52 398.41,169.72 398.59,172.76 398.78,175.61 398.96,178.23 399.15,180.57 399.33,182.60 399.52,184.30 399.70,185.62 399.89,186.55 400.08,187.07 400.26,187.18 400.45,186.87 400.63,186.14 400.82,185.02 401.00,183.51 401.19,181.65 401.37,179.46 401.56,176.97 401.74,174.24 401.93,171.29 402.11,168.16 402.30,164.91 402.48,161.55 402.67,158.14 402.85,154.71 403.04,151.28 403.22,147.88 403.41,144.54 403.59,141.26 403.78,138.04 403.96,134.88 404.15,131.79 404.33,128.75 404.52,125.75 404.70,122.78 404.89,119.82 405.07,116.86 405.26,113.86 405.44,110.83 405.63,107.74 405.81,104.59 406.00,101.36 406.18,98.07 406.37,94.70 406.55,91.28 406.74,87.81 406.92,84.33 407.11,80.85 407.29,77.40 407.48,74.03 407.66,70.77 407.85,67.66 408.04,64.74 408.22,62.06 408.41,59.65 408.59,57.56 408.78,55.80 408.96,54.61 409.15,53.95 409.33,53.73 409.52,53.97 409.70,54.63 409.89,55.71 410.07,57.19 410.26,59.06 410.44,61.29 410.63,63.85 410.81,66.71 411.00,69.82 411.18,73.15 411.37,76.65 411.55,80.28 411.74,84.00 411.92,87.78 412.11,91.59 412.29,95.38 412.48,99.14 412.66,102.86 412.85,106.50 413.03,110.08 413.22,113.59 413.40,117.03 413.59,120.41 413.77,123.74 413.96,127.04 414.14,130.33 414.33,133.62 414.51,136.92 414.70,140.26 414.88,143.65 415.07,147.10 415.25,150.62 415.44,154.20 415.63,157.84 415.81,161.54 416.00,165.27 416.18,169.01 416.37,172.74 416.55,176.44 416.74,180.05 416.92,183.55 417.11,186.89 417.29,190.05 417.48,192.98 417.66,195.63 417.85,197.98 418.03,199.99 418.22,201.62 418.40,202.87 418.59,203.71 418.77,204.10 418.96,203.79 419.14,203.06 419.33,201.93 419.51,200.43 419.70,198.56 419.88,196.37 420.07,193.89 420.25,191.15 420.44,188.20 420.62,185.08 420.81,181.82 420.99,178.47 421.18,175.06 421.36,171.63 421.55,168.20 421.73,164.80 421.92,161.45 422.10,158.16 422.29,154.94 422.47,151.78 422.66,148.69 422.84,145.66 423.03,142.67 423.22,139.71 423.40,136.77 423.59,133.82 423.77,130.85 423.96,127.84 424.14,124.78 424.33,121.66 424.51,118.48 424.70,115.22 424.88,111.90 425.07,108.53 425.25,105.12 425.44,101.69 425.62,98.27 425.81,94.90 425.99,91.59 426.18,88.40 426.36,85.36 426.55,82.52 426.73,79.91 426.92,77.57 427.10,75.54 427.29,73.86 427.47,72.54 427.66,71.61 427.84,71.09 428.03,70.99 428.21,71.25 428.40,71.93 428.58,73.01 428.77,74.47 428.95,76.29 429.14,78.43 429.32,80.87 429.51,83.55 429.69,86.46 429.88,89.53 430.06,92.74 430.25,96.04 430.43,99.39 430.62,102.77 430.80,106.15 430.99,109.50 431.18,112.80 431.36,116.04 431.55,119.21 431.73,122.32 431.92,125.36 432.10,128.34 432.29,131.28 432.47,134.19 432.66,137.08 432.84,139.98 433.03,142.90 433.21,145.86 433.40,148.87 433.58,151.94 433.77,155.07 433.95,158.28 434.14,161.54 434.32,164.87 434.51,168.23 434.69,171.60 434.88,174.97 435.06,178.30 435.25,181.55 435.43,184.69 435.62,187.68 435.80,190.48 435.99,193.04 436.17,195.32 436.36,197.30 436.54,198.94 436.73,200.21 436.91,201.09 437.10,201.57 437.28,201.63 437.47,201.27 437.65,200.50 437.84,199.33 438.02,197.78 438.21,195.88 438.39,193.65 438.58,191.13 438.77,188.36 438.95,185.37 439.14,182.21 439.32,178.92 439.51,175.53 439.69,172.09 439.88,168.62 440.06,165.16 440.25,161.73 440.43,158.35 440.62,155.02 440.80,151.76 440.99,148.57 441.17,145.45 441.36,142.38 441.54,139.35 441.73,136.36 441.91,133.38 442.10,130.39 442.28,127.39 442.47,124.35 442.65,121.25 442.84,118.10 443.02,114.88 443.21,111.59 443.39,108.23 443.58,104.83 443.76,101.38 443.95,97.92 444.13,94.47 444.32,91.05 444.50,87.72 444.69,84.49 444.87,81.42 445.06,78.54 445.24,75.89 445.43,73.51 445.61,71.45 445.80,69.72 445.98,68.36 446.17,67.39 446.36,66.83 446.54,66.68 446.73,66.97 446.91,67.67 447.10,68.77 447.28,70.25 447.47,72.08 447.65,74.24 447.84,76.69 448.02,79.39 448.21,82.31 448.39,85.39 448.58,88.61 448.76,91.92 448.95,95.29 449.13,98.68 449.32,102.07 449.50,105.43 449.69,108.74 449.87,112.00 450.06,115.18 450.24,118.30 450.43,121.35 450.61,124.35 450.80,127.30 450.98,130.22 451.17,133.13 451.35,136.04 451.54,138.97 451.72,141.94 451.91,144.97 452.09,148.05 452.28,151.20 452.46,154.41 452.65,157.69 452.83,161.03 453.02,164.40 453.20,167.79 453.39,171.17 453.57,174.51 453.76,177.77 453.94,180.92 454.13,183.92 454.32,186.73 454.50,189.31 454.69,191.61 454.87,193.61 455.06,195.26 455.24,196.55 455.43,197.45 455.61,197.94 455.80,198.03 455.98,197.69 456.17,196.95 456.35,195.81 456.54,194.29 456.72,192.42 456.91,190.23 457.09,187.74 457.28,185.00 457.46,182.05 457.65,178.92 457.83,175.67 458.02,172.32 458.20,168.91 458.39,165.48 458.57,162.06 458.76,158.66 458.94,155.31 459.13,152.03 459.31,148.80 459.50,145.65 459.68,142.56 459.87,139.52 460.05,136.54 460.24,133.58 460.42,130.63 460.61,127.68 460.79,124.71 460.98,121.70 461.16,118.64 461.35,115.52 461.53,112.34 461.72,109.08 461.91,105.77 462.09,102.40 462.28,98.99 462.46,95.56 462.65,92.15 462.83,88.77 463.02,85.47 463.20,82.28 463.39,79.24 463.57,76.39 463.76,73.78 463.94,71.44 464.13,69.40 464.31,67.71 464.50,66.38 464.68,65.44 464.87,64.90 465.05,64.78 465.24,65.07 465.42,65.77 465.61,66.87 465.79,68.35 465.98,70.18 466.16,72.33 466.35,74.77 466.53,77.47 466.72,80.38 466.90,83.45 467.09,86.67 467.27,89.97 467.46,93.33 467.64,96.72 467.83,100.09 468.01,103.45 468.20,106.75 468.38,109.99 468.57,113.17 468.75,116.28 468.94,119.33 469.12,122.32 469.31,125.26 469.50,128.18 469.68,131.08 469.87,133.98 470.05,136.91 470.24,139.87 470.42,142.89 470.61,145.96 470.79,149.10 470.98,152.31 471.16,155.59 471.35,158.91 471.53,162.27 471.72,165.66 471.90,169.03 472.09,172.36 472.27,175.62 472.46,178.76 472.64,181.75 472.83,184.56 473.01,187.13 473.20,189.42 473.38,191.42 473.57,193.07 473.75,194.36 473.94,195.26 474.12,195.75 474.31,195.84 474.49,195.51 474.68,194.77 474.86,193.64 475.05,192.13 475.23,190.26 475.42,188.08 475.60,185.60 475.79,182.87 475.97,179.93 476.16,176.82 476.34,173.58 476.53,170.25 476.71,166.85 476.90,163.44 477.08,160.03 477.27,156.65 477.46,153.31 477.64,150.03 477.83,146.82 478.01,143.68 478.20,140.60 478.38,137.58 478.57,134.61 478.75,131.66 478.94,128.73 479.12,125.79 479.31,122.83 479.49,119.84 479.68,116.79 479.86,113.68 480.05,110.51 480.23,107.27 480.42,103.97 480.60,100.61 480.79,97.21 480.97,93.80 481.16,90.40 481.34,87.04 481.53,83.75 481.71,80.57 481.90,77.55 482.08,74.71 482.27,72.11 482.45,69.78 482.64,67.75 482.82,66.07 483.01,64.74 483.19,63.81 483.38,63.28 483.56,63.16 483.75,63.45 483.93,64.15 484.12,65.25 484.30,66.72 484.49,68.55 484.67,70.70 484.86,73.14 485.05,75.83 485.23,78.73 485.42,81.80 485.60,85.00 485.79,88.30 485.97,91.65 486.16,95.03 486.34,98.40 486.53,101.74 486.71,105.04 486.90,108.28 487.08,111.45 487.27,114.55 487.45,117.59 487.64,120.57 487.82,123.51 488.01,126.42 488.19,129.31 488.38,132.21 488.56,135.13 488.75,138.09 488.93,141.09 489.12,144.16 489.30,147.30 489.49,150.50 489.67,153.76 489.86,157.08 490.04,160.43 490.23,163.81 490.41,167.17 490.60,170.49 490.78,173.74 490.97,176.88 491.15,179.87 491.34,182.66 491.52,185.23 491.71,187.52 491.89,189.51 492.08,191.16 492.26,192.45 492.45,193.34 492.64,193.84 492.82,193.93 493.01,193.60 493.19,192.86 493.38,191.73 493.56,190.22 493.75,188.36 493.93,186.18 494.12,183.71 494.30,180.99 494.49,178.05 494.67,174.95 494.86,171.71 495.04,168.39 495.23,165.00 495.41,161.59 495.60,158.19 495.78,154.82 495.97,151.49 496.15,148.22 496.34,145.02 496.52,141.88 496.71,138.81 496.89,135.80 497.08,132.83 497.26,129.89 497.45,126.96 497.63,124.03 497.82,121.08 498.00,118.09 498.19,115.05 498.37,111.95 498.56,108.79 498.74,105.56 498.93,102.26 499.11,98.91 499.30,95.53 499.48,92.12 499.67,88.73 499.85,85.37 500.04,82.09 500.22,78.92 500.41,75.90 500.60,73.08 500.78,70.48 500.97,68.15 501.15,66.13 501.34,64.45 501.52,63.13 501.71,62.19 501.89,61.66 502.08,61.54 502.26,61.83 502.45,62.52 502.63,63.61 502.82,65.08 503.00,66.90 503.19,69.04 503.37,71.46 503.56,74.14 503.74,77.03 503.93,80.09 504.11,83.28 504.30,86.56 504.48,89.90 504.67,93.26 504.85,96.62 505.04,99.95 505.22,103.23 505.41,106.46 505.59,109.61 505.78,112.70 505.96,115.73 506.15,118.70 506.33,121.62 506.52,124.52 506.70,127.40 506.89,130.29 507.07,133.20 507.26,136.14 507.44,139.14 507.63,142.19 507.81,145.31 508.00,148.50 508.19,151.75 508.37,155.05 508.56,158.40 508.74,161.75 508.93,165.10 509.11,168.41 509.30,171.65 509.48,174.77 509.67,177.75 509.85,180.53 510.04,183.08 510.22,185.37 510.41,187.35 510.59,188.99 510.78,190.27 510.96,191.16 511.15,191.65 511.33,191.74 511.52,191.42 511.70,190.70 511.89,189.58 512.07,188.09 512.26,186.24 512.44,184.08 512.63,181.63 512.81,178.93 513.00,176.02 513.18,172.93 513.37,169.72 513.55,166.41 513.74,163.05 513.92,159.67 514.11,156.29 514.29,152.94 514.48,149.63 514.66,146.38 514.85,143.20 515.03,140.09 515.22,137.04 515.40,134.05 515.59,131.10 515.78,128.18 515.96,125.27 516.15,122.36 516.33,119.43 516.52,116.46 516.70,113.45 516.89,110.37 517.07,107.22 517.26,104.01 517.44,100.74 517.63,97.41 517.81,94.05 518.00,90.67 518.18,87.30 518.37,83.96 518.55,80.70 518.74,77.56 518.92,74.56 519.11,71.75 519.29,69.17 519.48,66.87 519.66,64.86 519.85,63.19 520.03,61.89 520.22,60.97 520.40,60.45 520.59,60.34 520.77,60.64 520.96,61.34 521.14,62.44 521.33,63.92 521.51,65.74 521.70,67.88 521.88,70.31 522.07,72.99 522.25,75.88 522.44,78.94 522.62,82.14 522.81,85.42 522.99,88.76 523.18,92.12 523.36,95.48 523.55,98.81 523.74,102.09 523.92,105.32 524.11,108.47 524.29,111.56 524.48,114.59 524.66,117.56 524.85,120.49 525.03,123.39 525.22,126.27 525.40,129.16 525.59,132.07 525.77,135.02 525.96,138.01 526.14,141.07 526.33,144.19 526.51,147.38 526.70,150.63 526.88,153.93 527.07,157.28 527.25,160.63 527.44,163.98 527.62,167.30 527.81,170.53 527.99,173.66 528.18,176.63 528.36,179.42 528.55,181.97 528.73,184.26 528.92,186.25 529.10,187.89 529.29,189.18 529.47,190.08 529.66,190.58 529.84,190.68 530.03,190.35 530.21,189.63 530.40,188.51 530.58,187.02 530.77,185.17 530.95,183.01 531.14,180.56 531.33,177.86 531.51,174.95 531.70,171.88 531.88,168.67 532.07,165.37 532.25,162.01 532.44,158.63 532.62,155.26 532.81,151.91 532.99,148.61 533.18,145.37 533.36,142.19 533.55,139.08 533.73,136.04 533.92,133.05 534.10,130.10 534.29,127.19 534.47,124.29 534.66,121.38 534.84,118.45 535.03,115.49 535.21,112.48 535.40,109.40 535.58,106.26 535.77,103.06 535.95,99.79 536.14,96.47 536.32,93.11 536.51,89.73 536.69,86.36 536.88,83.04 537.06,79.78 537.25,76.64 537.43,73.65 537.62,70.84 537.80,68.27 537.99,65.96 538.17,63.96 538.36,62.29 538.54,60.99 538.73,60.06 538.92,59.54 539.10,59.42 539.29,59.72 539.47,60.41 539.66,61.50 539.84,62.96 540.03,64.78 540.21,66.91 540.40,69.32 540.58,71.99 540.77,74.87 540.95,77.91 541.14,81.09 541.32,84.35 541.51,87.67 541.69,91.02 541.88,94.36 542.06,97.68 542.25,100.94 542.43,104.15 542.62,107.29 542.80,110.37 542.99,113.38 543.17,116.34 543.36,119.25 543.54,122.13 543.73,125.00 543.91,127.87 544.10,130.77 544.28,133.70 544.47,136.68 544.65,139.72 544.84,142.82 545.02,146.00 545.21,149.23 545.39,152.52 545.58,155.84 545.76,159.19 545.95,162.52 546.13,165.81 546.32,169.03 546.50,172.14 546.69,175.10 546.88,177.88 547.06,180.42 547.25,182.69 547.43,184.66 547.62,186.30 547.80,187.58 547.99,188.47 548.17,188.96 548.36,189.05 548.54,188.74 548.73,188.02 548.91,186.91 549.10,185.42 549.28,183.59 549.47,181.44 549.65,179.01 549.84,176.32 550.02,173.43 550.21,170.37 550.39,167.18 550.58,163.89 550.76,160.55 550.95,157.19 551.13,153.83 551.32,150.50 551.50,147.22 551.69,143.99 551.87,140.83 552.06,137.74 552.24,134.71 552.43,131.74 552.61,128.81 552.80,125.91 552.98,123.02 553.17,120.13 553.35,117.22 553.54,114.27 553.72,111.27 553.91,108.21 554.09,105.09 554.28,101.90 554.47,98.65 554.65,95.34 554.84,92.00 555.02,88.64 555.21,85.29 555.39,81.98 555.58,78.74 555.76,75.61 555.95,72.63 556.13,69.85 556.32,67.29 556.50,64.99 556.69,63.00 556.87,61.34 557.06,60.05 557.24,59.13 557.43,58.62 557.61,58.51 557.80,58.80 557.98,59.51 558.17,60.60 558.35,62.06 558.54,63.87 558.72,66.00 558.91,68.42 559.09,71.08 559.28,73.95 559.46,76.99 559.65,80.16 559.83,83.42 560.02,86.74 560.20,90.08 560.39,93.42 560.57,96.72 560.76,99.99 560.94,103.19 561.13,106.33 561.31,109.40 561.50,112.40 561.68,115.36 561.87,118.26 562.06,121.14 562.24,124.01 562.43,126.88 562.61,129.77 562.80,132.69 562.98,135.67 563.17,138.71 563.35,141.81 563.54,144.98 563.72,148.21 563.91,151.49 564.09,154.81 564.28,158.15 564.46,161.47 564.65,164.76 564.83,167.98 565.02,171.08 565.20,174.04 565.39,176.81 565.57,179.35 565.76,181.62 565.94,183.59 566.13,185.23 566.31,186.50 566.50,187.40 566.68,187.90 566.87,187.99 567.05,187.68 567.24,186.97 567.42,185.86 567.61,184.39 567.79,182.57 567.98,180.42 568.16,178.00 568.35,175.33 568.53,172.45 568.72,169.40 568.90,166.22 569.09,162.95 569.27,159.62 569.46,156.27 569.64,152.93 569.83,149.61 570.02,146.34 570.20,143.13 570.39,139.98 570.57,136.90 570.76,133.89 570.94,130.92 571.13,128.01 571.31,125.12 571.50,122.24 571.68,119.37 571.87,116.47 572.05,113.53 572.24,110.54 572.42,107.50 572.61,104.39 572.79,101.21 572.98,97.97 573.16,94.68 573.35,91.35 573.53,88.01 573.72,84.67 573.90,81.37 574.09,78.15 574.27,75.04 574.46,72.07 574.64,69.29 574.83,66.74 575.01,64.46 575.20,62.48 575.38,60.83 575.57,59.54 575.75,58.63 575.94,58.12 576.12,58.02 576.31,58.31 576.49,59.02 576.68,60.11 576.86,61.57 577.05,63.38 577.23,65.50 577.42,67.91 577.61,70.57 577.79,73.43 577.98,76.47 578.16,79.63 578.35,82.88 578.53,86.19 578.72,89.52 578.90,92.85 579.09,96.15 579.27,99.41 579.46,102.60 579.64,105.73 579.83,108.79 580.01,111.79 580.20,114.74 580.38,117.64 580.57,120.51 580.75,123.37 580.94,126.23 581.12,129.12 581.31,132.04 581.49,135.01 581.68,138.04 581.86,141.13 582.05,144.29 582.23,147.51 582.42,150.79 582.60,154.10 582.79,157.43 582.97,160.75 583.16,164.03 583.34,167.24 583.53,170.33 583.71,173.28 583.90,176.04 584.08,178.58 584.27,180.84 584.45,182.81 584.64,184.45 584.82,185.72 585.01,186.62 585.20,187.12 585.38,187.21 585.57,186.91 585.75,186.20 585.94,185.10 586.12,183.63 586.31,181.82 586.49,179.69 586.68,177.28 586.86,174.62 587.05,171.75 587.23,168.71 587.42,165.55 587.60,162.29 587.79,158.98 587.97,155.64 588.16,152.31 588.34,149.01 588.53,145.75 588.71,142.56 588.90,139.42 589.08,136.36 589.27,133.36 589.45,130.41 589.64,127.50 589.82,124.63 590.01,121.76 590.19,118.90 590.38,116.01 590.56,113.08 590.75,110.11 590.93,107.07 591.12,103.97 591.30,100.81 591.49,97.58 591.67,94.30 591.86,90.98 592.04,87.65 592.23,84.32 592.41,81.03 592.60,77.82 592.78,74.71 592.97,71.75 593.16,68.98 593.34,66.44 593.53,64.16 593.71,62.19 593.90,60.54 594.08,59.26 594.27,58.35 594.45,57.84 594.64,57.73 594.82,58.03 595.01,58.73 595.19,59.82 595.38,61.28 595.56,63.09 595.75,65.21 595.93,67.62 596.12,70.27 596.30,73.13 596.49,76.16 596.67,79.32 596.86,82.57 597.04,85.88 597.23,89.21 597.41,92.53 597.60,95.83 597.78,99.08 597.97,102.28 598.15,105.41 598.34,108.47 598.52,111.47 598.71,114.41 598.89,117.32 599.08,120.19 599.26,123.05 599.45,125.91 599.63,128.80 599.82,131.72 600.00,134.69 600.19,137.72 600.37,140.81 600.56,143.98 600.75,147.20 600.93,150.48 601.12,153.79 601.30,157.13 601.49,160.45 601.67,163.73 601.86,166.95 602.04,170.05 602.23,173.00 602.41,175.77 602.60,178.31 602.78,180.58 602.97,182.55 603.15,184.19 603.34,185.47 603.52,186.38 603.71,186.88 603.89,186.98 604.08,186.68 604.26,185.97 604.45,184.88 604.63,183.41 604.82,181.60 605.00,179.47 605.19,177.06 605.37,174.40 605.56,171.53 605.74,168.50 605.93,165.33 606.11,162.08 606.30,158.76 606.48,155.43 606.67,152.10 606.85,148.79 607.04,145.53 607.22,142.34 607.41,139.20 607.59,136.14 607.78,133.13 607.96,130.18 608.15,127.28 608.34,124.40 608.52,121.54 608.71,118.67 608.89,115.79 609.08,112.86 609.26,109.89 609.45,106.85 609.63,103.75 609.82,100.59 610.00,97.36 610.19,94.08 610.37,90.76 610.56,87.42 610.74,84.09 610.93,80.81 611.11,77.59 611.30,74.48 611.48,71.53 611.67,68.76 611.85,66.21 612.04,63.94 612.22,61.96 612.41,60.32 612.59,59.03 612.78,58.13 612.96,57.62 613.15,57.52 613.33,57.82 613.52,58.52 613.70,59.62 613.89,61.08 614.07,62.89 614.26,65.02 614.44,67.43 614.63,70.08 614.81,72.95 615.00,75.99 615.18,79.15 615.37,82.41 615.55,85.72 615.74,89.05 615.92,92.38 616.11,95.69 616.30,98.94 616.48,102.14 616.67,105.28 616.85,108.35 617.04,111.35 617.22,114.30 617.41,117.21 617.59,120.08 617.78,122.95 617.96,125.82 618.15,128.71 618.33,131.63 618.52,134.61 618.70,137.64 618.89,140.74 619.07,143.91 619.26,147.14 619.44,150.42 619.63,153.75 619.81,157.08 620.00,160.41 620.18,163.70 620.37,166.92 620.55,170.03 620.74,172.98 620.92,175.76 621.11,178.30 621.29,180.58 621.48,182.55 621.66,184.20 621.85,185.48 622.03,186.39 622.22,186.90 622.40,187.00 622.59,186.70 622.77,185.99 622.96,184.90 623.14,183.44 623.33,181.63 623.51,179.50 623.70,177.09 623.89,174.43 624.07,171.56 624.26,168.52 624.44,165.36 624.63,162.10 624.81,158.79 625.00,155.45 625.18,152.12 625.37,148.81 625.55,145.55 625.74,142.35 625.92,139.22 626.11,136.15 626.29,133.14 626.48,130.19 626.66,127.28 626.85,124.41 627.03,121.54 627.22,118.67 627.40,115.78 627.59,112.85 627.77,109.87 627.96,106.84 628.14,103.74 628.33,100.57 628.51,97.34 628.70,94.05 628.88,90.73 629.07,87.39 629.25,84.06 629.44,80.77 629.62,77.55 629.81,74.44 629.99,71.48 630.18,68.71 630.36,66.17 630.55,63.89 630.73,61.91 630.92,60.26 631.10,58.98 631.29,58.07 631.48,57.56 631.66,57.46 631.85,57.76 632.03,58.47 632.22,59.56 632.40,61.03 632.59,62.84 632.77,64.97 632.96,67.38 633.14,70.04 633.33,72.91 633.51,75.95 633.70,79.11 633.88,82.37 634.07,85.69 634.25,89.02 634.44,92.36 634.62,95.66 634.81,98.92 634.99,102.13 635.18,105.26 635.36,108.33 635.55,111.34 635.73,114.29 635.92,117.20 636.10,120.08 636.29,122.95 636.47,125.82 636.66,128.71 636.84,131.64 637.03,134.62 637.21,137.66 637.40,140.76 637.58,143.93 637.77,147.16 637.95,150.45 638.14,153.77 638.32,157.11 638.51,160.44 638.69,163.74 638.88,166.96 639.06,170.07 639.25,173.03 639.44,175.80 639.62,178.35 639.81,180.63 639.99,182.61 640.18,184.25 640.36,185.54 640.55,186.44 640.73,186.95 640.92,187.06 641.10,186.75 641.29,186.05 641.47,184.96 641.66,183.49 641.84,181.68 642.03,179.55 642.21,177.13 642.40,174.47 642.58,171.60 642.77,168.56 642.95,165.39 643.14,162.13 643.32,158.82 643.51,155.48 643.69,152.14 643.88,148.84 644.06,145.57 644.25,142.37 644.43,139.23 644.62,136.16 644.80,133.15 644.99,130.20 645.17,127.29 645.36,124.41 645.54,121.54 645.73,118.67 645.91,115.77 646.10,112.84 646.28,109.86 646.47,106.82 646.65,103.72 646.84,100.55 647.03,97.31 647.21,94.03 647.40,90.70 647.58,87.36 647.77,84.03 647.95,80.73 648.14,77.51 648.32,74.40 648.51,71.44 648.69,68.66 648.88,66.12 649.06,63.84 649.25,61.86 649.43,60.21 649.62,58.92 649.80,58.02 649.99,57.51 650.17,57.40 650.36,57.71 650.54,58.41 650.73,59.51 650.91,60.97 651.10,62.78 651.28,64.92 651.47,67.33 651.65,69.99 651.84,72.86 652.02,75.91 652.21,79.08 652.39,82.34 652.58,85.65 652.76,89.00 652.95,92.33 653.13,95.64 653.32,98.90 653.50,102.11 653.69,105.25 653.87,108.32 654.06,111.33 654.24,114.29 654.43,117.20 654.62,120.08 654.80,122.95 654.99,125.82 655.17,128.72 655.36,131.65 655.54,134.63 655.73,137.67 655.91,140.78 656.10,143.95 656.28,147.19 656.47,150.47 656.65,153.80 656.84,157.14 657.02,160.48 657.21,163.77 657.39,167.00 657.58,170.11 657.76,173.07 657.95,175.85 658.13,178.40 658.32,180.68 658.50,182.66 658.69,184.30 658.87,185.59 659.06,186.50 659.24,187.01 659.43,187.11 659.61,186.81 659.80,186.10 659.98,185.01 660.17,183.54 660.35,181.73 660.54,179.60 660.72,177.18 660.91,174.52 661.09,171.65 661.28,168.60 661.46,165.43 661.65,162.17 661.83,158.85 662.02,155.51 662.20,152.17 662.39,148.86 662.58,145.60 662.76,142.39 662.95,139.25 663.13,136.17 663.32,133.16 663.50,130.21 663.69,127.29 663.87,124.41 664.06,121.54 664.24,118.66 664.43,115.77 664.61,112.84 664.80,109.85 664.98,106.81 665.17,103.70 665.35,100.53 665.54,97.29 665.72,94.00 665.91,90.67 666.09,87.33 666.28,83.99 666.46,80.70 666.65,77.47 666.83,74.36 667.02,71.39 667.20,68.62 667.39,66.07 667.57,63.79 667.76,61.80 667.94,60.16 668.13,58.87 668.31,57.96 668.50,57.45 668.68,57.35 668.87,57.65 669.05,58.36 669.24,59.45 669.42,60.92 669.61,62.73 669.79,64.87 669.98,67.28 670.17,69.95 670.35,72.82 670.54,75.86 670.72,79.04 670.91,82.30 671.09,85.62 671.28,88.97 671.46,92.31 671.65,95.62 671.83,98.88 672.02,102.09 672.20,105.23 672.39,108.31 672.57,111.32 672.76,114.28 672.94,117.19 673.13,120.08 673.31,122.95 673.50,125.83 673.68,128.72 673.87,131.66 674.05,134.64 674.24,137.68 674.42,140.79 674.61,143.97 674.79,147.21 674.98,150.50 675.16,153.83 675.35,157.17 675.53,160.51 675.72,163.81 675.90,167.04 676.09,170.15 676.27,173.12 676.46,175.90 676.64,178.44 676.83,180.73 677.01,182.71 677.20,184.36 677.38,185.65 677.57,186.55 677.76,187.06 677.94,187.17 678.13,186.87 678.31,186.16 678.50,185.06 678.68,183.60 678.87,181.78 679.05,179.65 679.24,177.23 679.42,174.56 679.61,171.69 679.79,168.64 679.98,165.47 680.16,162.20 680.35,158.88 680.53,155.54 680.72,152.20 680.90,148.88 681.09,145.61 681.27,142.40 681.46,139.25"/>
<polyline fill="none" stroke="#EDB120" stroke-width="1.3" stroke-linejoin="round" points="392.30,123.73 392.49,120.81 392.67,117.88 392.86,114.94 393.04,111.96 393.23,108.94 393.41,105.86 393.60,102.72 393.78,99.51 393.97,96.23 394.15,92.89 394.34,89.52 394.52,86.11 394.71,82.71 394.89,79.33 395.08,76.02 395.26,72.81 395.45,69.73 395.63,66.83 395.82,64.16 396.00,61.74 396.19,59.62 396.37,57.82 396.56,56.39 396.74,55.33 396.93,54.68 397.11,54.44 397.30,54.61 397.48,55.19 397.67,56.18 397.85,57.55 398.04,59.29 398.22,61.36 398.41,63.73 398.59,66.36 398.78,69.23 398.96,72.27 399.15,75.46 399.33,78.76 399.52,82.13 399.70,85.53 399.89,88.94 400.08,92.32 400.26,95.66 400.45,98.95 400.63,102.17 400.82,105.33 401.00,108.42 401.19,111.44 401.37,114.42 401.56,117.37 401.74,120.29 401.93,123.22 402.11,126.16 402.30,129.13 402.48,132.15 402.67,135.22 402.85,138.37 403.04,141.58 403.22,144.85 403.41,148.18 403.59,151.56 403.78,154.96 403.96,158.36 404.15,161.73 404.33,165.04 404.52,168.25 404.70,171.32 404.89,174.21 405.07,176.89 405.26,179.30 405.44,181.42 405.63,183.21 405.81,184.65 406.00,185.70 406.18,186.35 406.37,186.59 406.55,186.42 406.74,185.83 406.92,184.85 407.11,183.48 407.29,181.74 407.48,179.67 407.66,177.31 407.85,174.67 408.04,171.81 408.22,168.77 408.41,165.58 408.59,162.29 408.78,158.92 408.96,155.53 409.15,152.14 409.33,148.77 409.52,145.45 409.70,142.18 409.89,138.97 410.07,135.83 410.26,132.76 410.44,129.75 410.63,126.78 410.81,123.86 411.00,120.95 411.18,118.04 411.37,115.11 411.55,112.16 411.74,109.16 411.92,106.10 412.11,102.97 412.29,99.78 412.48,96.52 412.66,93.21 412.85,89.85 413.03,86.47 413.22,83.08 413.40,79.73 413.59,76.44 413.77,73.24 413.96,70.19 414.14,67.31 414.33,64.66 414.51,62.26 414.70,60.15 414.88,58.37 415.07,56.96 415.25,55.92 415.44,55.28 415.63,55.05 415.81,55.23 416.00,55.83 416.18,56.83 416.37,58.21 416.55,59.95 416.74,62.03 416.92,64.41 417.11,67.05 417.29,69.91 417.48,72.97 417.66,76.16 417.85,79.46 418.03,82.83 418.22,86.24 418.40,89.65 418.59,93.03 418.77,96.38 418.96,99.67 419.14,102.90 419.33,106.05 419.51,109.15 419.70,112.18 419.88,115.16 420.07,118.11 420.25,121.04 420.44,123.97 420.62,126.91 420.81,129.89 420.99,132.91 421.18,135.99 421.36,139.13 421.55,142.34 421.73,145.62 421.92,148.95 422.10,152.31 422.29,155.70 422.47,159.09 422.66,162.45 422.84,165.75 423.03,168.95 423.22,172.01 423.40,174.89 423.59,177.56 423.77,179.97 423.96,182.08 424.14,183.86 424.33,185.29 424.51,186.34 424.70,186.99 424.88,187.23 425.07,187.06 425.25,186.47 425.44,185.49 425.62,184.12 425.81,182.39 425.99,180.33 426.18,177.97 426.36,175.34 426.55,172.49 426.73,169.45 426.92,166.27 427.10,162.99 427.29,159.63 427.47,156.25 427.66,152.85 427.84,149.48 428.03,146.15 428.21,142.88 428.40,139.67 428.58,136.53 428.77,133.45 428.95,130.44 429.14,127.47 429.32,124.54 429.51,121.62 429.69,118.71 429.88,115.78 430.06,112.82 430.25,109.82 430.43,106.75 430.62,103.63 430.80,100.43 430.99,97.17 431.18,93.85 431.36,90.49 431.55,87.11 431.73,83.72 431.92,80.36 432.10,77.07 432.29,73.87 432.47,70.81 432.66,67.93 432.84,65.27 433.03,62.87 433.21,60.75 433.40,58.97 433.58,57.54 433.77,56.50 433.95,55.85 434.14,55.61 434.32,55.78 434.51,56.36 434.69,57.34 434.88,58.70 435.06,60.43 435.25,62.49 435.43,64.84 435.62,67.46 435.80,70.31 435.99,73.34 436.17,76.51 436.36,79.79 436.54,83.14 436.73,86.52 436.91,89.91 437.10,93.27 437.28,96.60 437.47,99.86 437.65,103.07 437.84,106.20 438.02,109.27 438.21,112.28 438.39,115.24 438.58,118.17 438.77,121.08 438.95,123.98 439.14,126.91 439.32,129.86 439.51,132.86 439.69,135.92 439.88,139.04 440.06,142.23 440.25,145.48 440.43,148.79 440.62,152.15 440.80,155.53 440.99,158.91 441.17,162.26 441.36,165.55 441.54,168.74 441.73,171.79 441.91,174.66 442.10,177.32 442.28,179.72 442.47,181.83 442.65,183.61 442.84,185.03 443.02,186.07 443.21,186.72 443.39,186.96 443.58,186.79 443.76,186.21 443.95,185.23 444.13,183.86 444.32,182.14 444.50,180.08 444.69,177.73 444.87,175.11 445.06,172.27 445.24,169.24 445.43,166.07 445.61,162.79 445.80,159.45 445.98,156.07 446.17,152.69 446.36,149.33 446.54,146.01 446.73,142.74 446.91,139.54 447.10,136.41 447.28,133.35 447.47,130.34 447.65,127.38 447.84,124.46 448.02,121.55 448.21,118.65 448.39,115.73 448.58,112.78 448.76,109.78 448.95,106.73 449.13,103.61 449.32,100.42 449.50,97.17 449.69,93.87 449.87,90.51 450.06,87.14 450.24,83.76 450.43,80.42 450.61,77.13 450.80,73.94 450.98,70.89 451.17,68.02 451.35,65.37 451.54,62.97 451.72,60.87 451.91,59.09 452.09,57.66 452.28,56.62 452.46,55.97 452.65,55.73 452.83,55.90 453.02,56.48 453.20,57.46 453.39,58.82 453.57,60.54 453.76,62.59 453.94,64.94 454.13,67.56 454.32,70.39 454.50,73.41 454.69,76.58 454.87,79.85 455.06,83.18 455.24,86.56 455.43,89.93 455.61,93.29 455.80,96.60 455.98,99.86 456.17,103.05 456.35,106.18 456.54,109.24 456.72,112.24 456.91,115.19 457.09,118.11 457.28,121.01 457.46,123.91 457.65,126.82 457.83,129.76 458.02,132.75 458.20,135.80 458.39,138.91 458.57,142.09 458.76,145.34 458.94,148.64 459.13,151.98 459.31,155.35 459.50,158.72 459.68,162.06 459.87,165.34 460.05,168.52 460.24,171.57 460.42,174.43 460.61,177.08 460.79,179.47 460.98,181.57 461.16,183.35 461.35,184.77 461.53,185.81 461.72,186.45 461.91,186.69 462.09,186.52 462.28,185.94 462.46,184.96 462.65,183.60 462.83,181.88 463.02,179.83 463.20,177.49 463.39,174.88 463.57,172.04 463.76,169.02 463.94,165.86 464.13,162.60 464.31,159.26 464.50,155.90 464.68,152.52 464.87,149.17 465.05,145.86 465.24,142.61 465.42,139.42 465.61,136.30 465.79,133.24 465.98,130.24 466.16,127.29 466.35,124.38 466.53,121.48 466.72,118.59 466.90,115.68 467.09,112.73 467.27,109.75 467.46,106.70 467.64,103.59 467.83,100.42 468.01,97.18 468.20,93.88 468.38,90.54 468.57,87.17 468.75,83.80 468.94,80.47 469.12,77.19 469.31,74.02 469.50,70.98 469.68,68.11 469.87,65.47 470.05,63.08 470.24,60.98 470.42,59.21 470.61,57.79 470.79,56.75 470.98,56.10 471.16,55.86 471.35,56.03 471.53,56.61 471.72,57.58 471.90,58.94 472.09,60.65 472.27,62.70 472.46,65.04 472.64,67.65 472.83,70.48 473.01,73.49 473.20,76.64 473.38,79.90 473.57,83.23 473.75,86.59 473.94,89.96 474.12,93.30 474.31,96.60 474.49,99.85 474.68,103.03 474.86,106.15 475.05,109.20 475.23,112.19 475.42,115.14 475.60,118.05 475.79,120.94 475.97,123.83 476.16,126.73 476.34,129.67 476.53,132.65 476.71,135.69 476.90,138.79 477.08,141.96 477.27,145.19 477.46,148.49 477.64,151.82 477.83,155.18 478.01,158.54 478.20,161.87 478.38,165.14 478.57,168.31 478.75,171.34 478.94,174.20 479.12,176.84 479.31,179.23 479.49,181.32 479.68,183.09 479.86,184.50 480.05,185.54 480.23,186.19 480.42,186.42 480.60,186.25 480.79,185.67 480.97,184.70 481.16,183.34 481.34,181.63 481.53,179.59 481.71,177.25 481.90,174.64 482.08,171.82 482.27,168.81 482.45,165.66 482.64,162.40 482.82,159.08 483.01,155.72 483.19,152.36 483.38,149.02 483.56,145.72 483.75,142.47 483.93,139.29 484.12,136.18 484.30,133.13 484.49,130.14 484.67,127.20 484.86,124.30 485.05,121.41 485.23,118.52 485.42,115.62 485.60,112.69 485.79,109.71 485.97,106.67 486.16,103.58 486.34,100.41 486.53,97.18 486.71,93.89 486.90,90.56 487.08,87.20 487.27,83.85 487.45,80.52 487.64,77.26 487.82,74.09 488.01,71.06 488.19,68.20 488.38,65.56 488.56,63.18 488.75,61.09 488.93,59.32 489.12,57.91 489.30,56.87 489.49,56.23 489.67,55.99 489.86,56.16 490.04,56.73 490.23,57.70 490.41,59.06 490.60,60.77 490.78,62.81 490.97,65.14 491.15,67.74 491.34,70.56 491.52,73.56 491.71,76.71 491.89,79.96 492.08,83.27 492.26,86.62 492.45,89.98 492.64,93.31 492.82,96.61 493.01,99.84 493.19,103.02 493.38,106.13 493.56,109.17 493.75,112.15 493.93,115.09 494.12,117.99 494.30,120.87 494.49,123.75 494.67,126.64 494.86,129.57 495.04,132.54 495.23,135.57 495.41,138.67 495.60,141.83 495.78,145.05 495.97,148.33 496.15,151.66 496.34,155.01 496.52,158.35 496.71,161.67 496.89,164.93 497.08,168.09 497.26,171.12 497.45,173.97 497.63,176.60 497.82,178.98 498.00,181.06 498.19,182.83 498.37,184.24 498.56,185.27 498.74,185.91 498.93,186.15 499.11,185.98 499.30,185.40 499.48,184.43 499.67,183.08 499.85,181.37 500.04,179.33 500.22,176.99 500.41,174.40 500.60,171.58 500.78,168.58 500.97,165.44 501.15,162.19 501.34,158.88 501.52,155.53 501.71,152.18 501.89,148.85 502.08,145.56 502.26,142.32 502.45,139.15 502.63,136.05 502.82,133.01 503.00,130.03 503.19,127.10 503.37,124.20 503.56,121.32 503.74,118.44 503.93,115.55 504.11,112.62 504.30,109.65 504.48,106.63 504.67,103.54 504.85,100.38 505.04,97.16 505.22,93.88 505.41,90.56 505.59,87.21 505.78,83.87 505.96,80.55 506.15,77.29 506.33,74.14 506.52,71.11 506.70,68.27 506.89,65.64 507.07,63.26 507.26,61.18 507.44,59.41 507.63,58.00 507.81,56.97 508.00,56.32 508.19,56.09 508.37,56.25 508.56,56.83 508.74,57.80 508.93,59.15 509.11,60.85 509.30,62.88 509.48,65.21 509.67,67.80 509.85,70.61 510.04,73.60 510.22,76.74 510.41,79.98 510.59,83.28 510.78,86.62 510.96,89.97 511.15,93.29 511.33,96.58 511.52,99.80 511.70,102.97 511.89,106.06 512.07,109.10 512.26,112.07 512.44,115.00 512.63,117.89 512.81,120.76 513.00,123.63 513.18,126.52 513.37,129.43 513.55,132.40 513.74,135.42 513.92,138.50 514.11,141.65 514.29,144.87 514.48,148.14 514.66,151.45 514.85,154.79 515.03,158.13 515.22,161.44 515.40,164.69 515.59,167.84 515.78,170.85 515.96,173.69 516.15,176.32 516.33,178.69 516.52,180.77 516.70,182.53 516.89,183.93 517.07,184.96 517.26,185.60 517.44,185.84 517.63,185.67 517.81,185.09 518.00,184.12 518.18,182.77 518.37,181.07 518.55,179.04 518.74,176.71 518.92,174.12 519.11,171.32 519.29,168.33 519.48,165.19 519.66,161.96 519.85,158.65 520.03,155.31 520.22,151.97 520.40,148.65 520.59,145.37 520.77,142.15 520.96,138.98 521.14,135.89 521.33,132.86 521.51,129.89 521.70,126.97 521.88,124.08 522.07,121.21 522.25,118.34 522.44,115.45 522.62,112.54 522.81,109.58 522.99,106.56 523.18,103.48 523.36,100.33 523.55,97.12 523.74,93.85 523.92,90.54 524.11,87.20 524.29,83.87 524.48,80.56 524.66,77.31 524.85,74.17 525.03,71.15 525.22,68.32 525.40,65.69 525.59,63.32 525.77,61.24 525.96,59.49 526.14,58.08 526.33,57.05 526.51,56.41 526.70,56.17 526.88,56.34 527.07,56.91 527.25,57.88 527.44,59.22 527.62,60.92 527.81,62.95 527.99,65.27 528.18,67.85 528.36,70.65 528.55,73.63 528.73,76.76 528.92,79.99 529.10,83.29 529.29,86.62 529.47,89.95 529.66,93.26 529.84,96.54 530.03,99.75 530.21,102.91 530.40,106.00 530.58,109.02 530.77,111.98 530.95,114.90 531.14,117.78 531.33,120.65 531.51,123.51 531.70,126.39 531.88,129.30 532.07,132.25 532.25,135.26 532.44,138.34 532.62,141.48 532.81,144.68 532.99,147.94 533.18,151.25 533.36,154.57 533.55,157.90 533.73,161.20 533.92,164.44 534.10,167.58 534.29,170.59 534.47,173.42 534.66,176.03 534.84,178.40 535.03,180.47 535.21,182.23 535.40,183.63 535.58,184.66 535.77,185.29 535.95,185.53 536.14,185.36 536.32,184.78 536.51,183.82 536.69,182.47 536.88,180.77 537.06,178.75 537.25,176.43 537.43,173.85 537.62,171.05 537.80,168.07 537.99,164.94 538.17,161.72 538.36,158.42 538.54,155.10 538.73,151.77 538.92,148.45 539.10,145.18 539.29,141.97 539.47,138.82 539.66,135.73 539.84,132.71 540.03,129.75 540.21,126.83 540.40,123.95 540.58,121.09 540.77,118.23 540.95,115.36 541.14,112.45 541.32,109.50 541.51,106.49 541.69,103.42 541.88,100.28 542.06,97.08 542.25,93.82 542.43,90.52 542.62,87.19 542.80,83.87 542.99,80.57 543.17,77.33 543.36,74.20 543.54,71.19 543.73,68.36 543.91,65.75 544.10,63.39 544.28,61.31 544.47,59.56 544.65,58.16 544.84,57.13 545.02,56.49 545.21,56.25 545.39,56.42 545.58,56.99 545.76,57.96 545.95,59.30 546.13,60.99 546.32,63.01 546.50,65.32 546.69,67.90 546.88,70.69 547.06,73.67 547.25,76.78 547.43,80.00 547.62,83.29 547.80,86.61 547.99,89.93 548.17,93.24 548.36,96.50 548.54,99.71 548.73,102.85 548.91,105.93 549.10,108.94 549.28,111.90 549.47,114.81 549.65,117.68 549.84,120.54 550.02,123.39 550.21,126.26 550.39,129.16 550.58,132.10 550.76,135.10 550.95,138.17 551.13,141.30 551.32,144.49 551.50,147.75 551.69,151.04 551.87,154.36 552.06,157.68 552.24,160.97 552.43,164.19 552.61,167.33 552.80,170.32 552.98,173.15 553.17,175.75 553.35,178.11 553.54,180.18 553.72,181.92 553.91,183.32 554.09,184.35 554.28,184.98 554.47,185.22 554.65,185.05 554.84,184.48 555.02,183.51 555.21,182.17 555.39,180.48 555.58,178.46 555.76,176.15 555.95,173.57 556.13,170.78 556.32,167.81 556.50,164.70 556.69,161.48 556.87,158.20 557.06,154.88 557.24,151.56 557.43,148.26 557.61,145.00 557.80,141.79 557.98,138.65 558.17,135.57 558.35,132.56 558.54,129.61 558.72,126.70 558.91,123.83 559.09,120.98 559.28,118.13 559.46,115.26 559.65,112.36 559.83,109.42 560.02,106.42 560.20,103.36 560.39,100.23 560.57,97.04 560.76,93.79 560.94,90.50 561.13,87.18 561.31,83.87 561.50,80.58 561.68,77.35 561.87,74.23 562.06,71.23 562.24,68.41 562.43,65.80 562.61,63.45 562.80,61.38 562.98,59.64 563.17,58.24 563.35,57.21 563.54,56.58 563.72,56.34 563.91,56.51 564.09,57.08 564.28,58.04 564.46,59.37 564.65,61.06 564.83,63.07 565.02,65.38 565.20,67.95 565.39,70.73 565.57,73.70 565.76,76.80 565.94,80.01 566.13,83.29 566.31,86.60 566.50,89.91 566.68,93.21 566.87,96.46 567.05,99.66 567.24,102.79 567.42,105.86 567.61,108.87 567.79,111.81 567.98,114.71 568.16,117.58 568.35,120.42 568.53,123.27 568.72,126.13 568.90,129.02 569.09,131.95 569.27,134.95 569.46,138.00 569.64,141.12 569.83,144.31 570.02,147.55 570.20,150.83 570.39,154.14 570.57,157.45 570.76,160.73 570.94,163.95 571.13,167.07 571.31,170.06 571.50,172.87 571.68,175.47 571.87,177.82 572.05,179.88 572.24,181.62 572.42,183.02 572.61,184.04 572.79,184.67 572.98,184.91 573.16,184.74 573.35,184.17 573.53,183.21 573.72,181.87 573.90,180.18 574.09,178.17 574.27,175.86 574.46,173.30 574.64,170.52 574.83,167.55 575.01,164.45 575.20,161.24 575.38,157.97 575.57,154.66 575.75,151.35 575.94,148.06 576.12,144.81 576.31,141.61 576.49,138.48 576.68,135.41 576.86,132.41 577.05,129.47 577.23,126.57 577.42,123.71 577.61,120.86 577.79,118.02 577.98,115.16 578.16,112.28 578.35,109.34 578.53,106.35 578.72,103.30 578.90,100.18 579.09,97.00 579.27,93.76 579.46,90.48 579.64,87.17 579.83,83.87 580.01,80.59 580.20,77.37 580.38,74.26 580.57,71.27 580.75,68.46 580.94,65.86 581.12,63.51 581.31,61.45 581.49,59.71 581.68,58.32 581.86,57.29 582.05,56.66 582.23,56.42 582.42,56.59 582.60,57.16 582.79,58.12 582.97,59.45 583.16,61.13 583.34,63.14 583.53,65.44 583.71,67.99 583.90,70.77 584.08,73.73 584.27,76.83 584.45,80.03 584.64,83.29 584.82,86.59 585.01,89.89 585.20,93.18 585.38,96.42 585.57,99.61 585.75,102.74 585.94,105.80 586.12,108.79 586.31,111.73 586.49,114.62 586.68,117.47 586.86,120.31 587.05,123.15 587.23,126.00 587.42,128.88 587.60,131.81 587.79,134.79 587.97,137.84 588.16,140.95 588.34,144.12 588.53,147.36 588.71,150.63 588.90,153.93 589.08,157.23 589.27,160.51 589.45,163.72 589.64,166.84 589.82,169.82 590.01,172.63 590.19,175.23 590.38,177.57 590.56,179.63 590.75,181.37 590.93,182.77 591.12,183.79 591.30,184.43 591.49,184.67 591.67,184.50 591.86,183.94 592.04,182.98 592.23,181.65 592.41,179.97 592.60,177.97 592.78,175.67 592.97,173.12 593.16,170.34 593.34,167.39 593.53,164.29 593.71,161.09 593.90,157.83 594.08,154.53 594.27,151.23 594.45,147.94 594.64,144.70 594.82,141.51 595.01,138.38 595.19,135.32 595.38,132.33 595.56,129.39 595.75,126.50 595.93,123.64 596.12,120.80 596.30,117.96 596.49,115.11 596.67,112.22 596.86,109.29 597.04,106.30 597.23,103.25 597.41,100.14 597.60,96.96 597.78,93.72 597.97,90.44 598.15,87.14 598.34,83.83 598.52,80.56 598.71,77.34 598.89,74.22 599.08,71.24 599.26,68.42 599.45,65.83 599.63,63.48 599.82,61.41 600.00,59.67 600.19,58.28 600.37,57.25 600.56,56.62 600.75,56.38 600.93,56.54 601.12,57.11 601.30,58.06 601.49,59.39 601.67,61.07 601.86,63.08 602.04,65.38 602.23,67.94 602.41,70.71 602.60,73.67 602.78,76.77 602.97,79.97 603.15,83.24 603.34,86.54 603.52,89.85 603.71,93.13 603.89,96.38 604.08,99.57 604.26,102.70 604.45,105.76 604.63,108.76 604.82,111.70 605.00,114.60 605.19,117.46 605.37,120.30 605.56,123.14 605.74,126.00 605.93,128.89 606.11,131.82 606.30,134.81 606.48,137.86 606.67,140.98 606.85,144.16 607.04,147.40 607.22,150.69 607.41,153.99 607.59,157.30 607.78,160.58 607.96,163.80 608.15,166.92 608.34,169.91 608.52,172.72 608.71,175.32 608.89,177.67 609.08,179.74 609.26,181.48 609.45,182.88 609.63,183.90 609.82,184.54 610.00,184.78 610.19,184.61 610.37,184.05 610.56,183.09 610.74,181.76 610.93,180.08 611.11,178.07 611.30,175.77 611.48,173.21 611.67,170.43 611.85,167.47 612.04,164.37 612.22,161.16 612.41,157.89 612.59,154.59 612.78,151.28 612.96,147.99 613.15,144.74 613.33,141.55 613.52,138.42 613.70,135.35 613.89,132.35 614.07,129.40 614.26,126.51 614.44,123.64 614.63,120.80 614.81,117.96 615.00,115.10 615.18,112.21 615.37,109.27 615.55,106.28 615.74,103.22 615.92,100.10 616.11,96.92 616.30,93.67 616.48,90.39 616.67,87.08 616.85,83.77 617.04,80.49 617.22,77.27 617.41,74.14 617.59,71.15 617.78,68.33 617.96,65.73 618.15,63.38 618.33,61.31 618.52,59.56 618.70,58.17 618.89,57.14 619.07,56.50 619.26,56.26 619.44,56.43 619.63,57.00 619.81,57.95 620.00,59.29 620.18,60.97 620.37,62.98 620.55,65.28 620.74,67.85 620.92,70.63 621.11,73.59 621.29,76.69 621.48,79.90 621.66,83.17 621.85,86.48 622.03,89.79 622.22,93.08 622.40,96.34 622.59,99.53 622.77,102.67 622.96,105.74 623.14,108.74 623.33,111.69 623.51,114.59 623.70,117.45 623.89,120.30 624.07,123.15 624.26,126.01 624.44,128.90 624.63,131.84 624.81,134.83 625.00,137.89 625.18,141.02 625.37,144.21 625.55,147.45 625.74,150.74 625.92,154.05 626.11,157.36 626.29,160.65 626.48,163.87 626.66,167.00 626.85,169.99 627.03,172.81 627.22,175.42 627.40,177.77 627.59,179.84 627.77,181.59 627.96,182.99 628.14,184.02 628.33,184.65 628.51,184.89 628.70,184.73 628.88,184.16 629.07,183.20 629.25,181.87 629.44,180.18 629.62,178.17 629.81,175.86 629.99,173.30 630.18,170.52 630.36,167.55 630.55,164.45 630.73,161.24 630.92,157.96 631.10,154.65 631.29,151.33 631.48,148.04 631.66,144.78 631.85,141.58 632.03,138.45 632.22,135.38 632.40,132.37 632.59,129.42 632.77,126.52 632.96,123.65 633.14,120.80 633.33,117.95 633.51,115.09 633.70,112.19 633.88,109.25 634.07,106.25 634.25,103.19 634.44,100.06 634.62,96.87 634.81,93.63 634.99,90.34 635.18,87.02 635.36,83.70 635.55,80.42 635.73,77.19 635.92,74.06 636.10,71.06 636.29,68.24 636.47,65.63 636.66,63.28 636.84,61.21 637.03,59.46 637.21,58.06 637.40,57.03 637.58,56.39 637.77,56.15 637.95,56.32 638.14,56.88 638.32,57.84 638.51,59.18 638.69,60.87 638.88,62.88 639.06,65.19 639.25,67.75 639.44,70.54 639.62,73.51 639.81,76.62 639.99,79.83 640.18,83.11 640.36,86.42 640.55,89.74 640.73,93.04 640.92,96.29 641.10,99.50 641.29,102.64 641.47,105.71 641.66,108.72 641.84,111.67 642.03,114.58 642.21,117.45 642.40,120.30 642.58,123.15 642.77,126.02 642.95,128.92 643.14,131.86 643.32,134.86 643.51,137.92 643.69,141.05 643.88,144.25 644.06,147.50 644.25,150.79 644.43,154.11 644.62,157.43 644.80,160.72 644.99,163.95 645.17,167.08 645.36,170.08 645.54,172.90 645.73,175.52 645.91,177.87 646.10,179.95 646.28,181.70 646.47,183.10 646.65,184.13 646.84,184.77 647.03,185.01 647.21,184.84 647.40,184.27 647.58,183.31 647.77,181.98 647.95,180.29 648.14,178.27 648.32,175.96 648.51,173.39 648.69,170.60 648.88,167.63 649.06,164.52 649.25,161.31 649.43,158.02 649.62,154.71 649.80,151.39 649.99,148.09 650.17,144.83 650.36,141.62 650.54,138.48 650.73,135.40 650.91,132.39 651.10,129.43 651.28,126.53 651.47,123.65 651.65,120.80 651.84,117.95 652.02,115.08 652.21,112.18 652.39,109.23 652.58,106.23 652.76,103.16 652.95,100.03 653.13,96.83 653.32,93.58 653.50,90.28 653.69,86.96 653.87,83.64 654.06,80.35 654.24,77.11 654.43,73.98 654.62,70.98 654.80,68.15 654.99,65.54 655.17,63.18 655.36,61.10 655.54,59.35 655.73,57.95 655.91,56.92 656.10,56.28 656.28,56.04 656.47,56.20 656.65,56.77 656.84,57.73 657.02,59.07 657.21,60.76 657.39,62.78 657.58,65.09 657.76,67.66 657.95,70.45 658.13,73.42 658.32,76.54 658.50,79.76 658.69,83.04 658.87,86.36 659.06,89.69 659.24,92.99 659.43,96.25 659.61,99.46 659.80,102.61 659.98,105.69 660.17,108.70 660.35,111.66 660.54,114.57 660.72,117.44 660.91,120.30 661.09,123.16 661.28,126.03 661.46,128.93 661.65,131.88 661.83,134.88 662.02,137.95 662.20,141.09 662.39,144.29 662.58,147.55 662.76,150.84 662.95,154.17 663.13,157.49 663.32,160.79 663.50,164.02 663.69,167.16 663.87,170.17 664.06,173.00 664.24,175.61 664.43,177.98 664.61,180.05 664.80,181.80 664.98,183.21 665.17,184.24 665.35,184.88 665.54,185.12 665.72,184.95 665.91,184.38 666.09,183.42 666.28,182.08 666.46,180.39 666.65,178.37 666.83,176.06 667.02,173.49 667.20,170.69 667.39,167.72 667.57,164.60 667.76,161.38 667.94,158.09 668.13,154.77 668.31,151.44 668.50,148.14 668.68,144.87 668.87,141.66 669.05,138.51 669.24,135.43 669.42,132.41 669.61,129.45 669.79,126.54 669.98,123.66 670.17,120.80 670.35,117.94 670.54,115.07 670.72,112.16 670.91,109.21 671.09,106.20 671.28,103.13 671.46,99.99 671.65,96.79 671.83,93.53 672.02,90.23 672.20,86.90 672.39,83.57 672.57,80.28 672.76,77.04 672.94,73.90 673.13,70.89 673.31,68.06 673.50,65.44 673.68,63.07 673.87,61.00 674.05,59.24 674.24,57.84 674.42,56.81 674.61,56.16 674.79,55.93 674.98,56.09 675.16,56.66 675.35,57.62 675.53,58.96 675.72,60.66 675.90,62.68 676.09,64.99 676.27,67.57 676.46,70.36 676.64,73.34 676.83,76.46 677.01,79.69 677.20,82.98 677.38,86.30 677.57,89.63 677.76,92.94 677.94,96.21 678.13,99.42 678.31,102.57 678.50,105.66 678.68,108.68 678.87,111.64 679.05,114.56 679.24,117.44 679.42,120.30 679.61,123.16 679.79,126.04 679.98,128.95 680.16,131.90 680.35,134.91 680.53,137.98 680.72,141.12 680.90,144.33 681.09,147.59 681.27,150.90 681.46,154.23"/>
</g>
<text x="35.2" y="22.9" font-family="Liberation Serif" font-weight="bold" font-style="italic" font-size="16.5" stroke="#000" stroke-width="0.2">i<tspan font-size="9.8" dy="1.9">a</tspan></text>
<line x1="46.40" y1="21.30" x2="52.32" y2="32.67" stroke="#000" stroke-width="1.8"/><polygon fill="#000" points="56.70,41.10 48.31,33.63 55.40,29.94"/>
<text x="185.1" y="41.1" font-family="Liberation Serif" font-weight="bold" font-style="italic" font-size="16.5" stroke="#000" stroke-width="0.2">i<tspan font-size="9.8" dy="2.1">b</tspan></text>
<line x1="178.80" y1="42.80" x2="166.89" y2="51.43" stroke="#000" stroke-width="1.8"/><polygon fill="#000" points="159.20,57.00 165.36,47.60 170.05,54.08"/>
<text x="209.1" y="44.6" font-family="Liberation Serif" font-weight="bold" font-style="italic" font-size="16.5" stroke="#000" stroke-width="0.2">i<tspan font-size="9.8" dy="2.6">c</tspan></text>
<line x1="219.00" y1="44.80" x2="230.68" y2="51.22" stroke="#000" stroke-width="1.8"/><polygon fill="#000" points="239.00,55.80 227.87,54.24 231.73,47.23"/>
<text x="397.4" y="26.5" font-family="Liberation Serif" font-weight="bold" font-style="italic" font-size="16.5" stroke="#000" stroke-width="0.2">i<tspan font-size="9.8" dy="3.0">a</tspan></text>
<line x1="408.80" y1="21.30" x2="415.48" y2="33.30" stroke="#000" stroke-width="1.8"/><polygon fill="#000" points="420.10,41.60 411.50,34.37 418.49,30.48"/>
<text x="597.3" y="42.9" font-family="Liberation Serif" font-weight="bold" font-style="italic" font-size="16.5" stroke="#000" stroke-width="0.2">i<tspan font-size="9.8" dy="3.2">b</tspan></text>
<line x1="594.40" y1="41.60" x2="582.88" y2="50.00" stroke="#000" stroke-width="1.8"/><polygon fill="#000" points="575.20,55.60 581.33,46.18 586.04,52.65"/>
<text x="638.4" y="44.5" font-family="Liberation Serif" font-weight="bold" font-style="italic" font-size="16.5" stroke="#000" stroke-width="0.2">i<tspan font-size="9.8" dy="3.2">c</tspan></text>
<line x1="655.20" y1="44.80" x2="666.41" y2="50.75" stroke="#000" stroke-width="1.8"/><polygon fill="#000" points="674.80,55.20 663.65,53.81 667.40,46.75"/>
<g fill="none" stroke="#0000FF" stroke-width="1.55" stroke-dasharray="2.6 1.7"><line x1="41.1" y1="8.5" x2="164.6" y2="8.5"/><line x1="41.1" y1="234.0" x2="164.6" y2="234.0"/><line x1="41.1" y1="8.0" x2="41.1" y2="234.0"/><line x1="164.6" y1="8.0" x2="164.6" y2="234.0"/><line x1="165.5" y1="214.3" x2="381" y2="214.3"/></g><polygon fill="#0000FF" points="380.3,210.8 392,214.3 380.3,217.8"/><rect x="234.5" y="204" width="87.5" height="20.5" fill="#fff"/><text x="235.5" y="219.3" font-family="Liberation Serif" font-size="17.2" fill="#0000FF" stroke="#0000FF" stroke-width="0.3">enlargement</text>
<text x="25.2" y="14.7" text-anchor="end" font-family="Liberation Serif" font-size="17" fill="#000" stroke="#000" stroke-width="0.25">20</text>
<text x="25.2" y="73.0" text-anchor="end" font-family="Liberation Serif" font-size="17" fill="#000" stroke="#000" stroke-width="0.25">10</text>
<text x="25.2" y="128.0" text-anchor="end" font-family="Liberation Serif" font-size="17" fill="#000" stroke="#000" stroke-width="0.25">0</text>
<text x="22.2" y="184.8" text-anchor="end" font-family="Liberation Serif" font-size="17" fill="#000" stroke="#000" stroke-width="0.25">-10</text>
<text x="25.4" y="237.9" text-anchor="end" font-family="Liberation Serif" font-size="17" fill="#000" stroke="#000" stroke-width="0.25">-20</text>
<text x="384.2" y="11.8" text-anchor="end" font-family="Liberation Serif" font-size="17" fill="#000" stroke="#000" stroke-width="0.25">20</text>
<text x="384.2" y="69.5" text-anchor="end" font-family="Liberation Serif" font-size="17" fill="#000" stroke="#000" stroke-width="0.25">10</text>
<text x="383.0" y="123.7" text-anchor="end" font-family="Liberation Serif" font-size="17" fill="#000" stroke="#000" stroke-width="0.25">0</text>
<text x="387.6" y="182.3" text-anchor="end" font-family="Liberation Serif" font-size="17" fill="#000" stroke="#000" stroke-width="0.25">-10</text>
<text x="383.7" y="233.8" text-anchor="end" font-family="Liberation Serif" font-size="17" fill="#000" stroke="#000" stroke-width="0.25">-20</text>
<text x="52.8" y="250.9" text-anchor="middle" font-family="Liberation Serif" font-size="17.5" fill="#000" stroke="#000" stroke-width="0.25">1.0</text>
<text x="126.9" y="250.9" text-anchor="middle" font-family="Liberation Serif" font-size="17.5" fill="#000" stroke="#000" stroke-width="0.25">1.2</text>
<text x="201" y="250.9" text-anchor="middle" font-family="Liberation Serif" font-size="17.5" fill="#000" stroke="#000" stroke-width="0.25">1.4</text>
<text x="281.1" y="250.9" text-anchor="middle" font-family="Liberation Serif" font-size="17.5" fill="#000" stroke="#000" stroke-width="0.25">1.6</text>
<text x="412.3" y="250.9" text-anchor="middle" font-family="Liberation Serif" font-size="17.5" fill="#000" stroke="#000" stroke-width="0.25">1.0</text>
<text x="496.8" y="250.9" text-anchor="middle" font-family="Liberation Serif" font-size="17.5" fill="#000" stroke="#000" stroke-width="0.25">1.1</text>
<text x="593.3" y="250.9" text-anchor="middle" font-family="Liberation Serif" font-size="17.5" fill="#000" stroke="#000" stroke-width="0.25">1.2</text>
<text x="675.8" y="250.9" text-anchor="middle" font-family="Liberation Serif" font-size="17.5" fill="#000" stroke="#000" stroke-width="0.25">1.3</text>
<text x="150.6" y="267.4" font-family="Liberation Serif" font-size="17.6" fill="#000" stroke="#000" stroke-width="0.25">(<tspan font-style="italic">t</tspan>/s)</text>
<text x="524.0" y="273.4" font-family="Liberation Serif" font-size="17.6" fill="#000" stroke="#000" stroke-width="0.25">(<tspan font-style="italic">t</tspan>/s)</text>
</g>
</svg>
</body></html>
